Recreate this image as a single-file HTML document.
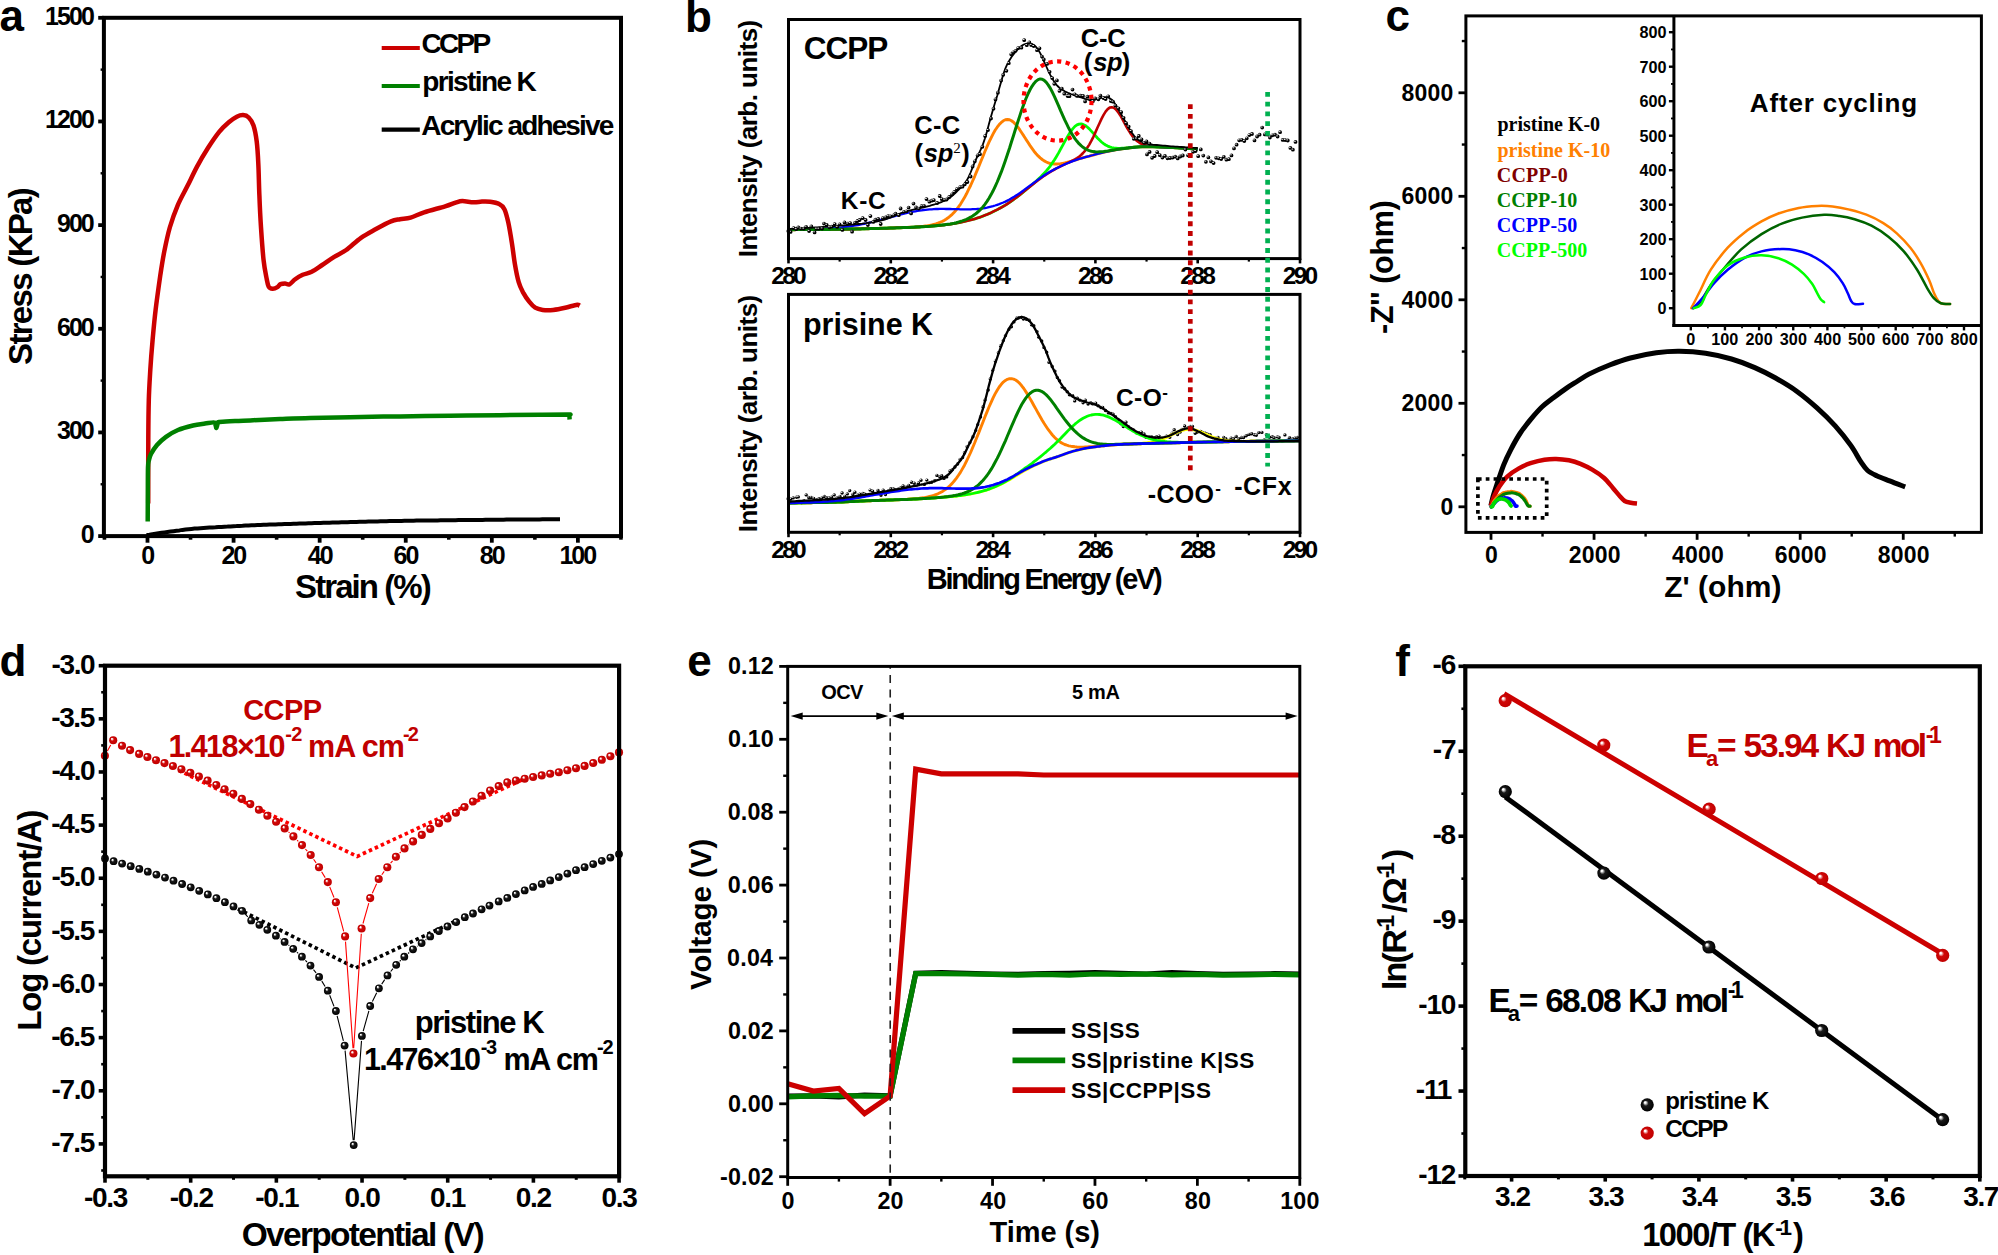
<!DOCTYPE html><html><head><meta charset="utf-8"><title>Figure</title><style>html,body{margin:0;padding:0;background:#fff}svg{display:block}text{white-space:pre}</style></head><body>
<svg width="1998" height="1255" viewBox="0 0 1998 1255">
<rect width="1998" height="1255" fill="#fff"/>
<defs>
<radialGradient id="gk" cx="0.5" cy="0.5" r="0.5" fx="0.32" fy="0.3"><stop offset="0" stop-color="#fff"/><stop offset="0.12" stop-color="#fff"/><stop offset="0.42" stop-color="#1a1a1a"/><stop offset="1" stop-color="#000"/></radialGradient>
<radialGradient id="gr" cx="0.5" cy="0.5" r="0.5" fx="0.32" fy="0.3"><stop offset="0" stop-color="#fff"/><stop offset="0.12" stop-color="#fff"/><stop offset="0.42" stop-color="#d00808"/><stop offset="1" stop-color="#c00000"/></radialGradient>
</defs>
<g id="panel-a">
<path d="M146.5,535.3L149.5,534.8L152.5,534.2L155.5,533.7L158.5,533.2L161.5,532.8L164.5,532.4L167.5,532.0L170.5,531.6L173.5,531.2L176.5,530.8L179.5,530.4L182.5,529.9L185.5,529.5L188.5,529.2L191.5,528.9L194.5,528.6L197.5,528.4L200.5,528.2L203.5,528.0L206.5,527.8L209.5,527.6L212.5,527.4L215.5,527.3L218.5,527.1L221.5,526.9L224.5,526.7L227.5,526.6L230.5,526.4L233.5,526.2L236.5,526.1L239.5,525.9L242.5,525.8L245.5,525.6L248.5,525.5L251.5,525.3L254.5,525.2L257.5,525.1L260.5,525.0L263.5,524.8L266.5,524.7L269.5,524.6L272.5,524.5L275.5,524.4L278.5,524.3L281.5,524.2L284.5,524.1L287.5,524.0L290.5,523.9L293.5,523.8L296.5,523.7L299.5,523.6L302.5,523.5L305.5,523.4L308.5,523.3L311.5,523.2L314.5,523.1L317.5,523.0L320.5,522.9L323.5,522.8L326.5,522.8L329.5,522.7L332.5,522.6L335.5,522.5L338.5,522.4L341.5,522.3L344.5,522.2L347.5,522.2L350.5,522.1L353.5,522.0L356.5,521.9L359.5,521.8L362.5,521.7L365.5,521.7L368.5,521.6L371.5,521.5L374.5,521.4L377.5,521.4L380.5,521.3L383.5,521.2L386.5,521.2L389.5,521.1L392.5,521.0L395.5,521.0L398.5,520.9L401.5,520.9L404.5,520.8L407.5,520.8L410.5,520.7L413.5,520.7L416.5,520.6L419.5,520.6L422.5,520.6L425.5,520.5L428.5,520.5L431.5,520.4L434.5,520.4L437.5,520.4L440.5,520.3L443.5,520.3L446.5,520.3L449.5,520.2L452.5,520.2L455.5,520.2L458.5,520.1L461.5,520.1L464.5,520.1L467.5,520.0L470.5,520.0L473.5,520.0L476.5,519.9L479.5,519.9L482.5,519.9L485.5,519.8L488.5,519.8L491.5,519.8L494.5,519.8L497.5,519.7L500.5,519.7L503.5,519.7L506.5,519.6L509.5,519.6L512.5,519.6L515.5,519.6L518.5,519.5L521.5,519.5L524.5,519.5L527.5,519.5L530.5,519.4L533.5,519.4L536.5,519.4L539.5,519.4L542.5,519.3L545.5,519.3L548.5,519.3L551.5,519.3L554.5,519.2L557.5,519.2L560.0,519.2" fill="none" stroke="#000" stroke-width="4" stroke-linejoin="round"/>
<path d="M148.2,503.6C148.2,492.6 148.2,455.0 148.3,437.7C148.4,420.4 148.5,411.3 148.8,400.0C149.1,388.7 149.7,380.0 150.3,370.0C150.9,360.0 151.7,350.0 152.6,340.0C153.5,330.0 154.3,320.8 155.6,310.0C156.9,299.2 158.9,285.1 160.3,275.3C161.8,265.5 162.7,259.4 164.3,251.4C165.9,243.4 167.6,235.2 169.8,227.5C172.1,219.8 174.9,212.1 177.8,205.2C180.7,198.3 184.2,192.5 187.4,186.1C190.6,179.7 193.5,173.3 196.9,166.9C200.3,160.5 204.4,153.6 208.1,147.8C211.8,142.0 215.8,136.2 219.2,131.9C222.6,127.7 225.9,124.8 228.8,122.3C231.7,119.8 234.4,117.9 236.8,116.7C239.2,115.5 241.1,115.0 243.1,115.1C245.1,115.2 247.0,115.8 248.7,117.5C250.4,119.2 252.2,121.5 253.5,125.5C254.8,129.5 255.9,135.0 256.7,141.4C257.5,147.8 257.9,154.7 258.3,163.7C258.8,172.7 258.9,185.0 259.4,195.6C259.8,206.2 260.3,216.9 261.0,227.5C261.7,238.1 262.6,251.2 263.5,259.4C264.4,267.6 265.4,272.4 266.3,276.9C267.2,281.4 267.6,284.5 268.6,286.5C269.7,288.5 271.1,288.7 272.6,288.8C274.1,288.9 276.1,288.0 277.4,287.2C278.7,286.4 279.3,284.7 280.6,284.1C281.9,283.5 283.5,283.4 285.0,283.4C286.5,283.4 287.7,285.0 289.4,284.3C291.1,283.6 293.0,280.9 295.2,279.3C297.4,277.7 299.9,276.1 302.7,274.8C305.4,273.6 308.4,273.4 311.7,271.8C314.9,270.2 318.4,267.5 322.2,265.0C325.9,262.5 330.2,259.3 334.2,256.8C338.2,254.3 341.7,253.2 346.2,250.0C350.7,246.8 356.0,241.3 361.0,237.8C366.0,234.3 371.0,231.8 376.0,229.0C381.0,226.2 387.0,222.9 391.0,221.3C395.0,219.7 396.7,219.8 400.0,219.2C403.3,218.6 406.6,218.8 410.6,217.6C414.6,216.4 418.4,214.2 424.1,212.3C429.9,210.4 439.9,207.9 445.1,206.3C450.4,204.7 452.7,203.5 455.6,202.6C458.5,201.7 459.4,201.1 462.4,201.1C465.4,201.1 470.3,202.2 473.6,202.3C476.9,202.4 479.2,201.7 482.0,201.6C484.8,201.5 487.3,201.4 490.2,201.8C493.1,202.2 496.8,202.8 499.2,204.1C501.6,205.3 502.9,206.3 504.4,209.3C505.9,212.3 506.9,216.5 508.2,222.1C509.4,227.7 510.8,236.1 511.9,243.1C513.0,250.1 513.8,257.6 514.9,264.1C516.0,270.6 517.3,277.4 518.7,282.1C520.1,286.9 521.5,289.3 523.2,292.6C525.0,295.9 527.2,299.2 529.2,301.7C531.2,304.2 533.0,306.3 535.2,307.7C537.5,309.1 539.7,309.5 542.7,309.9C545.7,310.3 549.5,310.3 553.2,309.9C557.0,309.5 561.2,308.6 565.2,307.7C569.2,306.8 574.8,305.0 577.2,304.7C579.6,304.4 579.1,305.7 579.5,305.9" fill="none" stroke="#CC0000" stroke-width="4.5" stroke-linejoin="round"/>
<path d="M147.7,521.6C147.7,518.0 147.8,509.0 147.8,500.0C147.9,491.0 147.8,474.3 148.0,467.6C148.2,460.9 148.5,462.3 149.0,460.0C149.5,457.7 149.7,456.5 151.0,454.0C152.3,451.5 154.5,447.9 157.0,445.0C159.5,442.1 162.5,439.3 166.0,436.8C169.5,434.3 173.5,431.9 178.0,430.0C182.5,428.1 188.5,426.6 193.0,425.5C197.5,424.4 201.5,424.1 205.0,423.6C208.5,423.1 212.3,422.2 214.0,422.4C215.7,422.5 215.0,423.6 215.4,424.5C215.8,425.4 216.1,428.1 216.4,428.0C216.8,427.9 217.1,425.2 217.5,424.2C217.9,423.2 216.1,422.5 219.0,422.0C221.9,421.5 229.8,421.3 235.0,421.0C240.2,420.7 242.7,420.7 250.2,420.4C257.7,420.1 270.0,419.4 280.0,419.0C290.0,418.6 298.5,418.2 310.2,417.9C321.9,417.6 335.0,417.4 350.0,417.2C365.0,416.9 383.3,416.6 400.0,416.4C416.7,416.2 433.3,416.0 450.0,415.8C466.7,415.6 485.0,415.4 500.0,415.2C515.0,415.0 528.7,414.9 540.0,414.8C551.3,414.7 563.1,414.6 568.0,414.6C572.9,414.6 569.0,414.0 569.3,414.8C569.6,415.6 569.5,418.7 569.6,419.5" fill="none" stroke="#008000" stroke-width="4.5" stroke-linejoin="round"/>
<rect x="103.90" y="17.80" width="517.10" height="518.30" fill="none" stroke="#000" stroke-width="4"/>
<line x1="147.50" y1="536.10" x2="147.50" y2="542.70" stroke="#000" stroke-width="3.8" />
<line x1="233.58" y1="536.10" x2="233.58" y2="542.70" stroke="#000" stroke-width="3.8" />
<line x1="319.66" y1="536.10" x2="319.66" y2="542.70" stroke="#000" stroke-width="3.8" />
<line x1="405.74" y1="536.10" x2="405.74" y2="542.70" stroke="#000" stroke-width="3.8" />
<line x1="491.82" y1="536.10" x2="491.82" y2="542.70" stroke="#000" stroke-width="3.8" />
<line x1="577.90" y1="536.10" x2="577.90" y2="542.70" stroke="#000" stroke-width="3.8" />
<line x1="104.46" y1="536.10" x2="104.46" y2="539.70" stroke="#000" stroke-width="3.6" />
<line x1="190.54" y1="536.10" x2="190.54" y2="539.70" stroke="#000" stroke-width="3.6" />
<line x1="276.62" y1="536.10" x2="276.62" y2="539.70" stroke="#000" stroke-width="3.6" />
<line x1="362.70" y1="536.10" x2="362.70" y2="539.70" stroke="#000" stroke-width="3.6" />
<line x1="448.78" y1="536.10" x2="448.78" y2="539.70" stroke="#000" stroke-width="3.6" />
<line x1="534.86" y1="536.10" x2="534.86" y2="539.70" stroke="#000" stroke-width="3.6" />
<line x1="620.94" y1="536.10" x2="620.94" y2="539.70" stroke="#000" stroke-width="3.6" />
<line x1="103.90" y1="536.10" x2="98.20" y2="536.10" stroke="#000" stroke-width="3.8" />
<line x1="103.90" y1="432.44" x2="98.20" y2="432.44" stroke="#000" stroke-width="3.8" />
<line x1="103.90" y1="328.78" x2="98.20" y2="328.78" stroke="#000" stroke-width="3.8" />
<line x1="103.90" y1="225.12" x2="98.20" y2="225.12" stroke="#000" stroke-width="3.8" />
<line x1="103.90" y1="121.46" x2="98.20" y2="121.46" stroke="#000" stroke-width="3.8" />
<line x1="103.90" y1="17.81" x2="98.20" y2="17.81" stroke="#000" stroke-width="3.8" />
<line x1="103.90" y1="484.27" x2="100.60" y2="484.27" stroke="#000" stroke-width="2.4" />
<line x1="103.90" y1="380.61" x2="100.60" y2="380.61" stroke="#000" stroke-width="2.4" />
<line x1="103.90" y1="276.95" x2="100.60" y2="276.95" stroke="#000" stroke-width="2.4" />
<line x1="103.90" y1="173.29" x2="100.60" y2="173.29" stroke="#000" stroke-width="2.4" />
<line x1="103.90" y1="69.63" x2="100.60" y2="69.63" stroke="#000" stroke-width="2.4" />
<text x="80.86" y="543.10" font-size="25" letter-spacing="-1.954" fill="#000" font-family='"Liberation Sans",Arial,sans-serif' font-weight="bold" font-style="normal">0</text>
<text x="56.96" y="439.44" font-size="25" letter-spacing="-1.954" fill="#000" font-family='"Liberation Sans",Arial,sans-serif' font-weight="bold" font-style="normal">300</text>
<text x="56.96" y="335.78" font-size="25" letter-spacing="-1.954" fill="#000" font-family='"Liberation Sans",Arial,sans-serif' font-weight="bold" font-style="normal">600</text>
<text x="56.96" y="232.12" font-size="25" letter-spacing="-1.954" fill="#000" font-family='"Liberation Sans",Arial,sans-serif' font-weight="bold" font-style="normal">900</text>
<text x="45.04" y="128.46" font-size="25" letter-spacing="-1.954" fill="#000" font-family='"Liberation Sans",Arial,sans-serif' font-weight="bold" font-style="normal">1200</text>
<text x="45.04" y="24.81" font-size="25" letter-spacing="-1.954" fill="#000" font-family='"Liberation Sans",Arial,sans-serif' font-weight="bold" font-style="normal">1500</text>
<text x="141.26" y="563.70" font-size="25" letter-spacing="-1.994" fill="#000" font-family='"Liberation Sans",Arial,sans-serif' font-weight="bold" font-style="normal">0</text>
<text x="221.46" y="563.70" font-size="25" letter-spacing="-1.994" fill="#000" font-family='"Liberation Sans",Arial,sans-serif' font-weight="bold" font-style="normal">20</text>
<text x="307.76" y="563.70" font-size="25" letter-spacing="-1.994" fill="#000" font-family='"Liberation Sans",Arial,sans-serif' font-weight="bold" font-style="normal">40</text>
<text x="393.59" y="563.70" font-size="25" letter-spacing="-1.994" fill="#000" font-family='"Liberation Sans",Arial,sans-serif' font-weight="bold" font-style="normal">60</text>
<text x="479.74" y="563.70" font-size="25" letter-spacing="-1.994" fill="#000" font-family='"Liberation Sans",Arial,sans-serif' font-weight="bold" font-style="normal">80</text>
<text x="559.44" y="563.70" font-size="25" letter-spacing="-1.994" fill="#000" font-family='"Liberation Sans",Arial,sans-serif' font-weight="bold" font-style="normal">100</text>
<text x="295.09" y="597.90" font-size="33" letter-spacing="-1.928" fill="#000" font-family='"Liberation Sans",Arial,sans-serif' font-weight="bold" font-style="normal" >Strain (%)</text>
<text transform="translate(31.90,364.00) rotate(-90)" x="-0.91" y="0" font-size="33" letter-spacing="-1.690" fill="#000" font-family='"Liberation Sans",Arial,sans-serif' font-weight="bold" font-style="normal">Stress (KPa)</text>
<text x="-0.41" y="31.30" font-size="44" letter-spacing="0.000" fill="#000" font-family='"Liberation Sans",Arial,sans-serif' font-weight="bold" font-style="normal" >a</text>
<line x1="381.70" y1="48.00" x2="419.80" y2="48.00" stroke="#CC0000" stroke-width="4.2" />
<line x1="381.70" y1="86.00" x2="419.80" y2="86.00" stroke="#008000" stroke-width="4.2" />
<line x1="381.70" y1="129.60" x2="419.80" y2="129.60" stroke="#000" stroke-width="4.2" />
<text x="421.58" y="53.20" font-size="28" letter-spacing="-2.703" fill="#000" font-family='"Liberation Sans",Arial,sans-serif' font-weight="bold" font-style="normal" >CCPP</text>
<text x="422.18" y="91.30" font-size="28" letter-spacing="-1.613" fill="#000" font-family='"Liberation Sans",Arial,sans-serif' font-weight="bold" font-style="normal" >pristine K</text>
<text x="421.30" y="135.20" font-size="28" letter-spacing="-1.872" fill="#000" font-family='"Liberation Sans",Arial,sans-serif' font-weight="bold" font-style="normal" >Acrylic adhesive</text>
</g>
<g id="panel-b">
<path d="M788.5,229.7L790.5,229.7L792.6,229.7L794.6,229.7L796.7,229.6L798.7,229.6L800.8,229.6L802.8,229.6L804.9,229.6L806.9,229.6L809.0,229.5L811.0,229.5L813.1,229.5L815.1,229.5L817.1,229.5L819.2,229.5L821.2,229.4L823.3,229.4L825.3,229.4L827.4,229.4L829.4,229.4L831.5,229.3L833.5,229.3L835.6,229.3L837.6,229.3L839.6,229.2L841.7,229.2L843.7,229.2L845.8,229.1L847.8,229.1L849.9,229.1L851.9,229.0L854.0,229.0L856.0,228.9L858.1,228.9L860.1,228.9L862.2,228.8L864.2,228.8L866.2,228.7L868.3,228.7L870.3,228.6L872.4,228.5L874.4,228.5L876.5,228.4L878.5,228.4L880.6,228.3L882.6,228.3L884.7,228.2L886.7,228.2L888.8,228.1L890.8,228.0L892.8,228.0L894.9,227.9L896.9,227.8L899.0,227.8L901.0,227.7L903.1,227.6L905.1,227.5L907.2,227.4L909.2,227.3L911.3,227.2L913.3,227.1L915.4,227.0L917.4,226.8L919.4,226.7L921.5,226.5L923.5,226.3L925.6,226.0L927.6,225.7L929.7,225.3L931.7,224.9L933.8,224.4L935.8,223.9L937.9,223.2L939.9,222.4L942.0,221.5L944.0,220.4L946.0,219.2L948.1,217.8L950.1,216.2L952.2,214.3L954.2,212.2L956.3,209.8L958.3,207.2L960.4,204.3L962.4,201.1L964.5,197.6L966.5,193.8L968.5,189.7L970.6,185.5L972.6,181.0L974.7,176.3L976.7,171.4L978.8,166.5L980.8,161.5L982.9,156.5L984.9,151.5L987.0,146.7L989.0,142.1L991.1,137.8L993.1,133.9L995.1,130.3L997.2,127.2L999.2,124.6L1001.3,122.4L1003.3,120.8L1005.4,119.8L1007.4,119.5L1009.5,119.8L1011.5,120.8L1013.6,122.3L1015.6,124.4L1017.7,126.9L1019.7,129.7L1021.7,132.7L1023.8,135.9L1025.8,139.1L1027.9,142.3L1029.9,145.4L1032.0,148.4L1034.0,151.2L1036.1,153.7L1038.1,155.9L1040.2,157.9L1042.2,159.5L1044.2,160.9L1046.3,162.0L1048.3,162.9L1050.4,163.5L1052.4,163.8L1054.5,164.0L1056.5,164.0L1058.6,163.9L1060.6,163.7L1062.7,163.3L1064.7,162.9L1066.8,162.4L1068.8,161.8L1070.8,161.3L1072.9,160.7L1074.9,160.1L1077.0,159.5L1079.0,158.9L1081.1,158.3L1083.1,157.7L1085.2,157.2L1087.2,156.6L1089.3,156.1L1091.3,155.5L1093.4,155.0L1095.4,154.4L1097.4,153.9L1099.5,153.4L1101.5,152.9L1103.6,152.4L1105.6,151.9L1107.7,151.4L1109.7,151.0L1111.8,150.6L1113.8,150.1L1115.9,149.8L1117.9,149.4L1120.0,149.1L1122.0,148.8L1124.0,148.5L1126.1,148.2L1128.1,148.0L1130.2,147.7L1132.2,147.5L1134.3,147.3L1136.3,147.1L1138.4,146.9L1140.4,146.8L1142.5,146.7L1144.5,146.7L1146.5,146.7L1148.6,146.7L1150.6,146.7L1152.7,146.7L1154.7,146.8L1156.8,146.9L1158.8,146.9L1160.9,147.0L1162.9,147.1L1165.0,147.2L1167.0,147.3L1169.1,147.4L1171.1,147.5L1173.1,147.6L1175.2,147.7L1177.2,147.8L1179.3,147.9L1181.3,148.0L1183.4,148.1L1185.4,148.3L1187.5,148.4L1189.5,148.5L1191.6,148.7L1193.6,148.8L1195.7,148.9L1197.7,149.0" fill="none" stroke="#FF8000" stroke-width="2.9" stroke-linejoin="round"/>
<path d="M788.5,229.7L790.5,229.7L792.6,229.7L794.6,229.7L796.7,229.6L798.7,229.6L800.8,229.6L802.8,229.6L804.9,229.6L806.9,229.6L809.0,229.5L811.0,229.5L813.1,229.5L815.1,229.5L817.1,229.5L819.2,229.5L821.2,229.4L823.3,229.4L825.3,229.4L827.4,229.4L829.4,229.4L831.5,229.3L833.5,229.3L835.6,229.3L837.6,229.3L839.6,229.2L841.7,229.2L843.7,229.2L845.8,229.1L847.8,229.1L849.9,229.1L851.9,229.0L854.0,229.0L856.0,228.9L858.1,228.9L860.1,228.9L862.2,228.8L864.2,228.8L866.2,228.7L868.3,228.7L870.3,228.6L872.4,228.5L874.4,228.5L876.5,228.4L878.5,228.4L880.6,228.3L882.6,228.3L884.7,228.2L886.7,228.2L888.8,228.1L890.8,228.0L892.8,228.0L894.9,227.9L896.9,227.8L899.0,227.8L901.0,227.7L903.1,227.6L905.1,227.6L907.2,227.5L909.2,227.4L911.3,227.3L913.3,227.2L915.4,227.1L917.4,227.0L919.4,226.9L921.5,226.8L923.5,226.7L925.6,226.6L927.6,226.4L929.7,226.3L931.7,226.1L933.8,225.9L935.8,225.8L937.9,225.6L939.9,225.4L942.0,225.2L944.0,224.9L946.0,224.7L948.1,224.4L950.1,224.2L952.2,223.9L954.2,223.5L956.3,223.2L958.3,222.8L960.4,222.4L962.4,222.0L964.5,221.5L966.5,221.0L968.5,220.5L970.6,220.0L972.6,219.4L974.7,218.9L976.7,218.2L978.8,217.6L980.8,216.9L982.9,216.1L984.9,215.3L987.0,214.5L989.0,213.6L991.1,212.7L993.1,211.7L995.1,210.7L997.2,209.7L999.2,208.6L1001.3,207.5L1003.3,206.3L1005.4,205.1L1007.4,203.8L1009.5,202.4L1011.5,201.0L1013.6,199.5L1015.6,198.0L1017.7,196.5L1019.7,194.9L1021.7,193.3L1023.8,191.6L1025.8,189.9L1027.9,188.2L1029.9,186.5L1032.0,184.7L1034.0,183.0L1036.1,181.2L1038.1,179.3L1040.2,177.4L1042.2,175.3L1044.2,173.2L1046.3,170.9L1048.3,168.5L1050.4,165.8L1052.4,162.9L1054.5,159.8L1056.5,156.5L1058.6,152.9L1060.6,149.2L1062.7,145.4L1064.7,141.6L1066.8,137.9L1068.8,134.4L1070.8,131.3L1072.9,128.6L1074.9,126.4L1077.0,124.9L1079.0,124.1L1081.1,123.9L1083.1,124.4L1085.2,125.4L1087.2,127.0L1089.3,128.9L1091.3,131.1L1093.4,133.4L1095.4,135.7L1097.4,138.0L1099.5,140.1L1101.5,142.0L1103.6,143.6L1105.6,145.0L1107.7,146.1L1109.7,146.9L1111.8,147.5L1113.8,147.9L1115.9,148.1L1117.9,148.3L1120.0,148.3L1122.0,148.2L1124.0,148.1L1126.1,148.0L1128.1,147.8L1130.2,147.6L1132.2,147.4L1134.3,147.2L1136.3,147.1L1138.4,146.9L1140.4,146.8L1142.5,146.7L1144.5,146.7L1146.5,146.6L1148.6,146.7L1150.6,146.7L1152.7,146.7L1154.7,146.8L1156.8,146.9L1158.8,146.9L1160.9,147.0L1162.9,147.1L1165.0,147.2L1167.0,147.3L1169.1,147.4L1171.1,147.5L1173.1,147.6L1175.2,147.7L1177.2,147.8L1179.3,147.9L1181.3,148.0L1183.4,148.1L1185.4,148.3L1187.5,148.4L1189.5,148.5L1191.6,148.7L1193.6,148.8L1195.7,148.9L1197.7,149.0" fill="none" stroke="#00FF00" stroke-width="2.8" stroke-linejoin="round"/>
<path d="M788.5,229.7L790.5,229.7L792.6,229.7L794.6,229.7L796.7,229.6L798.7,229.6L800.8,229.6L802.8,229.6L804.9,229.6L806.9,229.6L809.0,229.5L811.0,229.5L813.1,229.5L815.1,229.5L817.1,229.5L819.2,229.5L821.2,229.4L823.3,229.4L825.3,229.4L827.4,229.4L829.4,229.4L831.5,229.3L833.5,229.3L835.6,229.3L837.6,229.3L839.6,229.2L841.7,229.2L843.7,229.2L845.8,229.1L847.8,229.1L849.9,229.1L851.9,229.0L854.0,229.0L856.0,228.9L858.1,228.9L860.1,228.9L862.2,228.8L864.2,228.8L866.2,228.7L868.3,228.7L870.3,228.6L872.4,228.5L874.4,228.5L876.5,228.4L878.5,228.4L880.6,228.3L882.6,228.3L884.7,228.2L886.7,228.2L888.8,228.1L890.8,228.0L892.8,228.0L894.9,227.9L896.9,227.8L899.0,227.8L901.0,227.7L903.1,227.6L905.1,227.6L907.2,227.5L909.2,227.4L911.3,227.3L913.3,227.2L915.4,227.1L917.4,227.0L919.4,226.9L921.5,226.8L923.5,226.7L925.6,226.6L927.6,226.4L929.7,226.3L931.7,226.1L933.8,225.9L935.8,225.8L937.9,225.6L939.9,225.4L942.0,225.2L944.0,224.9L946.0,224.7L948.1,224.4L950.1,224.2L952.2,223.9L954.2,223.5L956.3,223.2L958.3,222.8L960.4,222.4L962.4,222.0L964.5,221.5L966.5,221.0L968.5,220.5L970.6,220.0L972.6,219.4L974.7,218.9L976.7,218.2L978.8,217.6L980.8,216.9L982.9,216.1L984.9,215.3L987.0,214.5L989.0,213.6L991.1,212.7L993.1,211.7L995.1,210.7L997.2,209.7L999.2,208.6L1001.3,207.5L1003.3,206.3L1005.4,205.1L1007.4,203.8L1009.5,202.4L1011.5,201.0L1013.6,199.5L1015.6,198.0L1017.7,196.5L1019.7,194.9L1021.7,193.3L1023.8,191.6L1025.8,190.0L1027.9,188.3L1029.9,186.7L1032.0,185.0L1034.0,183.4L1036.1,181.8L1038.1,180.2L1040.2,178.7L1042.2,177.2L1044.2,175.8L1046.3,174.4L1048.3,173.1L1050.4,171.9L1052.4,170.7L1054.5,169.5L1056.5,168.4L1058.6,167.4L1060.6,166.4L1062.7,165.4L1064.7,164.4L1066.8,163.4L1068.8,162.5L1070.8,161.5L1072.9,160.5L1074.9,159.4L1077.0,158.1L1079.0,156.7L1081.1,155.0L1083.1,153.0L1085.2,150.6L1087.2,147.8L1089.3,144.6L1091.3,140.9L1093.4,136.8L1095.4,132.4L1097.4,127.8L1099.5,123.3L1101.5,118.9L1103.6,114.9L1105.6,111.6L1107.7,109.1L1109.7,107.6L1111.8,107.2L1113.8,107.8L1115.9,109.4L1117.9,111.8L1120.0,114.9L1122.0,118.4L1124.0,122.2L1126.1,126.0L1128.1,129.6L1130.2,132.9L1132.2,135.8L1134.3,138.3L1136.3,140.4L1138.4,142.0L1140.4,143.3L1142.5,144.3L1144.5,145.0L1146.5,145.5L1148.6,145.9L1150.6,146.2L1152.7,146.4L1154.7,146.6L1156.8,146.8L1158.8,146.9L1160.9,147.0L1162.9,147.1L1165.0,147.2L1167.0,147.3L1169.1,147.4L1171.1,147.5L1173.1,147.6L1175.2,147.7L1177.2,147.8L1179.3,147.9L1181.3,148.0L1183.4,148.1L1185.4,148.3L1187.5,148.4L1189.5,148.5L1191.6,148.7L1193.6,148.8L1195.7,148.9L1197.7,149.0" fill="none" stroke="#C00000" stroke-width="2.6" stroke-linejoin="round"/>
<path d="M788.5,229.6L790.5,229.6L792.6,229.6L794.6,229.6L796.7,229.5L798.7,229.5L800.8,229.5L802.8,229.4L804.9,229.4L806.9,229.3L809.0,229.3L811.0,229.2L813.1,229.2L815.1,229.1L817.1,229.0L819.2,228.9L821.2,228.9L823.3,228.8L825.3,228.6L827.4,228.5L829.4,228.4L831.5,228.3L833.5,228.1L835.6,227.9L837.6,227.8L839.6,227.6L841.7,227.4L843.7,227.1L845.8,226.9L847.8,226.6L849.9,226.3L851.9,226.0L854.0,225.7L856.0,225.4L858.1,225.0L860.1,224.6L862.2,224.2L864.2,223.8L866.2,223.4L868.3,222.9L870.3,222.5L872.4,222.0L874.4,221.5L876.5,221.0L878.5,220.5L880.6,219.9L882.6,219.4L884.7,218.8L886.7,218.3L888.8,217.7L890.8,217.2L892.8,216.6L894.9,216.1L896.9,215.5L899.0,215.0L901.0,214.5L903.1,214.0L905.1,213.5L907.2,213.0L909.2,212.5L911.3,212.1L913.3,211.7L915.4,211.3L917.4,210.9L919.4,210.6L921.5,210.3L923.5,210.0L925.6,209.8L927.6,209.6L929.7,209.4L931.7,209.3L933.8,209.1L935.8,209.0L937.9,209.0L939.9,208.9L942.0,208.9L944.0,208.9L946.0,209.0L948.1,209.0L950.1,209.0L952.2,209.1L954.2,209.2L956.3,209.2L958.3,209.2L960.4,209.3L962.4,209.3L964.5,209.3L966.5,209.3L968.5,209.3L970.6,209.3L972.6,209.2L974.7,209.1L976.7,209.0L978.8,208.8L980.8,208.6L982.9,208.3L984.9,208.0L987.0,207.6L989.0,207.1L991.1,206.6L993.1,206.1L995.1,205.5L997.2,204.8L999.2,204.1L1001.3,203.3L1003.3,202.5L1005.4,201.6L1007.4,200.6L1009.5,199.5L1011.5,198.3L1013.6,197.1L1015.6,195.8L1017.7,194.5L1019.7,193.1L1021.7,191.7L1023.8,190.2L1025.8,188.7L1027.9,187.1L1029.9,185.6L1032.0,184.1L1034.0,182.6L1036.1,181.1L1038.1,179.6L1040.2,178.1L1042.2,176.7L1044.2,175.3L1046.3,174.0L1048.3,172.8L1050.4,171.6L1052.4,170.4L1054.5,169.3L1056.5,168.2L1058.6,167.2L1060.6,166.2L1062.7,165.3L1064.7,164.4L1066.8,163.5L1068.8,162.7L1070.8,161.9L1072.9,161.1L1074.9,160.4L1077.0,159.7L1079.0,159.0L1081.1,158.4L1083.1,157.8L1085.2,157.2L1087.2,156.6L1089.3,156.1L1091.3,155.5L1093.4,155.0L1095.4,154.4L1097.4,153.9L1099.5,153.4L1101.5,152.9L1103.6,152.4L1105.6,151.9L1107.7,151.4L1109.7,151.0L1111.8,150.6L1113.8,150.1L1115.9,149.8L1117.9,149.4L1120.0,149.1L1122.0,148.8L1124.0,148.5L1126.1,148.2L1128.1,148.0L1130.2,147.7L1132.2,147.5L1134.3,147.3L1136.3,147.1L1138.4,146.9L1140.4,146.8L1142.5,146.7L1144.5,146.7L1146.5,146.7L1148.6,146.7L1150.6,146.7L1152.7,146.7L1154.7,146.8L1156.8,146.9L1158.8,146.9L1160.9,147.0L1162.9,147.1L1165.0,147.2L1167.0,147.3L1169.1,147.4L1171.1,147.5L1173.1,147.6L1175.2,147.7L1177.2,147.8L1179.3,147.9L1181.3,148.0L1183.4,148.1L1185.4,148.3L1187.5,148.4L1189.5,148.5L1191.6,148.7L1193.6,148.8L1195.7,148.9L1197.7,149.0" fill="none" stroke="#0000FF" stroke-width="2.3" stroke-linejoin="round"/>
<path d="M788.5,229.7L790.5,229.7L792.6,229.7L794.6,229.7L796.7,229.6L798.7,229.6L800.8,229.6L802.8,229.6L804.9,229.6L806.9,229.6L809.0,229.5L811.0,229.5L813.1,229.5L815.1,229.5L817.1,229.5L819.2,229.5L821.2,229.4L823.3,229.4L825.3,229.4L827.4,229.4L829.4,229.4L831.5,229.3L833.5,229.3L835.6,229.3L837.6,229.3L839.6,229.2L841.7,229.2L843.7,229.2L845.8,229.1L847.8,229.1L849.9,229.1L851.9,229.0L854.0,229.0L856.0,228.9L858.1,228.9L860.1,228.9L862.2,228.8L864.2,228.8L866.2,228.7L868.3,228.7L870.3,228.6L872.4,228.5L874.4,228.5L876.5,228.4L878.5,228.4L880.6,228.3L882.6,228.3L884.7,228.2L886.7,228.2L888.8,228.1L890.8,228.0L892.8,228.0L894.9,227.9L896.9,227.8L899.0,227.8L901.0,227.7L903.1,227.6L905.1,227.6L907.2,227.5L909.2,227.4L911.3,227.3L913.3,227.2L915.4,227.1L917.4,227.0L919.4,226.9L921.5,226.8L923.5,226.7L925.6,226.6L927.6,226.4L929.7,226.3L931.7,226.1L933.8,225.9L935.8,225.7L937.9,225.5L939.9,225.3L942.0,225.1L944.0,224.9L946.0,224.6L948.1,224.3L950.1,224.0L952.2,223.6L954.2,223.2L956.3,222.7L958.3,222.1L960.4,221.5L962.4,220.9L964.5,220.1L966.5,219.3L968.5,218.3L970.6,217.2L972.6,216.0L974.7,214.6L976.7,213.0L978.8,211.2L980.8,209.2L982.9,206.9L984.9,204.3L987.0,201.4L989.0,198.2L991.1,194.6L993.1,190.8L995.1,186.6L997.2,182.0L999.2,177.1L1001.3,171.9L1003.3,166.4L1005.4,160.5L1007.4,154.5L1009.5,148.2L1011.5,141.7L1013.6,135.2L1015.6,128.7L1017.7,122.3L1019.7,116.1L1021.7,110.0L1023.8,104.3L1025.8,99.0L1027.9,94.2L1029.9,90.0L1032.0,86.3L1034.0,83.4L1036.1,81.1L1038.1,79.6L1040.2,78.9L1042.2,79.2L1044.2,80.4L1046.3,82.4L1048.3,85.1L1050.4,88.4L1052.4,92.3L1054.5,96.6L1056.5,101.1L1058.6,105.8L1060.6,110.6L1062.7,115.3L1064.7,119.9L1066.8,124.2L1068.8,128.3L1070.8,132.1L1072.9,135.5L1074.9,138.6L1077.0,141.3L1079.0,143.7L1081.1,145.7L1083.1,147.3L1085.2,148.7L1087.2,149.8L1089.3,150.6L1091.3,151.2L1093.4,151.6L1095.4,151.8L1097.4,151.9L1099.5,151.8L1101.5,151.7L1103.6,151.5L1105.6,151.2L1107.7,151.0L1109.7,150.6L1111.8,150.3L1113.8,150.0L1115.9,149.6L1117.9,149.3L1120.0,149.0L1122.0,148.7L1124.0,148.5L1126.1,148.2L1128.1,147.9L1130.2,147.7L1132.2,147.5L1134.3,147.3L1136.3,147.1L1138.4,146.9L1140.4,146.8L1142.5,146.7L1144.5,146.7L1146.5,146.7L1148.6,146.7L1150.6,146.7L1152.7,146.7L1154.7,146.8L1156.8,146.9L1158.8,146.9L1160.9,147.0L1162.9,147.1L1165.0,147.2L1167.0,147.3L1169.1,147.4L1171.1,147.5L1173.1,147.6L1175.2,147.7L1177.2,147.8L1179.3,147.9L1181.3,148.0L1183.4,148.1L1185.4,148.3L1187.5,148.4L1189.5,148.5L1191.6,148.7L1193.6,148.8L1195.7,148.9L1197.7,149.0" fill="none" stroke="#008000" stroke-width="3.0" stroke-linejoin="round"/>
<path d="M788.5,228.9L790.5,228.9L792.6,228.7L794.6,228.6L796.7,228.5L798.7,228.4L800.8,228.3L802.8,228.1L804.9,228.0L806.9,227.9L809.0,227.8L811.0,227.7L813.1,227.6L815.1,227.4L817.1,227.3L819.2,227.2L821.2,227.1L823.3,226.9L825.3,226.8L827.4,226.6L829.4,226.5L831.5,226.4L833.5,226.2L835.6,226.0L837.6,225.9L839.6,225.7L841.7,225.5L843.7,225.4L845.8,225.2L847.8,225.0L849.9,224.8L851.9,224.6L854.0,224.5L856.0,224.2L858.1,224.0L860.1,223.8L862.2,223.6L864.2,223.3L866.2,223.1L868.3,222.8L870.3,222.5L872.4,222.2L874.4,221.9L876.5,221.6L878.5,221.2L880.6,220.7L882.6,220.2L884.7,219.6L886.7,218.9L888.8,218.1L890.8,217.3L892.8,216.5L894.9,215.7L896.9,214.8L899.0,214.0L901.0,213.2L903.1,212.5L905.1,211.8L907.2,211.2L909.2,210.7L911.3,210.1L913.3,209.6L915.4,209.2L917.4,208.7L919.4,208.2L921.5,207.8L923.5,207.3L925.6,206.8L927.6,206.3L929.7,205.8L931.7,205.2L933.8,204.6L935.8,204.0L937.9,203.3L939.9,202.6L942.0,201.8L944.0,200.9L946.0,200.0L948.1,198.9L950.1,197.5L952.2,195.9L954.2,194.1L956.3,192.1L958.3,190.0L960.4,187.9L962.4,185.8L964.5,183.6L966.5,180.9L968.5,177.2L970.6,172.5L972.6,167.4L974.7,162.4L976.7,157.9L978.8,153.6L980.8,149.3L982.9,144.4L984.9,138.5L987.0,131.5L989.0,123.8L991.1,116.2L993.1,109.2L995.1,102.5L997.2,95.8L999.2,88.6L1001.3,81.2L1003.3,74.2L1005.4,68.4L1007.4,63.9L1009.5,60.2L1011.5,57.0L1013.6,54.2L1015.6,51.6L1017.7,49.4L1019.7,47.4L1021.7,45.8L1023.8,44.5L1025.8,43.8L1027.9,43.4L1029.9,43.5L1032.0,44.1L1034.0,45.3L1036.1,47.0L1038.1,49.5L1040.2,53.1L1042.2,57.3L1044.2,61.9L1046.3,66.5L1048.3,70.9L1050.4,75.1L1052.4,78.8L1054.5,82.2L1056.5,84.9L1058.6,87.0L1060.6,88.7L1062.7,90.0L1064.7,91.2L1066.8,92.2L1068.8,93.2L1070.8,94.0L1072.9,94.7L1074.9,95.4L1077.0,96.1L1079.0,96.8L1081.1,97.5L1083.1,98.2L1085.2,98.8L1087.2,99.3L1089.3,99.6L1091.3,99.8L1093.4,99.7L1095.4,99.4L1097.4,98.9L1099.5,98.4L1101.5,97.8L1103.6,97.3L1105.6,97.1L1107.7,97.3L1109.7,98.2L1111.8,99.7L1113.8,102.1L1115.9,105.3L1117.9,108.6L1120.0,112.1L1122.0,115.7L1124.0,119.3L1126.1,122.9L1128.1,126.6L1130.2,130.1L1132.2,133.3L1134.3,136.0L1136.3,138.3L1138.4,140.0L1140.4,141.3L1142.5,142.3L1144.5,143.1L1146.5,143.6L1148.6,144.0L1150.6,144.3L1152.7,144.6L1154.7,144.8L1156.8,145.0L1158.8,145.2L1160.9,145.4L1162.9,145.6L1165.0,145.7L1167.0,145.9L1169.1,146.1L1171.1,146.3L1173.1,146.4L1175.2,146.6L1177.2,146.7L1179.3,146.9L1181.3,147.0L1183.4,147.1L1185.4,147.3L1187.5,147.4L1189.5,147.5L1191.6,147.7L1193.6,147.8L1195.7,147.9L1197.7,148.0" fill="none" stroke="#000" stroke-width="1.8" stroke-linejoin="round"/>
<path d="M786.4,231.1a1.9,1.9 0 1,0 3.8,0a1.9,1.9 0 1,0 -3.8,0M788.7,231.9a1.9,1.9 0 1,0 3.8,0a1.9,1.9 0 1,0 -3.8,0M791.8,228.1a1.9,1.9 0 1,0 3.8,0a1.9,1.9 0 1,0 -3.8,0M794.3,229.2a1.9,1.9 0 1,0 3.8,0a1.9,1.9 0 1,0 -3.8,0M796.4,227.5a1.9,1.9 0 1,0 3.8,0a1.9,1.9 0 1,0 -3.8,0M799.0,228.6a1.9,1.9 0 1,0 3.8,0a1.9,1.9 0 1,0 -3.8,0M801.9,228.7a1.9,1.9 0 1,0 3.8,0a1.9,1.9 0 1,0 -3.8,0M804.2,226.8a1.9,1.9 0 1,0 3.8,0a1.9,1.9 0 1,0 -3.8,0M807.2,231.0a1.9,1.9 0 1,0 3.8,0a1.9,1.9 0 1,0 -3.8,0M809.5,226.5a1.9,1.9 0 1,0 3.8,0a1.9,1.9 0 1,0 -3.8,0M812.7,232.4a1.9,1.9 0 1,0 3.8,0a1.9,1.9 0 1,0 -3.8,0M814.5,228.8a1.9,1.9 0 1,0 3.8,0a1.9,1.9 0 1,0 -3.8,0M816.9,228.8a1.9,1.9 0 1,0 3.8,0a1.9,1.9 0 1,0 -3.8,0M820.2,228.5a1.9,1.9 0 1,0 3.8,0a1.9,1.9 0 1,0 -3.8,0M822.1,223.6a1.9,1.9 0 1,0 3.8,0a1.9,1.9 0 1,0 -3.8,0M824.8,224.9a1.9,1.9 0 1,0 3.8,0a1.9,1.9 0 1,0 -3.8,0M827.6,227.3a1.9,1.9 0 1,0 3.8,0a1.9,1.9 0 1,0 -3.8,0M829.8,226.7a1.9,1.9 0 1,0 3.8,0a1.9,1.9 0 1,0 -3.8,0M832.8,224.1a1.9,1.9 0 1,0 3.8,0a1.9,1.9 0 1,0 -3.8,0M835.3,226.9a1.9,1.9 0 1,0 3.8,0a1.9,1.9 0 1,0 -3.8,0M837.7,224.3a1.9,1.9 0 1,0 3.8,0a1.9,1.9 0 1,0 -3.8,0M840.5,229.9a1.9,1.9 0 1,0 3.8,0a1.9,1.9 0 1,0 -3.8,0M842.6,222.4a1.9,1.9 0 1,0 3.8,0a1.9,1.9 0 1,0 -3.8,0M845.8,223.6a1.9,1.9 0 1,0 3.8,0a1.9,1.9 0 1,0 -3.8,0M848.2,223.1a1.9,1.9 0 1,0 3.8,0a1.9,1.9 0 1,0 -3.8,0M850.2,231.7a1.9,1.9 0 1,0 3.8,0a1.9,1.9 0 1,0 -3.8,0M853.0,222.8a1.9,1.9 0 1,0 3.8,0a1.9,1.9 0 1,0 -3.8,0M855.6,221.0a1.9,1.9 0 1,0 3.8,0a1.9,1.9 0 1,0 -3.8,0M857.7,220.0a1.9,1.9 0 1,0 3.8,0a1.9,1.9 0 1,0 -3.8,0M860.8,218.1a1.9,1.9 0 1,0 3.8,0a1.9,1.9 0 1,0 -3.8,0M863.7,220.0a1.9,1.9 0 1,0 3.8,0a1.9,1.9 0 1,0 -3.8,0M866.0,225.0a1.9,1.9 0 1,0 3.8,0a1.9,1.9 0 1,0 -3.8,0M868.5,216.1a1.9,1.9 0 1,0 3.8,0a1.9,1.9 0 1,0 -3.8,0M871.4,221.9a1.9,1.9 0 1,0 3.8,0a1.9,1.9 0 1,0 -3.8,0M873.5,219.7a1.9,1.9 0 1,0 3.8,0a1.9,1.9 0 1,0 -3.8,0M876.3,218.9a1.9,1.9 0 1,0 3.8,0a1.9,1.9 0 1,0 -3.8,0M878.8,224.0a1.9,1.9 0 1,0 3.8,0a1.9,1.9 0 1,0 -3.8,0M881.0,218.2a1.9,1.9 0 1,0 3.8,0a1.9,1.9 0 1,0 -3.8,0M883.7,217.4a1.9,1.9 0 1,0 3.8,0a1.9,1.9 0 1,0 -3.8,0M886.3,216.2a1.9,1.9 0 1,0 3.8,0a1.9,1.9 0 1,0 -3.8,0M888.6,216.4a1.9,1.9 0 1,0 3.8,0a1.9,1.9 0 1,0 -3.8,0M891.7,215.3a1.9,1.9 0 1,0 3.8,0a1.9,1.9 0 1,0 -3.8,0M893.6,213.7a1.9,1.9 0 1,0 3.8,0a1.9,1.9 0 1,0 -3.8,0M896.9,215.2a1.9,1.9 0 1,0 3.8,0a1.9,1.9 0 1,0 -3.8,0M898.7,208.5a1.9,1.9 0 1,0 3.8,0a1.9,1.9 0 1,0 -3.8,0M902.1,211.8a1.9,1.9 0 1,0 3.8,0a1.9,1.9 0 1,0 -3.8,0M904.6,211.3a1.9,1.9 0 1,0 3.8,0a1.9,1.9 0 1,0 -3.8,0M906.7,207.6a1.9,1.9 0 1,0 3.8,0a1.9,1.9 0 1,0 -3.8,0M909.2,213.4a1.9,1.9 0 1,0 3.8,0a1.9,1.9 0 1,0 -3.8,0M911.6,203.6a1.9,1.9 0 1,0 3.8,0a1.9,1.9 0 1,0 -3.8,0M914.2,207.5a1.9,1.9 0 1,0 3.8,0a1.9,1.9 0 1,0 -3.8,0M917.0,208.6a1.9,1.9 0 1,0 3.8,0a1.9,1.9 0 1,0 -3.8,0M919.7,206.2a1.9,1.9 0 1,0 3.8,0a1.9,1.9 0 1,0 -3.8,0M922.1,205.8a1.9,1.9 0 1,0 3.8,0a1.9,1.9 0 1,0 -3.8,0M924.6,199.1a1.9,1.9 0 1,0 3.8,0a1.9,1.9 0 1,0 -3.8,0M927.5,201.7a1.9,1.9 0 1,0 3.8,0a1.9,1.9 0 1,0 -3.8,0M929.8,200.7a1.9,1.9 0 1,0 3.8,0a1.9,1.9 0 1,0 -3.8,0M931.9,200.2a1.9,1.9 0 1,0 3.8,0a1.9,1.9 0 1,0 -3.8,0M935.3,203.0a1.9,1.9 0 1,0 3.8,0a1.9,1.9 0 1,0 -3.8,0M937.8,196.0a1.9,1.9 0 1,0 3.8,0a1.9,1.9 0 1,0 -3.8,0M939.9,199.2a1.9,1.9 0 1,0 3.8,0a1.9,1.9 0 1,0 -3.8,0M942.7,199.8a1.9,1.9 0 1,0 3.8,0a1.9,1.9 0 1,0 -3.8,0M944.7,199.5a1.9,1.9 0 1,0 3.8,0a1.9,1.9 0 1,0 -3.8,0M947.4,197.0a1.9,1.9 0 1,0 3.8,0a1.9,1.9 0 1,0 -3.8,0M950.1,194.4a1.9,1.9 0 1,0 3.8,0a1.9,1.9 0 1,0 -3.8,0M952.5,192.0a1.9,1.9 0 1,0 3.8,0a1.9,1.9 0 1,0 -3.8,0M955.0,189.1a1.9,1.9 0 1,0 3.8,0a1.9,1.9 0 1,0 -3.8,0M958.3,187.2a1.9,1.9 0 1,0 3.8,0a1.9,1.9 0 1,0 -3.8,0M960.6,186.7a1.9,1.9 0 1,0 3.8,0a1.9,1.9 0 1,0 -3.8,0M962.9,184.3a1.9,1.9 0 1,0 3.8,0a1.9,1.9 0 1,0 -3.8,0M965.5,182.0a1.9,1.9 0 1,0 3.8,0a1.9,1.9 0 1,0 -3.8,0M968.7,176.5a1.9,1.9 0 1,0 3.8,0a1.9,1.9 0 1,0 -3.8,0M970.7,166.5a1.9,1.9 0 1,0 3.8,0a1.9,1.9 0 1,0 -3.8,0M972.9,161.3a1.9,1.9 0 1,0 3.8,0a1.9,1.9 0 1,0 -3.8,0M975.7,155.4a1.9,1.9 0 1,0 3.8,0a1.9,1.9 0 1,0 -3.8,0M978.1,154.2a1.9,1.9 0 1,0 3.8,0a1.9,1.9 0 1,0 -3.8,0M980.5,146.8a1.9,1.9 0 1,0 3.8,0a1.9,1.9 0 1,0 -3.8,0M983.2,136.1a1.9,1.9 0 1,0 3.8,0a1.9,1.9 0 1,0 -3.8,0M986.1,130.1a1.9,1.9 0 1,0 3.8,0a1.9,1.9 0 1,0 -3.8,0M989.1,118.5a1.9,1.9 0 1,0 3.8,0a1.9,1.9 0 1,0 -3.8,0M991.6,108.7a1.9,1.9 0 1,0 3.8,0a1.9,1.9 0 1,0 -3.8,0M993.6,99.4a1.9,1.9 0 1,0 3.8,0a1.9,1.9 0 1,0 -3.8,0M996.0,92.6a1.9,1.9 0 1,0 3.8,0a1.9,1.9 0 1,0 -3.8,0M999.2,80.6a1.9,1.9 0 1,0 3.8,0a1.9,1.9 0 1,0 -3.8,0M1001.3,74.8a1.9,1.9 0 1,0 3.8,0a1.9,1.9 0 1,0 -3.8,0M1004.5,70.8a1.9,1.9 0 1,0 3.8,0a1.9,1.9 0 1,0 -3.8,0M1006.9,63.2a1.9,1.9 0 1,0 3.8,0a1.9,1.9 0 1,0 -3.8,0M1009.3,54.3a1.9,1.9 0 1,0 3.8,0a1.9,1.9 0 1,0 -3.8,0M1011.4,52.3a1.9,1.9 0 1,0 3.8,0a1.9,1.9 0 1,0 -3.8,0M1013.7,50.8a1.9,1.9 0 1,0 3.8,0a1.9,1.9 0 1,0 -3.8,0M1016.3,48.1a1.9,1.9 0 1,0 3.8,0a1.9,1.9 0 1,0 -3.8,0M1019.5,47.7a1.9,1.9 0 1,0 3.8,0a1.9,1.9 0 1,0 -3.8,0M1022.3,40.1a1.9,1.9 0 1,0 3.8,0a1.9,1.9 0 1,0 -3.8,0M1024.9,45.2a1.9,1.9 0 1,0 3.8,0a1.9,1.9 0 1,0 -3.8,0M1027.5,42.4a1.9,1.9 0 1,0 3.8,0a1.9,1.9 0 1,0 -3.8,0M1029.3,45.0a1.9,1.9 0 1,0 3.8,0a1.9,1.9 0 1,0 -3.8,0M1031.8,46.1a1.9,1.9 0 1,0 3.8,0a1.9,1.9 0 1,0 -3.8,0M1035.1,50.2a1.9,1.9 0 1,0 3.8,0a1.9,1.9 0 1,0 -3.8,0M1037.6,48.3a1.9,1.9 0 1,0 3.8,0a1.9,1.9 0 1,0 -3.8,0M1040.1,56.6a1.9,1.9 0 1,0 3.8,0a1.9,1.9 0 1,0 -3.8,0M1041.9,59.5a1.9,1.9 0 1,0 3.8,0a1.9,1.9 0 1,0 -3.8,0M1045.2,63.9a1.9,1.9 0 1,0 3.8,0a1.9,1.9 0 1,0 -3.8,0M1047.7,71.8a1.9,1.9 0 1,0 3.8,0a1.9,1.9 0 1,0 -3.8,0M1050.3,78.1a1.9,1.9 0 1,0 3.8,0a1.9,1.9 0 1,0 -3.8,0M1052.4,83.8a1.9,1.9 0 1,0 3.8,0a1.9,1.9 0 1,0 -3.8,0M1055.0,80.4a1.9,1.9 0 1,0 3.8,0a1.9,1.9 0 1,0 -3.8,0M1057.6,90.9a1.9,1.9 0 1,0 3.8,0a1.9,1.9 0 1,0 -3.8,0M1059.9,88.6a1.9,1.9 0 1,0 3.8,0a1.9,1.9 0 1,0 -3.8,0M1062.4,93.7a1.9,1.9 0 1,0 3.8,0a1.9,1.9 0 1,0 -3.8,0M1065.7,96.0a1.9,1.9 0 1,0 3.8,0a1.9,1.9 0 1,0 -3.8,0M1067.6,96.2a1.9,1.9 0 1,0 3.8,0a1.9,1.9 0 1,0 -3.8,0M1070.6,89.6a1.9,1.9 0 1,0 3.8,0a1.9,1.9 0 1,0 -3.8,0M1072.9,94.4a1.9,1.9 0 1,0 3.8,0a1.9,1.9 0 1,0 -3.8,0M1075.1,95.9a1.9,1.9 0 1,0 3.8,0a1.9,1.9 0 1,0 -3.8,0M1078.6,95.7a1.9,1.9 0 1,0 3.8,0a1.9,1.9 0 1,0 -3.8,0M1081.1,96.0a1.9,1.9 0 1,0 3.8,0a1.9,1.9 0 1,0 -3.8,0M1083.2,101.4a1.9,1.9 0 1,0 3.8,0a1.9,1.9 0 1,0 -3.8,0M1085.5,96.7a1.9,1.9 0 1,0 3.8,0a1.9,1.9 0 1,0 -3.8,0M1088.1,99.3a1.9,1.9 0 1,0 3.8,0a1.9,1.9 0 1,0 -3.8,0M1091.0,101.2a1.9,1.9 0 1,0 3.8,0a1.9,1.9 0 1,0 -3.8,0M1093.3,98.5a1.9,1.9 0 1,0 3.8,0a1.9,1.9 0 1,0 -3.8,0M1096.5,99.3a1.9,1.9 0 1,0 3.8,0a1.9,1.9 0 1,0 -3.8,0M1098.5,95.6a1.9,1.9 0 1,0 3.8,0a1.9,1.9 0 1,0 -3.8,0M1101.6,98.1a1.9,1.9 0 1,0 3.8,0a1.9,1.9 0 1,0 -3.8,0M1103.7,99.1a1.9,1.9 0 1,0 3.8,0a1.9,1.9 0 1,0 -3.8,0M1106.3,96.3a1.9,1.9 0 1,0 3.8,0a1.9,1.9 0 1,0 -3.8,0M1108.9,101.0a1.9,1.9 0 1,0 3.8,0a1.9,1.9 0 1,0 -3.8,0M1111.1,101.7a1.9,1.9 0 1,0 3.8,0a1.9,1.9 0 1,0 -3.8,0M1113.5,105.6a1.9,1.9 0 1,0 3.8,0a1.9,1.9 0 1,0 -3.8,0M1116.5,108.3a1.9,1.9 0 1,0 3.8,0a1.9,1.9 0 1,0 -3.8,0M1119.3,112.2a1.9,1.9 0 1,0 3.8,0a1.9,1.9 0 1,0 -3.8,0M1121.7,117.8a1.9,1.9 0 1,0 3.8,0a1.9,1.9 0 1,0 -3.8,0M1124.2,123.2a1.9,1.9 0 1,0 3.8,0a1.9,1.9 0 1,0 -3.8,0M1126.8,126.6a1.9,1.9 0 1,0 3.8,0a1.9,1.9 0 1,0 -3.8,0M1129.1,131.1a1.9,1.9 0 1,0 3.8,0a1.9,1.9 0 1,0 -3.8,0M1131.9,138.8a1.9,1.9 0 1,0 3.8,0a1.9,1.9 0 1,0 -3.8,0M1134.5,138.6a1.9,1.9 0 1,0 3.8,0a1.9,1.9 0 1,0 -3.8,0M1136.9,136.0a1.9,1.9 0 1,0 3.8,0a1.9,1.9 0 1,0 -3.8,0M1139.6,139.4a1.9,1.9 0 1,0 3.8,0a1.9,1.9 0 1,0 -3.8,0M1142.3,142.8a1.9,1.9 0 1,0 3.8,0a1.9,1.9 0 1,0 -3.8,0M1144.6,141.4a1.9,1.9 0 1,0 3.8,0a1.9,1.9 0 1,0 -3.8,0M1147.6,143.6a1.9,1.9 0 1,0 3.8,0a1.9,1.9 0 1,0 -3.8,0M1145.1,154.4a1.9,1.9 0 1,0 3.8,0a1.9,1.9 0 1,0 -3.8,0M1147.7,151.9a1.9,1.9 0 1,0 3.8,0a1.9,1.9 0 1,0 -3.8,0M1150.2,157.8a1.9,1.9 0 1,0 3.8,0a1.9,1.9 0 1,0 -3.8,0M1152.8,156.0a1.9,1.9 0 1,0 3.8,0a1.9,1.9 0 1,0 -3.8,0M1155.3,152.2a1.9,1.9 0 1,0 3.8,0a1.9,1.9 0 1,0 -3.8,0M1157.9,155.2a1.9,1.9 0 1,0 3.8,0a1.9,1.9 0 1,0 -3.8,0M1160.5,157.6a1.9,1.9 0 1,0 3.8,0a1.9,1.9 0 1,0 -3.8,0M1163.0,155.9a1.9,1.9 0 1,0 3.8,0a1.9,1.9 0 1,0 -3.8,0M1165.6,158.3a1.9,1.9 0 1,0 3.8,0a1.9,1.9 0 1,0 -3.8,0M1168.1,158.0a1.9,1.9 0 1,0 3.8,0a1.9,1.9 0 1,0 -3.8,0M1170.7,157.6a1.9,1.9 0 1,0 3.8,0a1.9,1.9 0 1,0 -3.8,0M1173.3,156.7a1.9,1.9 0 1,0 3.8,0a1.9,1.9 0 1,0 -3.8,0M1175.8,158.4a1.9,1.9 0 1,0 3.8,0a1.9,1.9 0 1,0 -3.8,0M1178.4,156.5a1.9,1.9 0 1,0 3.8,0a1.9,1.9 0 1,0 -3.8,0M1180.9,155.5a1.9,1.9 0 1,0 3.8,0a1.9,1.9 0 1,0 -3.8,0M1183.5,149.6a1.9,1.9 0 1,0 3.8,0a1.9,1.9 0 1,0 -3.8,0M1186.1,155.3a1.9,1.9 0 1,0 3.8,0a1.9,1.9 0 1,0 -3.8,0M1188.6,155.7a1.9,1.9 0 1,0 3.8,0a1.9,1.9 0 1,0 -3.8,0M1191.2,151.8a1.9,1.9 0 1,0 3.8,0a1.9,1.9 0 1,0 -3.8,0M1193.7,151.1a1.9,1.9 0 1,0 3.8,0a1.9,1.9 0 1,0 -3.8,0M1196.3,156.2a1.9,1.9 0 1,0 3.8,0a1.9,1.9 0 1,0 -3.8,0M1198.9,149.4a1.9,1.9 0 1,0 3.8,0a1.9,1.9 0 1,0 -3.8,0M1201.4,155.6a1.9,1.9 0 1,0 3.8,0a1.9,1.9 0 1,0 -3.8,0M1204.0,161.8a1.9,1.9 0 1,0 3.8,0a1.9,1.9 0 1,0 -3.8,0M1206.5,157.4a1.9,1.9 0 1,0 3.8,0a1.9,1.9 0 1,0 -3.8,0M1209.1,161.4a1.9,1.9 0 1,0 3.8,0a1.9,1.9 0 1,0 -3.8,0M1211.7,163.1a1.9,1.9 0 1,0 3.8,0a1.9,1.9 0 1,0 -3.8,0M1214.2,157.8a1.9,1.9 0 1,0 3.8,0a1.9,1.9 0 1,0 -3.8,0M1216.8,158.3a1.9,1.9 0 1,0 3.8,0a1.9,1.9 0 1,0 -3.8,0M1219.3,159.1a1.9,1.9 0 1,0 3.8,0a1.9,1.9 0 1,0 -3.8,0M1221.9,156.8a1.9,1.9 0 1,0 3.8,0a1.9,1.9 0 1,0 -3.8,0M1224.5,159.7a1.9,1.9 0 1,0 3.8,0a1.9,1.9 0 1,0 -3.8,0M1227.0,159.2a1.9,1.9 0 1,0 3.8,0a1.9,1.9 0 1,0 -3.8,0M1229.6,155.4a1.9,1.9 0 1,0 3.8,0a1.9,1.9 0 1,0 -3.8,0M1232.1,148.4a1.9,1.9 0 1,0 3.8,0a1.9,1.9 0 1,0 -3.8,0M1234.7,144.7a1.9,1.9 0 1,0 3.8,0a1.9,1.9 0 1,0 -3.8,0M1237.3,140.3a1.9,1.9 0 1,0 3.8,0a1.9,1.9 0 1,0 -3.8,0M1239.8,139.8a1.9,1.9 0 1,0 3.8,0a1.9,1.9 0 1,0 -3.8,0M1242.4,141.1a1.9,1.9 0 1,0 3.8,0a1.9,1.9 0 1,0 -3.8,0M1244.9,138.3a1.9,1.9 0 1,0 3.8,0a1.9,1.9 0 1,0 -3.8,0M1247.5,135.1a1.9,1.9 0 1,0 3.8,0a1.9,1.9 0 1,0 -3.8,0M1250.1,134.0a1.9,1.9 0 1,0 3.8,0a1.9,1.9 0 1,0 -3.8,0M1252.6,140.4a1.9,1.9 0 1,0 3.8,0a1.9,1.9 0 1,0 -3.8,0M1255.2,136.5a1.9,1.9 0 1,0 3.8,0a1.9,1.9 0 1,0 -3.8,0M1257.7,134.7a1.9,1.9 0 1,0 3.8,0a1.9,1.9 0 1,0 -3.8,0M1260.3,127.6a1.9,1.9 0 1,0 3.8,0a1.9,1.9 0 1,0 -3.8,0M1262.9,134.4a1.9,1.9 0 1,0 3.8,0a1.9,1.9 0 1,0 -3.8,0M1265.4,134.5a1.9,1.9 0 1,0 3.8,0a1.9,1.9 0 1,0 -3.8,0M1268.0,137.5a1.9,1.9 0 1,0 3.8,0a1.9,1.9 0 1,0 -3.8,0M1270.5,135.3a1.9,1.9 0 1,0 3.8,0a1.9,1.9 0 1,0 -3.8,0M1273.1,134.7a1.9,1.9 0 1,0 3.8,0a1.9,1.9 0 1,0 -3.8,0M1275.7,136.5a1.9,1.9 0 1,0 3.8,0a1.9,1.9 0 1,0 -3.8,0M1278.2,132.2a1.9,1.9 0 1,0 3.8,0a1.9,1.9 0 1,0 -3.8,0M1280.8,139.9a1.9,1.9 0 1,0 3.8,0a1.9,1.9 0 1,0 -3.8,0M1283.3,140.1a1.9,1.9 0 1,0 3.8,0a1.9,1.9 0 1,0 -3.8,0M1285.9,140.5a1.9,1.9 0 1,0 3.8,0a1.9,1.9 0 1,0 -3.8,0M1288.5,147.9a1.9,1.9 0 1,0 3.8,0a1.9,1.9 0 1,0 -3.8,0M1291.0,149.7a1.9,1.9 0 1,0 3.8,0a1.9,1.9 0 1,0 -3.8,0M1293.6,141.9a1.9,1.9 0 1,0 3.8,0a1.9,1.9 0 1,0 -3.8,0" fill="#000"/>
<path d="M787.3,230.5h0.9M789.6,231.3h0.9M792.7,227.5h0.9M795.2,228.6h0.9M797.3,226.9h0.9M799.9,228.0h0.9M802.8,228.1h0.9M805.1,226.2h0.9M808.1,230.4h0.9M810.4,225.9h0.9M813.6,231.8h0.9M815.4,228.2h0.9M817.8,228.2h0.9M821.1,227.9h0.9M823.0,223.0h0.9M825.7,224.3h0.9M828.5,226.7h0.9M830.7,226.1h0.9M833.7,223.5h0.9M836.2,226.3h0.9M838.6,223.7h0.9M841.4,229.3h0.9M843.5,221.8h0.9M846.7,223.0h0.9M849.1,222.5h0.9M851.1,231.1h0.9M853.9,222.2h0.9M856.5,220.4h0.9M858.6,219.4h0.9M861.7,217.5h0.9M864.6,219.4h0.9M866.9,224.4h0.9M869.4,215.5h0.9M872.3,221.3h0.9M874.4,219.1h0.9M877.2,218.3h0.9M879.7,223.4h0.9M881.9,217.6h0.9M884.6,216.8h0.9M887.2,215.6h0.9M889.5,215.8h0.9M892.6,214.7h0.9M894.5,213.1h0.9M897.8,214.6h0.9M899.6,207.9h0.9M903.0,211.2h0.9M905.5,210.7h0.9M907.6,207.0h0.9M910.1,212.8h0.9M912.5,203.0h0.9M915.1,206.9h0.9M917.9,208.0h0.9M920.6,205.6h0.9M923.0,205.2h0.9M925.5,198.5h0.9M928.4,201.1h0.9M930.7,200.1h0.9M932.8,199.6h0.9M936.2,202.4h0.9M938.7,195.4h0.9M940.8,198.6h0.9M943.6,199.2h0.9M945.6,198.9h0.9M948.3,196.4h0.9M951.0,193.8h0.9M953.4,191.4h0.9M955.9,188.5h0.9M959.2,186.6h0.9M961.5,186.1h0.9M963.8,183.7h0.9M966.4,181.4h0.9M969.6,175.9h0.9M971.6,165.9h0.9M973.8,160.7h0.9M976.6,154.8h0.9M979.0,153.6h0.9M981.4,146.2h0.9M984.1,135.5h0.9M987.0,129.5h0.9M990.0,117.9h0.9M992.5,108.1h0.9M994.5,98.8h0.9M996.9,92.0h0.9M1000.1,80.0h0.9M1002.2,74.2h0.9M1005.4,70.2h0.9M1007.8,62.6h0.9M1010.2,53.7h0.9M1012.3,51.7h0.9M1014.6,50.2h0.9M1017.2,47.5h0.9M1020.4,47.1h0.9M1023.2,39.5h0.9M1025.8,44.6h0.9M1028.4,41.8h0.9M1030.2,44.4h0.9M1032.7,45.5h0.9M1036.0,49.6h0.9M1038.5,47.7h0.9M1041.0,56.0h0.9M1042.8,58.9h0.9M1046.1,63.3h0.9M1048.6,71.2h0.9M1051.2,77.5h0.9M1053.3,83.2h0.9M1055.9,79.8h0.9M1058.5,90.3h0.9M1060.8,88.0h0.9M1063.3,93.1h0.9M1066.6,95.4h0.9M1068.5,95.6h0.9M1071.5,89.0h0.9M1073.8,93.8h0.9M1076.0,95.3h0.9M1079.5,95.1h0.9M1082.0,95.4h0.9M1084.1,100.8h0.9M1086.4,96.1h0.9M1089.0,98.7h0.9M1091.9,100.6h0.9M1094.2,97.9h0.9M1097.4,98.7h0.9M1099.4,95.0h0.9M1102.5,97.5h0.9M1104.6,98.5h0.9M1107.2,95.7h0.9M1109.8,100.4h0.9M1112.0,101.1h0.9M1114.4,105.0h0.9M1117.4,107.7h0.9M1120.2,111.6h0.9M1122.6,117.2h0.9M1125.1,122.6h0.9M1127.7,126.0h0.9M1130.0,130.5h0.9M1132.8,138.2h0.9M1135.4,138.0h0.9M1137.8,135.4h0.9M1140.5,138.8h0.9M1143.2,142.2h0.9M1145.5,140.8h0.9M1148.5,143.0h0.9M1146.0,153.8h0.9M1148.6,151.3h0.9M1151.1,157.2h0.9M1153.7,155.4h0.9M1156.2,151.6h0.9M1158.8,154.6h0.9M1161.4,157.0h0.9M1163.9,155.3h0.9M1166.5,157.7h0.9M1169.0,157.4h0.9M1171.6,157.0h0.9M1174.2,156.1h0.9M1176.7,157.8h0.9M1179.3,155.9h0.9M1181.8,154.9h0.9M1184.4,149.0h0.9M1187.0,154.7h0.9M1189.5,155.1h0.9M1192.1,151.2h0.9M1194.6,150.5h0.9M1197.2,155.6h0.9M1199.8,148.8h0.9M1202.3,155.0h0.9M1204.9,161.2h0.9M1207.4,156.8h0.9M1210.0,160.8h0.9M1212.6,162.5h0.9M1215.1,157.2h0.9M1217.7,157.7h0.9M1220.2,158.5h0.9M1222.8,156.2h0.9M1225.4,159.1h0.9M1227.9,158.6h0.9M1230.5,154.8h0.9M1233.0,147.8h0.9M1235.6,144.1h0.9M1238.2,139.7h0.9M1240.7,139.2h0.9M1243.3,140.5h0.9M1245.8,137.7h0.9M1248.4,134.5h0.9M1251.0,133.4h0.9M1253.5,139.8h0.9M1256.1,135.9h0.9M1258.6,134.1h0.9M1261.2,127.0h0.9M1263.8,133.8h0.9M1266.3,133.9h0.9M1268.9,136.9h0.9M1271.4,134.7h0.9M1274.0,134.1h0.9M1276.6,135.9h0.9M1279.1,131.6h0.9M1281.7,139.3h0.9M1284.2,139.5h0.9M1286.8,139.9h0.9M1289.4,147.3h0.9M1291.9,149.1h0.9M1294.5,141.3h0.9" stroke="#fff" stroke-width="0.9" stroke-linecap="round" fill="none"/>
<path d="M786.4,498.7a1.7,1.7 0 1,0 3.4,0a1.7,1.7 0 1,0 -3.4,0M788.9,499.1a1.7,1.7 0 1,0 3.4,0a1.7,1.7 0 1,0 -3.4,0M791.5,497.9a1.7,1.7 0 1,0 3.4,0a1.7,1.7 0 1,0 -3.4,0M794.9,497.3a1.7,1.7 0 1,0 3.4,0a1.7,1.7 0 1,0 -3.4,0M796.6,496.9a1.7,1.7 0 1,0 3.4,0a1.7,1.7 0 1,0 -3.4,0M799.9,502.8a1.7,1.7 0 1,0 3.4,0a1.7,1.7 0 1,0 -3.4,0M802.1,500.7a1.7,1.7 0 1,0 3.4,0a1.7,1.7 0 1,0 -3.4,0M804.5,494.9a1.7,1.7 0 1,0 3.4,0a1.7,1.7 0 1,0 -3.4,0M807.0,497.5a1.7,1.7 0 1,0 3.4,0a1.7,1.7 0 1,0 -3.4,0M809.4,497.4a1.7,1.7 0 1,0 3.4,0a1.7,1.7 0 1,0 -3.4,0M812.0,498.4a1.7,1.7 0 1,0 3.4,0a1.7,1.7 0 1,0 -3.4,0M814.6,499.7a1.7,1.7 0 1,0 3.4,0a1.7,1.7 0 1,0 -3.4,0M817.3,498.8a1.7,1.7 0 1,0 3.4,0a1.7,1.7 0 1,0 -3.4,0M819.9,498.3a1.7,1.7 0 1,0 3.4,0a1.7,1.7 0 1,0 -3.4,0M822.6,496.5a1.7,1.7 0 1,0 3.4,0a1.7,1.7 0 1,0 -3.4,0M824.8,497.7a1.7,1.7 0 1,0 3.4,0a1.7,1.7 0 1,0 -3.4,0M827.5,498.0a1.7,1.7 0 1,0 3.4,0a1.7,1.7 0 1,0 -3.4,0M829.8,497.3a1.7,1.7 0 1,0 3.4,0a1.7,1.7 0 1,0 -3.4,0M832.5,494.9a1.7,1.7 0 1,0 3.4,0a1.7,1.7 0 1,0 -3.4,0M835.4,497.9a1.7,1.7 0 1,0 3.4,0a1.7,1.7 0 1,0 -3.4,0M838.3,496.5a1.7,1.7 0 1,0 3.4,0a1.7,1.7 0 1,0 -3.4,0M840.4,493.0a1.7,1.7 0 1,0 3.4,0a1.7,1.7 0 1,0 -3.4,0M843.0,496.4a1.7,1.7 0 1,0 3.4,0a1.7,1.7 0 1,0 -3.4,0M845.6,493.9a1.7,1.7 0 1,0 3.4,0a1.7,1.7 0 1,0 -3.4,0M848.0,490.6a1.7,1.7 0 1,0 3.4,0a1.7,1.7 0 1,0 -3.4,0M851.1,494.5a1.7,1.7 0 1,0 3.4,0a1.7,1.7 0 1,0 -3.4,0M853.2,492.2a1.7,1.7 0 1,0 3.4,0a1.7,1.7 0 1,0 -3.4,0M855.7,495.3a1.7,1.7 0 1,0 3.4,0a1.7,1.7 0 1,0 -3.4,0M858.0,494.3a1.7,1.7 0 1,0 3.4,0a1.7,1.7 0 1,0 -3.4,0M861.2,493.5a1.7,1.7 0 1,0 3.4,0a1.7,1.7 0 1,0 -3.4,0M863.1,494.2a1.7,1.7 0 1,0 3.4,0a1.7,1.7 0 1,0 -3.4,0M866.4,494.6a1.7,1.7 0 1,0 3.4,0a1.7,1.7 0 1,0 -3.4,0M868.4,490.1a1.7,1.7 0 1,0 3.4,0a1.7,1.7 0 1,0 -3.4,0M870.9,491.2a1.7,1.7 0 1,0 3.4,0a1.7,1.7 0 1,0 -3.4,0M873.4,493.4a1.7,1.7 0 1,0 3.4,0a1.7,1.7 0 1,0 -3.4,0M876.3,490.5a1.7,1.7 0 1,0 3.4,0a1.7,1.7 0 1,0 -3.4,0M879.3,495.3a1.7,1.7 0 1,0 3.4,0a1.7,1.7 0 1,0 -3.4,0M881.5,490.3a1.7,1.7 0 1,0 3.4,0a1.7,1.7 0 1,0 -3.4,0M883.8,494.6a1.7,1.7 0 1,0 3.4,0a1.7,1.7 0 1,0 -3.4,0M886.4,491.1a1.7,1.7 0 1,0 3.4,0a1.7,1.7 0 1,0 -3.4,0M889.1,488.8a1.7,1.7 0 1,0 3.4,0a1.7,1.7 0 1,0 -3.4,0M891.7,489.0a1.7,1.7 0 1,0 3.4,0a1.7,1.7 0 1,0 -3.4,0M893.7,490.0a1.7,1.7 0 1,0 3.4,0a1.7,1.7 0 1,0 -3.4,0M896.5,489.1a1.7,1.7 0 1,0 3.4,0a1.7,1.7 0 1,0 -3.4,0M898.9,488.0a1.7,1.7 0 1,0 3.4,0a1.7,1.7 0 1,0 -3.4,0M901.4,486.0a1.7,1.7 0 1,0 3.4,0a1.7,1.7 0 1,0 -3.4,0M904.5,487.3a1.7,1.7 0 1,0 3.4,0a1.7,1.7 0 1,0 -3.4,0M907.0,485.5a1.7,1.7 0 1,0 3.4,0a1.7,1.7 0 1,0 -3.4,0M909.8,482.2a1.7,1.7 0 1,0 3.4,0a1.7,1.7 0 1,0 -3.4,0M912.5,483.2a1.7,1.7 0 1,0 3.4,0a1.7,1.7 0 1,0 -3.4,0M915.2,485.1a1.7,1.7 0 1,0 3.4,0a1.7,1.7 0 1,0 -3.4,0M916.9,483.0a1.7,1.7 0 1,0 3.4,0a1.7,1.7 0 1,0 -3.4,0M919.3,480.2a1.7,1.7 0 1,0 3.4,0a1.7,1.7 0 1,0 -3.4,0M922.7,484.4a1.7,1.7 0 1,0 3.4,0a1.7,1.7 0 1,0 -3.4,0M925.1,480.1a1.7,1.7 0 1,0 3.4,0a1.7,1.7 0 1,0 -3.4,0M927.8,482.6a1.7,1.7 0 1,0 3.4,0a1.7,1.7 0 1,0 -3.4,0M930.0,482.2a1.7,1.7 0 1,0 3.4,0a1.7,1.7 0 1,0 -3.4,0M932.9,480.8a1.7,1.7 0 1,0 3.4,0a1.7,1.7 0 1,0 -3.4,0M935.2,475.4a1.7,1.7 0 1,0 3.4,0a1.7,1.7 0 1,0 -3.4,0M938.1,476.7a1.7,1.7 0 1,0 3.4,0a1.7,1.7 0 1,0 -3.4,0M940.0,475.7a1.7,1.7 0 1,0 3.4,0a1.7,1.7 0 1,0 -3.4,0M942.3,478.4a1.7,1.7 0 1,0 3.4,0a1.7,1.7 0 1,0 -3.4,0M945.0,476.9a1.7,1.7 0 1,0 3.4,0a1.7,1.7 0 1,0 -3.4,0M948.3,470.9a1.7,1.7 0 1,0 3.4,0a1.7,1.7 0 1,0 -3.4,0M950.6,469.7a1.7,1.7 0 1,0 3.4,0a1.7,1.7 0 1,0 -3.4,0M953.2,467.0a1.7,1.7 0 1,0 3.4,0a1.7,1.7 0 1,0 -3.4,0M955.9,464.0a1.7,1.7 0 1,0 3.4,0a1.7,1.7 0 1,0 -3.4,0M958.4,459.5a1.7,1.7 0 1,0 3.4,0a1.7,1.7 0 1,0 -3.4,0M960.9,457.6a1.7,1.7 0 1,0 3.4,0a1.7,1.7 0 1,0 -3.4,0M962.8,452.8a1.7,1.7 0 1,0 3.4,0a1.7,1.7 0 1,0 -3.4,0M965.4,446.6a1.7,1.7 0 1,0 3.4,0a1.7,1.7 0 1,0 -3.4,0M968.1,442.5a1.7,1.7 0 1,0 3.4,0a1.7,1.7 0 1,0 -3.4,0M971.2,436.7a1.7,1.7 0 1,0 3.4,0a1.7,1.7 0 1,0 -3.4,0M974.0,430.2a1.7,1.7 0 1,0 3.4,0a1.7,1.7 0 1,0 -3.4,0M976.0,424.4a1.7,1.7 0 1,0 3.4,0a1.7,1.7 0 1,0 -3.4,0M978.8,417.0a1.7,1.7 0 1,0 3.4,0a1.7,1.7 0 1,0 -3.4,0M981.3,407.0a1.7,1.7 0 1,0 3.4,0a1.7,1.7 0 1,0 -3.4,0M983.3,400.1a1.7,1.7 0 1,0 3.4,0a1.7,1.7 0 1,0 -3.4,0M986.5,390.0a1.7,1.7 0 1,0 3.4,0a1.7,1.7 0 1,0 -3.4,0M988.6,379.0a1.7,1.7 0 1,0 3.4,0a1.7,1.7 0 1,0 -3.4,0M991.0,370.2a1.7,1.7 0 1,0 3.4,0a1.7,1.7 0 1,0 -3.4,0M993.7,361.2a1.7,1.7 0 1,0 3.4,0a1.7,1.7 0 1,0 -3.4,0M996.7,352.8a1.7,1.7 0 1,0 3.4,0a1.7,1.7 0 1,0 -3.4,0M998.9,346.0a1.7,1.7 0 1,0 3.4,0a1.7,1.7 0 1,0 -3.4,0M1001.6,340.6a1.7,1.7 0 1,0 3.4,0a1.7,1.7 0 1,0 -3.4,0M1003.8,335.5a1.7,1.7 0 1,0 3.4,0a1.7,1.7 0 1,0 -3.4,0M1007.2,329.2a1.7,1.7 0 1,0 3.4,0a1.7,1.7 0 1,0 -3.4,0M1009.7,326.8a1.7,1.7 0 1,0 3.4,0a1.7,1.7 0 1,0 -3.4,0M1012.2,321.9a1.7,1.7 0 1,0 3.4,0a1.7,1.7 0 1,0 -3.4,0M1014.9,318.3a1.7,1.7 0 1,0 3.4,0a1.7,1.7 0 1,0 -3.4,0M1016.7,318.0a1.7,1.7 0 1,0 3.4,0a1.7,1.7 0 1,0 -3.4,0M1020.0,317.4a1.7,1.7 0 1,0 3.4,0a1.7,1.7 0 1,0 -3.4,0M1021.7,319.0a1.7,1.7 0 1,0 3.4,0a1.7,1.7 0 1,0 -3.4,0M1024.7,319.2a1.7,1.7 0 1,0 3.4,0a1.7,1.7 0 1,0 -3.4,0M1027.5,320.3a1.7,1.7 0 1,0 3.4,0a1.7,1.7 0 1,0 -3.4,0M1029.8,324.8a1.7,1.7 0 1,0 3.4,0a1.7,1.7 0 1,0 -3.4,0M1032.1,325.8a1.7,1.7 0 1,0 3.4,0a1.7,1.7 0 1,0 -3.4,0M1035.3,331.6a1.7,1.7 0 1,0 3.4,0a1.7,1.7 0 1,0 -3.4,0M1036.9,337.0a1.7,1.7 0 1,0 3.4,0a1.7,1.7 0 1,0 -3.4,0M1040.0,340.9a1.7,1.7 0 1,0 3.4,0a1.7,1.7 0 1,0 -3.4,0M1042.2,347.4a1.7,1.7 0 1,0 3.4,0a1.7,1.7 0 1,0 -3.4,0M1045.0,352.2a1.7,1.7 0 1,0 3.4,0a1.7,1.7 0 1,0 -3.4,0M1047.2,362.3a1.7,1.7 0 1,0 3.4,0a1.7,1.7 0 1,0 -3.4,0M1050.5,366.5a1.7,1.7 0 1,0 3.4,0a1.7,1.7 0 1,0 -3.4,0M1053.2,371.1a1.7,1.7 0 1,0 3.4,0a1.7,1.7 0 1,0 -3.4,0M1055.6,377.6a1.7,1.7 0 1,0 3.4,0a1.7,1.7 0 1,0 -3.4,0M1057.8,380.8a1.7,1.7 0 1,0 3.4,0a1.7,1.7 0 1,0 -3.4,0M1060.3,387.1a1.7,1.7 0 1,0 3.4,0a1.7,1.7 0 1,0 -3.4,0M1062.9,388.7a1.7,1.7 0 1,0 3.4,0a1.7,1.7 0 1,0 -3.4,0M1065.5,391.7a1.7,1.7 0 1,0 3.4,0a1.7,1.7 0 1,0 -3.4,0M1067.7,394.7a1.7,1.7 0 1,0 3.4,0a1.7,1.7 0 1,0 -3.4,0M1071.0,395.7a1.7,1.7 0 1,0 3.4,0a1.7,1.7 0 1,0 -3.4,0M1073.0,400.9a1.7,1.7 0 1,0 3.4,0a1.7,1.7 0 1,0 -3.4,0M1075.6,398.3a1.7,1.7 0 1,0 3.4,0a1.7,1.7 0 1,0 -3.4,0M1078.2,400.1a1.7,1.7 0 1,0 3.4,0a1.7,1.7 0 1,0 -3.4,0M1081.4,402.8a1.7,1.7 0 1,0 3.4,0a1.7,1.7 0 1,0 -3.4,0M1083.6,400.3a1.7,1.7 0 1,0 3.4,0a1.7,1.7 0 1,0 -3.4,0M1086.4,404.1a1.7,1.7 0 1,0 3.4,0a1.7,1.7 0 1,0 -3.4,0M1088.8,402.6a1.7,1.7 0 1,0 3.4,0a1.7,1.7 0 1,0 -3.4,0M1090.7,403.8a1.7,1.7 0 1,0 3.4,0a1.7,1.7 0 1,0 -3.4,0M1094.0,403.3a1.7,1.7 0 1,0 3.4,0a1.7,1.7 0 1,0 -3.4,0M1096.4,405.7a1.7,1.7 0 1,0 3.4,0a1.7,1.7 0 1,0 -3.4,0M1099.2,407.5a1.7,1.7 0 1,0 3.4,0a1.7,1.7 0 1,0 -3.4,0M1101.0,407.4a1.7,1.7 0 1,0 3.4,0a1.7,1.7 0 1,0 -3.4,0M1103.7,410.5a1.7,1.7 0 1,0 3.4,0a1.7,1.7 0 1,0 -3.4,0M1106.7,412.9a1.7,1.7 0 1,0 3.4,0a1.7,1.7 0 1,0 -3.4,0M1109.2,413.5a1.7,1.7 0 1,0 3.4,0a1.7,1.7 0 1,0 -3.4,0M1111.4,414.2a1.7,1.7 0 1,0 3.4,0a1.7,1.7 0 1,0 -3.4,0M1113.8,416.8a1.7,1.7 0 1,0 3.4,0a1.7,1.7 0 1,0 -3.4,0M1116.4,419.9a1.7,1.7 0 1,0 3.4,0a1.7,1.7 0 1,0 -3.4,0M1119.3,423.7a1.7,1.7 0 1,0 3.4,0a1.7,1.7 0 1,0 -3.4,0M1121.6,426.5a1.7,1.7 0 1,0 3.4,0a1.7,1.7 0 1,0 -3.4,0M1124.3,422.3a1.7,1.7 0 1,0 3.4,0a1.7,1.7 0 1,0 -3.4,0M1126.6,426.8a1.7,1.7 0 1,0 3.4,0a1.7,1.7 0 1,0 -3.4,0M1129.3,428.9a1.7,1.7 0 1,0 3.4,0a1.7,1.7 0 1,0 -3.4,0M1131.7,430.0a1.7,1.7 0 1,0 3.4,0a1.7,1.7 0 1,0 -3.4,0M1134.7,432.8a1.7,1.7 0 1,0 3.4,0a1.7,1.7 0 1,0 -3.4,0M1137.6,432.7a1.7,1.7 0 1,0 3.4,0a1.7,1.7 0 1,0 -3.4,0M1139.6,432.1a1.7,1.7 0 1,0 3.4,0a1.7,1.7 0 1,0 -3.4,0M1142.3,433.9a1.7,1.7 0 1,0 3.4,0a1.7,1.7 0 1,0 -3.4,0M1144.4,437.2a1.7,1.7 0 1,0 3.4,0a1.7,1.7 0 1,0 -3.4,0M1147.2,437.6a1.7,1.7 0 1,0 3.4,0a1.7,1.7 0 1,0 -3.4,0M1150.0,436.9a1.7,1.7 0 1,0 3.4,0a1.7,1.7 0 1,0 -3.4,0M1152.7,438.3a1.7,1.7 0 1,0 3.4,0a1.7,1.7 0 1,0 -3.4,0M1154.9,436.7a1.7,1.7 0 1,0 3.4,0a1.7,1.7 0 1,0 -3.4,0M1157.4,436.1a1.7,1.7 0 1,0 3.4,0a1.7,1.7 0 1,0 -3.4,0M1160.6,438.8a1.7,1.7 0 1,0 3.4,0a1.7,1.7 0 1,0 -3.4,0M1163.1,437.4a1.7,1.7 0 1,0 3.4,0a1.7,1.7 0 1,0 -3.4,0M1164.8,436.2a1.7,1.7 0 1,0 3.4,0a1.7,1.7 0 1,0 -3.4,0M1168.1,437.3a1.7,1.7 0 1,0 3.4,0a1.7,1.7 0 1,0 -3.4,0M1170.5,433.2a1.7,1.7 0 1,0 3.4,0a1.7,1.7 0 1,0 -3.4,0M1172.5,429.8a1.7,1.7 0 1,0 3.4,0a1.7,1.7 0 1,0 -3.4,0M1175.9,434.6a1.7,1.7 0 1,0 3.4,0a1.7,1.7 0 1,0 -3.4,0M1178.5,432.1a1.7,1.7 0 1,0 3.4,0a1.7,1.7 0 1,0 -3.4,0M1180.3,429.4a1.7,1.7 0 1,0 3.4,0a1.7,1.7 0 1,0 -3.4,0M1182.9,426.0a1.7,1.7 0 1,0 3.4,0a1.7,1.7 0 1,0 -3.4,0M1186.2,428.0a1.7,1.7 0 1,0 3.4,0a1.7,1.7 0 1,0 -3.4,0M1188.5,426.4a1.7,1.7 0 1,0 3.4,0a1.7,1.7 0 1,0 -3.4,0M1190.8,426.4a1.7,1.7 0 1,0 3.4,0a1.7,1.7 0 1,0 -3.4,0M1193.5,433.2a1.7,1.7 0 1,0 3.4,0a1.7,1.7 0 1,0 -3.4,0M1195.7,432.0a1.7,1.7 0 1,0 3.4,0a1.7,1.7 0 1,0 -3.4,0M1199.0,431.4a1.7,1.7 0 1,0 3.4,0a1.7,1.7 0 1,0 -3.4,0M1200.7,432.4a1.7,1.7 0 1,0 3.4,0a1.7,1.7 0 1,0 -3.4,0M1203.4,433.2a1.7,1.7 0 1,0 3.4,0a1.7,1.7 0 1,0 -3.4,0M1205.8,434.1a1.7,1.7 0 1,0 3.4,0a1.7,1.7 0 1,0 -3.4,0M1208.4,434.8a1.7,1.7 0 1,0 3.4,0a1.7,1.7 0 1,0 -3.4,0M1211.2,437.6a1.7,1.7 0 1,0 3.4,0a1.7,1.7 0 1,0 -3.4,0M1213.6,438.5a1.7,1.7 0 1,0 3.4,0a1.7,1.7 0 1,0 -3.4,0M1216.3,437.4a1.7,1.7 0 1,0 3.4,0a1.7,1.7 0 1,0 -3.4,0M1219.0,441.4a1.7,1.7 0 1,0 3.4,0a1.7,1.7 0 1,0 -3.4,0M1222.0,437.5a1.7,1.7 0 1,0 3.4,0a1.7,1.7 0 1,0 -3.4,0M1224.1,438.7a1.7,1.7 0 1,0 3.4,0a1.7,1.7 0 1,0 -3.4,0M1227.2,440.4a1.7,1.7 0 1,0 3.4,0a1.7,1.7 0 1,0 -3.4,0M1229.5,438.3a1.7,1.7 0 1,0 3.4,0a1.7,1.7 0 1,0 -3.4,0M1231.8,438.8a1.7,1.7 0 1,0 3.4,0a1.7,1.7 0 1,0 -3.4,0M1234.5,436.5a1.7,1.7 0 1,0 3.4,0a1.7,1.7 0 1,0 -3.4,0M1237.1,438.7a1.7,1.7 0 1,0 3.4,0a1.7,1.7 0 1,0 -3.4,0M1239.9,437.5a1.7,1.7 0 1,0 3.4,0a1.7,1.7 0 1,0 -3.4,0M1241.9,437.5a1.7,1.7 0 1,0 3.4,0a1.7,1.7 0 1,0 -3.4,0M1244.5,435.7a1.7,1.7 0 1,0 3.4,0a1.7,1.7 0 1,0 -3.4,0M1247.4,434.4a1.7,1.7 0 1,0 3.4,0a1.7,1.7 0 1,0 -3.4,0M1249.9,433.7a1.7,1.7 0 1,0 3.4,0a1.7,1.7 0 1,0 -3.4,0M1252.7,434.8a1.7,1.7 0 1,0 3.4,0a1.7,1.7 0 1,0 -3.4,0M1254.6,435.2a1.7,1.7 0 1,0 3.4,0a1.7,1.7 0 1,0 -3.4,0M1257.1,432.6a1.7,1.7 0 1,0 3.4,0a1.7,1.7 0 1,0 -3.4,0M1260.2,432.4a1.7,1.7 0 1,0 3.4,0a1.7,1.7 0 1,0 -3.4,0M1262.5,439.9a1.7,1.7 0 1,0 3.4,0a1.7,1.7 0 1,0 -3.4,0M1264.7,434.8a1.7,1.7 0 1,0 3.4,0a1.7,1.7 0 1,0 -3.4,0M1267.8,437.3a1.7,1.7 0 1,0 3.4,0a1.7,1.7 0 1,0 -3.4,0M1270.6,436.7a1.7,1.7 0 1,0 3.4,0a1.7,1.7 0 1,0 -3.4,0M1272.4,437.7a1.7,1.7 0 1,0 3.4,0a1.7,1.7 0 1,0 -3.4,0M1275.8,436.9a1.7,1.7 0 1,0 3.4,0a1.7,1.7 0 1,0 -3.4,0M1277.4,437.5a1.7,1.7 0 1,0 3.4,0a1.7,1.7 0 1,0 -3.4,0M1280.3,441.4a1.7,1.7 0 1,0 3.4,0a1.7,1.7 0 1,0 -3.4,0M1283.2,434.9a1.7,1.7 0 1,0 3.4,0a1.7,1.7 0 1,0 -3.4,0M1286.0,440.2a1.7,1.7 0 1,0 3.4,0a1.7,1.7 0 1,0 -3.4,0M1287.8,437.6a1.7,1.7 0 1,0 3.4,0a1.7,1.7 0 1,0 -3.4,0M1291.1,438.7a1.7,1.7 0 1,0 3.4,0a1.7,1.7 0 1,0 -3.4,0M1293.3,438.3a1.7,1.7 0 1,0 3.4,0a1.7,1.7 0 1,0 -3.4,0M1295.6,437.5a1.7,1.7 0 1,0 3.4,0a1.7,1.7 0 1,0 -3.4,0" fill="#000"/>
<path d="M787.1,498.1h0.9M789.6,498.5h0.9M792.2,497.3h0.9M795.6,496.7h0.9M797.3,496.3h0.9M800.6,502.2h0.9M802.8,500.1h0.9M805.2,494.3h0.9M807.7,496.9h0.9M810.1,496.8h0.9M812.7,497.8h0.9M815.3,499.1h0.9M818.0,498.2h0.9M820.6,497.7h0.9M823.3,495.9h0.9M825.5,497.1h0.9M828.2,497.4h0.9M830.5,496.7h0.9M833.2,494.3h0.9M836.1,497.3h0.9M839.0,495.9h0.9M841.1,492.4h0.9M843.7,495.8h0.9M846.3,493.3h0.9M848.7,490.0h0.9M851.8,493.9h0.9M853.9,491.6h0.9M856.4,494.7h0.9M858.7,493.7h0.9M861.9,492.9h0.9M863.8,493.6h0.9M867.1,494.0h0.9M869.1,489.5h0.9M871.6,490.6h0.9M874.1,492.8h0.9M877.0,489.9h0.9M880.0,494.7h0.9M882.2,489.7h0.9M884.5,494.0h0.9M887.1,490.5h0.9M889.8,488.2h0.9M892.4,488.4h0.9M894.4,489.4h0.9M897.2,488.5h0.9M899.6,487.4h0.9M902.1,485.4h0.9M905.2,486.7h0.9M907.7,484.9h0.9M910.5,481.6h0.9M913.2,482.6h0.9M915.9,484.5h0.9M917.6,482.4h0.9M920.0,479.6h0.9M923.4,483.8h0.9M925.8,479.5h0.9M928.5,482.0h0.9M930.7,481.6h0.9M933.6,480.2h0.9M935.9,474.8h0.9M938.8,476.1h0.9M940.7,475.1h0.9M943.0,477.8h0.9M945.7,476.3h0.9M949.0,470.3h0.9M951.3,469.1h0.9M953.9,466.4h0.9M956.6,463.4h0.9M959.1,458.9h0.9M961.6,457.0h0.9M963.5,452.2h0.9M966.1,446.0h0.9M968.8,441.9h0.9M971.9,436.1h0.9M974.7,429.6h0.9M976.7,423.8h0.9M979.5,416.4h0.9M982.0,406.4h0.9M984.0,399.5h0.9M987.2,389.4h0.9M989.3,378.4h0.9M991.7,369.6h0.9M994.4,360.6h0.9M997.4,352.2h0.9M999.6,345.4h0.9M1002.3,340.0h0.9M1004.5,334.9h0.9M1007.9,328.6h0.9M1010.4,326.2h0.9M1012.9,321.3h0.9M1015.6,317.7h0.9M1017.4,317.4h0.9M1020.7,316.8h0.9M1022.4,318.4h0.9M1025.4,318.6h0.9M1028.2,319.7h0.9M1030.5,324.2h0.9M1032.8,325.2h0.9M1036.0,331.0h0.9M1037.6,336.4h0.9M1040.7,340.3h0.9M1042.9,346.8h0.9M1045.7,351.6h0.9M1047.9,361.7h0.9M1051.2,365.9h0.9M1053.9,370.5h0.9M1056.3,377.0h0.9M1058.5,380.2h0.9M1061.0,386.5h0.9M1063.6,388.1h0.9M1066.2,391.1h0.9M1068.4,394.1h0.9M1071.7,395.1h0.9M1073.7,400.3h0.9M1076.3,397.7h0.9M1078.9,399.5h0.9M1082.1,402.2h0.9M1084.3,399.7h0.9M1087.1,403.5h0.9M1089.5,402.0h0.9M1091.4,403.2h0.9M1094.7,402.7h0.9M1097.1,405.1h0.9M1099.9,406.9h0.9M1101.7,406.8h0.9M1104.4,409.9h0.9M1107.4,412.3h0.9M1109.9,412.9h0.9M1112.1,413.6h0.9M1114.5,416.2h0.9M1117.1,419.3h0.9M1120.0,423.1h0.9M1122.3,425.9h0.9M1125.0,421.7h0.9M1127.3,426.2h0.9M1130.0,428.3h0.9M1132.4,429.4h0.9M1135.4,432.2h0.9M1138.3,432.1h0.9M1140.3,431.5h0.9M1143.0,433.3h0.9M1145.1,436.6h0.9M1147.9,437.0h0.9M1150.7,436.3h0.9M1153.4,437.7h0.9M1155.6,436.1h0.9M1158.1,435.5h0.9M1161.3,438.2h0.9M1163.8,436.8h0.9M1165.5,435.6h0.9M1168.8,436.7h0.9M1171.2,432.6h0.9M1173.2,429.2h0.9M1176.6,434.0h0.9M1179.2,431.5h0.9M1181.0,428.8h0.9M1183.6,425.4h0.9M1186.9,427.4h0.9M1189.2,425.8h0.9M1191.5,425.8h0.9M1194.2,432.6h0.9M1196.4,431.4h0.9M1199.7,430.8h0.9M1201.4,431.8h0.9M1204.1,432.6h0.9M1206.5,433.5h0.9M1209.1,434.2h0.9M1211.9,437.0h0.9M1214.3,437.9h0.9M1217.0,436.8h0.9M1219.7,440.8h0.9M1222.7,436.9h0.9M1224.8,438.1h0.9M1227.9,439.8h0.9M1230.2,437.7h0.9M1232.5,438.2h0.9M1235.2,435.9h0.9M1237.8,438.1h0.9M1240.6,436.9h0.9M1242.6,436.9h0.9M1245.2,435.1h0.9M1248.1,433.8h0.9M1250.6,433.1h0.9M1253.4,434.2h0.9M1255.3,434.6h0.9M1257.8,432.0h0.9M1260.9,431.8h0.9M1263.2,439.3h0.9M1265.4,434.2h0.9M1268.5,436.7h0.9M1271.3,436.1h0.9M1273.1,437.1h0.9M1276.5,436.3h0.9M1278.1,436.9h0.9M1281.0,440.8h0.9M1283.9,434.3h0.9M1286.7,439.6h0.9M1288.5,437.0h0.9M1291.8,438.1h0.9M1294.0,437.7h0.9M1296.3,436.9h0.9" stroke="#fff" stroke-width="0.9" stroke-linecap="round" fill="none"/>
<path d="M788.5,503.0L790.5,503.0L792.6,502.9L794.6,502.9L796.7,502.9L798.7,502.8L800.8,502.8L802.8,502.8L804.9,502.8L806.9,502.7L809.0,502.7L811.0,502.7L813.1,502.6L815.1,502.6L817.1,502.6L819.2,502.5L821.2,502.5L823.3,502.5L825.3,502.4L827.4,502.4L829.4,502.3L831.5,502.3L833.5,502.2L835.6,502.2L837.6,502.1L839.6,502.1L841.7,502.0L843.7,501.9L845.8,501.8L847.8,501.7L849.9,501.6L851.9,501.5L854.0,501.4L856.0,501.3L858.1,501.2L860.1,501.1L862.2,501.0L864.2,500.9L866.2,500.8L868.3,500.7L870.3,500.7L872.4,500.6L874.4,500.5L876.5,500.4L878.5,500.4L880.6,500.3L882.6,500.2L884.7,500.2L886.7,500.1L888.8,500.0L890.8,500.0L892.8,499.9L894.9,499.8L896.9,499.7L899.0,499.7L901.0,499.6L903.1,499.5L905.1,499.4L907.2,499.4L909.2,499.3L911.3,499.2L913.3,499.1L915.4,499.0L917.4,498.9L919.4,498.8L921.5,498.7L923.5,498.6L925.6,498.5L927.6,498.3L929.7,498.2L931.7,498.1L933.8,497.9L935.8,497.8L937.9,497.6L939.9,497.5L942.0,497.3L944.0,497.1L946.0,497.0L948.1,496.8L950.1,496.6L952.2,496.4L954.2,496.2L956.3,496.0L958.3,495.7L960.4,495.5L962.4,495.2L964.5,494.9L966.5,494.6L968.5,494.2L970.6,493.9L972.6,493.5L974.7,493.1L976.7,492.6L978.8,492.1L980.8,491.6L982.9,491.1L984.9,490.5L987.0,489.8L989.0,489.1L991.1,488.4L993.1,487.6L995.1,486.7L997.2,485.9L999.2,484.9L1001.3,484.0L1003.3,483.0L1005.4,481.9L1007.4,480.8L1009.5,479.6L1011.5,478.4L1013.6,477.2L1015.6,475.9L1017.7,474.7L1019.7,473.4L1021.7,472.2L1023.8,471.0L1025.8,469.9L1027.9,468.8L1029.9,467.7L1032.0,466.7L1034.0,465.7L1036.1,464.7L1038.1,463.8L1040.2,462.9L1042.2,462.0L1044.2,461.2L1046.3,460.5L1048.3,459.7L1050.4,459.0L1052.4,458.4L1054.5,457.7L1056.5,457.0L1058.6,456.3L1060.6,455.6L1062.7,454.9L1064.7,454.1L1066.8,453.3L1068.8,452.6L1070.8,451.9L1072.9,451.3L1074.9,450.7L1077.0,450.2L1079.0,449.7L1081.1,449.2L1083.1,448.8L1085.2,448.4L1087.2,448.0L1089.3,447.7L1091.3,447.4L1093.4,447.1L1095.4,446.8L1097.4,446.5L1099.5,446.3L1101.5,446.0L1103.6,445.8L1105.6,445.6L1107.7,445.4L1109.7,445.2L1111.8,445.0L1113.8,444.8L1115.9,444.7L1117.9,444.6L1120.0,444.4L1122.0,444.3L1124.0,444.2L1126.1,444.1L1128.1,444.0L1130.2,444.0L1132.2,443.9L1134.3,443.8L1136.3,443.7L1138.4,443.6L1140.4,443.4L1142.5,443.3L1144.5,443.1L1146.5,442.9L1148.6,442.6L1150.6,442.3L1152.7,442.0L1154.7,441.5L1156.8,441.0L1158.8,440.4L1160.9,439.7L1162.9,438.9L1165.0,438.0L1167.0,437.1L1169.1,436.1L1171.1,435.1L1173.1,434.1L1175.2,433.1L1177.2,432.1L1179.3,431.3L1181.3,430.5L1183.4,430.0L1185.4,429.5L1187.5,429.3L1189.5,429.2L1191.6,429.4L1193.6,429.7L1195.7,430.2L1197.7,430.9L1199.7,431.6L1201.8,432.5L1203.8,433.4L1205.9,434.3L1207.9,435.2L1210.0,436.1L1212.0,437.0L1214.1,437.7L1216.1,438.4L1218.2,439.0L1220.2,439.5L1222.3,440.0L1224.3,440.3L1226.3,440.6L1228.4,440.9L1230.4,441.0L1232.5,441.2L1234.5,441.2L1236.6,441.3L1238.6,441.3L1240.7,441.4L1242.7,441.4L1244.8,441.4L1246.8,441.3L1248.8,441.3L1250.9,441.3L1252.9,441.3L1255.0,441.3L1257.0,441.2L1259.1,441.2L1261.1,441.2L1263.2,441.2L1265.2,441.1L1267.3,441.1L1269.3,441.1L1271.4,441.1L1273.4,441.1L1275.4,441.0L1277.5,441.0L1279.5,441.0L1281.6,441.0L1283.6,441.0L1285.7,440.9L1287.7,440.9L1289.8,440.9L1291.8,440.9L1293.9,440.9L1295.9,440.8L1298.0,440.8L1300.0,440.8" fill="none" stroke="#FFFF00" stroke-width="3.0" stroke-linejoin="round"/>
<path d="M788.5,503.0L790.5,503.0L792.6,502.9L794.6,502.9L796.7,502.9L798.7,502.8L800.8,502.8L802.8,502.8L804.9,502.8L806.9,502.7L809.0,502.7L811.0,502.7L813.1,502.6L815.1,502.6L817.1,502.6L819.2,502.5L821.2,502.5L823.3,502.5L825.3,502.4L827.4,502.4L829.4,502.3L831.5,502.3L833.5,502.2L835.6,502.2L837.6,502.1L839.6,502.1L841.7,502.0L843.7,501.9L845.8,501.8L847.8,501.7L849.9,501.6L851.9,501.5L854.0,501.4L856.0,501.3L858.1,501.2L860.1,501.1L862.2,501.0L864.2,500.9L866.2,500.8L868.3,500.7L870.3,500.7L872.4,500.6L874.4,500.5L876.5,500.4L878.5,500.4L880.6,500.3L882.6,500.2L884.7,500.2L886.7,500.1L888.8,500.0L890.8,499.9L892.8,499.9L894.9,499.8L896.9,499.7L899.0,499.6L901.0,499.6L903.1,499.5L905.1,499.4L907.2,499.3L909.2,499.1L911.3,499.0L913.3,498.9L915.4,498.7L917.4,498.5L919.4,498.3L921.5,498.0L923.5,497.8L925.6,497.4L927.6,497.0L929.7,496.5L931.7,496.0L933.8,495.4L935.8,494.6L937.9,493.8L939.9,492.8L942.0,491.7L944.0,490.4L946.0,489.0L948.1,487.3L950.1,485.5L952.2,483.4L954.2,481.0L956.3,478.4L958.3,475.5L960.4,472.4L962.4,468.9L964.5,465.2L966.5,461.2L968.5,457.0L970.6,452.5L972.6,447.7L974.7,442.8L976.7,437.8L978.8,432.6L980.8,427.4L982.9,422.2L984.9,417.0L987.0,411.9L989.0,407.0L991.1,402.3L993.1,397.9L995.1,393.9L997.2,390.2L999.2,387.0L1001.3,384.3L1003.3,382.1L1005.4,380.4L1007.4,379.3L1009.5,378.7L1011.5,378.6L1013.6,379.1L1015.6,380.0L1017.7,381.5L1019.7,383.4L1021.7,385.8L1023.8,388.5L1025.8,391.6L1027.9,394.9L1029.9,398.4L1032.0,402.0L1034.0,405.7L1036.1,409.4L1038.1,413.1L1040.2,416.7L1042.2,420.2L1044.2,423.5L1046.3,426.7L1048.3,429.7L1050.4,432.4L1052.4,435.0L1054.5,437.2L1056.5,439.2L1058.6,440.9L1060.6,442.4L1062.7,443.5L1064.7,444.5L1066.8,445.2L1068.8,445.8L1070.8,446.2L1072.9,446.5L1074.9,446.8L1077.0,447.0L1079.0,447.1L1081.1,447.1L1083.1,447.1L1085.2,447.0L1087.2,447.0L1089.3,446.8L1091.3,446.7L1093.4,446.6L1095.4,446.4L1097.4,446.2L1099.5,446.0L1101.5,445.8L1103.6,445.7L1105.6,445.5L1107.7,445.3L1109.7,445.1L1111.8,445.0L1113.8,444.8L1115.9,444.7L1117.9,444.6L1120.0,444.4L1122.0,444.3L1124.0,444.2L1126.1,444.1L1128.1,444.1L1130.2,444.0L1132.2,443.9L1134.3,443.8L1136.3,443.8L1138.4,443.7L1140.4,443.7L1142.5,443.6L1144.5,443.6L1146.5,443.5L1148.6,443.4L1150.6,443.4L1152.7,443.3L1154.7,443.3L1156.8,443.2L1158.8,443.2L1160.9,443.1L1162.9,443.1L1165.0,443.0L1167.0,443.0L1169.1,442.9L1171.1,442.9L1173.1,442.8L1175.2,442.8L1177.2,442.7L1179.3,442.7L1181.3,442.6L1183.4,442.6L1185.4,442.5L1187.5,442.5L1189.5,442.4L1191.6,442.4L1193.6,442.3L1195.7,442.3L1197.7,442.2L1199.7,442.2L1201.8,442.2L1203.8,442.1L1205.9,442.1L1207.9,442.0L1210.0,442.0L1212.0,442.0L1214.1,441.9L1216.1,441.9L1218.2,441.8L1220.2,441.8L1222.3,441.8L1224.3,441.7L1226.3,441.7L1228.4,441.7L1230.4,441.6L1232.5,441.6L1234.5,441.6L1236.6,441.5L1238.6,441.5L1240.7,441.5L1242.7,441.4L1244.8,441.4L1246.8,441.4L1248.8,441.4L1250.9,441.3L1252.9,441.3L1255.0,441.3L1257.0,441.2L1259.1,441.2L1261.1,441.2L1263.2,441.2L1265.2,441.1L1267.3,441.1L1269.3,441.1L1271.4,441.1L1273.4,441.1L1275.4,441.0L1277.5,441.0L1279.5,441.0L1281.6,441.0L1283.6,441.0L1285.7,440.9L1287.7,440.9L1289.8,440.9L1291.8,440.9L1293.9,440.9L1295.9,440.8L1298.0,440.8L1300.0,440.8" fill="none" stroke="#FF8000" stroke-width="2.9" stroke-linejoin="round"/>
<path d="M788.5,503.0L790.5,503.0L792.6,502.9L794.6,502.9L796.7,502.9L798.7,502.8L800.8,502.8L802.8,502.8L804.9,502.8L806.9,502.7L809.0,502.7L811.0,502.7L813.1,502.6L815.1,502.6L817.1,502.6L819.2,502.5L821.2,502.5L823.3,502.5L825.3,502.4L827.4,502.4L829.4,502.3L831.5,502.3L833.5,502.2L835.6,502.2L837.6,502.1L839.6,502.1L841.7,502.0L843.7,501.9L845.8,501.8L847.8,501.7L849.9,501.6L851.9,501.5L854.0,501.4L856.0,501.3L858.1,501.2L860.1,501.1L862.2,501.0L864.2,500.9L866.2,500.8L868.3,500.7L870.3,500.7L872.4,500.6L874.4,500.5L876.5,500.4L878.5,500.4L880.6,500.3L882.6,500.2L884.7,500.2L886.7,500.1L888.8,500.0L890.8,500.0L892.8,499.9L894.9,499.8L896.9,499.7L899.0,499.7L901.0,499.6L903.1,499.5L905.1,499.4L907.2,499.4L909.2,499.3L911.3,499.2L913.3,499.1L915.4,499.0L917.4,498.9L919.4,498.8L921.5,498.7L923.5,498.6L925.6,498.5L927.6,498.3L929.7,498.2L931.7,498.1L933.8,497.9L935.8,497.8L937.9,497.6L939.9,497.5L942.0,497.3L944.0,497.1L946.0,497.0L948.1,496.8L950.1,496.6L952.2,496.4L954.2,496.2L956.3,496.0L958.3,495.7L960.4,495.5L962.4,495.2L964.5,494.9L966.5,494.6L968.5,494.2L970.6,493.9L972.6,493.5L974.7,493.0L976.7,492.6L978.8,492.1L980.8,491.6L982.9,491.0L984.9,490.4L987.0,489.8L989.0,489.1L991.1,488.3L993.1,487.5L995.1,486.6L997.2,485.7L999.2,484.8L1001.3,483.8L1003.3,482.7L1005.4,481.6L1007.4,480.4L1009.5,479.2L1011.5,477.8L1013.6,476.5L1015.6,475.0L1017.7,473.6L1019.7,472.1L1021.7,470.7L1023.8,469.2L1025.8,467.7L1027.9,466.3L1029.9,464.8L1032.0,463.3L1034.0,461.7L1036.1,460.1L1038.1,458.5L1040.2,456.9L1042.2,455.2L1044.2,453.5L1046.3,451.8L1048.3,450.0L1050.4,448.2L1052.4,446.4L1054.5,444.5L1056.5,442.5L1058.6,440.5L1060.6,438.5L1062.7,436.3L1064.7,434.2L1066.8,432.0L1068.8,429.9L1070.8,427.9L1072.9,426.0L1074.9,424.2L1077.0,422.5L1079.0,420.9L1081.1,419.5L1083.1,418.3L1085.2,417.2L1087.2,416.3L1089.3,415.5L1091.3,415.0L1093.4,414.6L1095.4,414.4L1097.4,414.4L1099.5,414.5L1101.5,414.8L1103.6,415.2L1105.6,415.9L1107.7,416.6L1109.7,417.4L1111.8,418.4L1113.8,419.5L1115.9,420.6L1117.9,421.8L1120.0,423.1L1122.0,424.4L1124.0,425.6L1126.1,426.9L1128.1,428.2L1130.2,429.4L1132.2,430.7L1134.3,431.8L1136.3,432.9L1138.4,434.0L1140.4,434.9L1142.5,435.8L1144.5,436.7L1146.5,437.4L1148.6,438.1L1150.6,438.8L1152.7,439.3L1154.7,439.8L1156.8,440.3L1158.8,440.6L1160.9,441.0L1162.9,441.2L1165.0,441.5L1167.0,441.7L1169.1,441.8L1171.1,442.0L1173.1,442.1L1175.2,442.2L1177.2,442.2L1179.3,442.3L1181.3,442.3L1183.4,442.3L1185.4,442.3L1187.5,442.3L1189.5,442.3L1191.6,442.3L1193.6,442.2L1195.7,442.2L1197.7,442.2L1199.7,442.2L1201.8,442.1L1203.8,442.1L1205.9,442.1L1207.9,442.0L1210.0,442.0L1212.0,441.9L1214.1,441.9L1216.1,441.9L1218.2,441.8L1220.2,441.8L1222.3,441.8L1224.3,441.7L1226.3,441.7L1228.4,441.7L1230.4,441.6L1232.5,441.6L1234.5,441.6L1236.6,441.5L1238.6,441.5L1240.7,441.5L1242.7,441.4L1244.8,441.4L1246.8,441.4L1248.8,441.4L1250.9,441.3L1252.9,441.3L1255.0,441.3L1257.0,441.2L1259.1,441.2L1261.1,441.2L1263.2,441.2L1265.2,441.1L1267.3,441.1L1269.3,441.1L1271.4,441.1L1273.4,441.1L1275.4,441.0L1277.5,441.0L1279.5,441.0L1281.6,441.0L1283.6,441.0L1285.7,440.9L1287.7,440.9L1289.8,440.9L1291.8,440.9L1293.9,440.9L1295.9,440.8L1298.0,440.8L1300.0,440.8" fill="none" stroke="#00FF00" stroke-width="2.8" stroke-linejoin="round"/>
<path d="M788.5,503.0L790.5,503.0L792.6,502.9L794.6,502.9L796.7,502.9L798.7,502.8L800.8,502.8L802.8,502.8L804.9,502.8L806.9,502.7L809.0,502.7L811.0,502.7L813.1,502.6L815.1,502.6L817.1,502.6L819.2,502.5L821.2,502.5L823.3,502.5L825.3,502.4L827.4,502.4L829.4,502.3L831.5,502.3L833.5,502.2L835.6,502.2L837.6,502.1L839.6,502.1L841.7,502.0L843.7,501.9L845.8,501.8L847.8,501.7L849.9,501.6L851.9,501.5L854.0,501.4L856.0,501.3L858.1,501.2L860.1,501.1L862.2,501.0L864.2,500.9L866.2,500.8L868.3,500.7L870.3,500.7L872.4,500.6L874.4,500.5L876.5,500.4L878.5,500.4L880.6,500.3L882.6,500.2L884.7,500.2L886.7,500.1L888.8,500.0L890.8,500.0L892.8,499.9L894.9,499.8L896.9,499.7L899.0,499.7L901.0,499.6L903.1,499.5L905.1,499.4L907.2,499.4L909.2,499.3L911.3,499.2L913.3,499.1L915.4,499.0L917.4,498.9L919.4,498.8L921.5,498.7L923.5,498.6L925.6,498.5L927.6,498.3L929.7,498.2L931.7,498.0L933.8,497.9L935.8,497.7L937.9,497.6L939.9,497.4L942.0,497.2L944.0,497.0L946.0,496.7L948.1,496.5L950.1,496.2L952.2,495.9L954.2,495.6L956.3,495.2L958.3,494.8L960.4,494.2L962.4,493.7L964.5,493.0L966.5,492.2L968.5,491.3L970.6,490.3L972.6,489.1L974.7,487.8L976.7,486.3L978.8,484.6L980.8,482.6L982.9,480.5L984.9,478.1L987.0,475.5L989.0,472.6L991.1,469.4L993.1,466.0L995.1,462.3L997.2,458.4L999.2,454.3L1001.3,449.9L1003.3,445.4L1005.4,440.8L1007.4,436.0L1009.5,431.2L1011.5,426.4L1013.6,421.6L1015.6,417.0L1017.7,412.5L1019.7,408.4L1021.7,404.5L1023.8,401.1L1025.8,398.1L1027.9,395.5L1029.9,393.5L1032.0,391.9L1034.0,390.8L1036.1,390.3L1038.1,390.3L1040.2,390.8L1042.2,391.7L1044.2,393.1L1046.3,394.9L1048.3,397.0L1050.4,399.4L1052.4,402.1L1054.5,404.9L1056.5,407.9L1058.6,410.8L1060.6,413.7L1062.7,416.6L1064.7,419.3L1066.8,422.0L1068.8,424.5L1070.8,426.9L1072.9,429.1L1074.9,431.2L1077.0,433.2L1079.0,434.9L1081.1,436.5L1083.1,437.9L1085.2,439.1L1087.2,440.2L1089.3,441.1L1091.3,441.9L1093.4,442.5L1095.4,443.0L1097.4,443.5L1099.5,443.8L1101.5,444.0L1103.6,444.2L1105.6,444.3L1107.7,444.4L1109.7,444.4L1111.8,444.4L1113.8,444.4L1115.9,444.3L1117.9,444.3L1120.0,444.2L1122.0,444.2L1124.0,444.1L1126.1,444.1L1128.1,444.0L1130.2,443.9L1132.2,443.9L1134.3,443.8L1136.3,443.8L1138.4,443.7L1140.4,443.7L1142.5,443.6L1144.5,443.5L1146.5,443.5L1148.6,443.4L1150.6,443.4L1152.7,443.3L1154.7,443.3L1156.8,443.2L1158.8,443.2L1160.9,443.1L1162.9,443.1L1165.0,443.0L1167.0,443.0L1169.1,442.9L1171.1,442.9L1173.1,442.8L1175.2,442.8L1177.2,442.7L1179.3,442.7L1181.3,442.6L1183.4,442.6L1185.4,442.5L1187.5,442.5L1189.5,442.4L1191.6,442.4L1193.6,442.3L1195.7,442.3L1197.7,442.2L1199.7,442.2L1201.8,442.2L1203.8,442.1L1205.9,442.1L1207.9,442.0L1210.0,442.0L1212.0,442.0L1214.1,441.9L1216.1,441.9L1218.2,441.8L1220.2,441.8L1222.3,441.8L1224.3,441.7L1226.3,441.7L1228.4,441.7L1230.4,441.6L1232.5,441.6L1234.5,441.6L1236.6,441.5L1238.6,441.5L1240.7,441.5L1242.7,441.4L1244.8,441.4L1246.8,441.4L1248.8,441.4L1250.9,441.3L1252.9,441.3L1255.0,441.3L1257.0,441.2L1259.1,441.2L1261.1,441.2L1263.2,441.2L1265.2,441.1L1267.3,441.1L1269.3,441.1L1271.4,441.1L1273.4,441.1L1275.4,441.0L1277.5,441.0L1279.5,441.0L1281.6,441.0L1283.6,441.0L1285.7,440.9L1287.7,440.9L1289.8,440.9L1291.8,440.9L1293.9,440.9L1295.9,440.8L1298.0,440.8L1300.0,440.8" fill="none" stroke="#008000" stroke-width="3.0" stroke-linejoin="round"/>
<path d="M788.5,502.9L790.5,502.9L792.6,502.8L794.6,502.8L796.7,502.7L798.7,502.6L800.8,502.6L802.8,502.5L804.9,502.5L806.9,502.4L809.0,502.3L811.0,502.3L813.1,502.2L815.1,502.1L817.1,502.0L819.2,501.9L821.2,501.8L823.3,501.7L825.3,501.5L827.4,501.4L829.4,501.2L831.5,501.1L833.5,500.9L835.6,500.7L837.6,500.5L839.6,500.3L841.7,500.1L843.7,499.8L845.8,499.5L847.8,499.2L849.9,498.9L851.9,498.6L854.0,498.3L856.0,498.0L858.1,497.6L860.1,497.3L862.2,496.9L864.2,496.6L866.2,496.2L868.3,495.9L870.3,495.5L872.4,495.2L874.4,494.8L876.5,494.4L878.5,494.1L880.6,493.7L882.6,493.4L884.7,493.0L886.7,492.7L888.8,492.3L890.8,492.0L892.8,491.7L894.9,491.4L896.9,491.1L899.0,490.8L901.0,490.5L903.1,490.2L905.1,490.0L907.2,489.7L909.2,489.5L911.3,489.3L913.3,489.1L915.4,489.0L917.4,488.8L919.4,488.7L921.5,488.5L923.5,488.4L925.6,488.4L927.6,488.3L929.7,488.2L931.7,488.2L933.8,488.2L935.8,488.2L937.9,488.2L939.9,488.2L942.0,488.2L944.0,488.3L946.0,488.3L948.1,488.4L950.1,488.4L952.2,488.5L954.2,488.5L956.3,488.6L958.3,488.6L960.4,488.7L962.4,488.7L964.5,488.7L966.5,488.6L968.5,488.6L970.6,488.5L972.6,488.4L974.7,488.3L976.7,488.1L978.8,487.9L980.8,487.6L982.9,487.3L984.9,487.0L987.0,486.5L989.0,486.1L991.1,485.5L993.1,485.0L995.1,484.3L997.2,483.6L999.2,482.9L1001.3,482.1L1003.3,481.2L1005.4,480.3L1007.4,479.4L1009.5,478.3L1011.5,477.2L1013.6,476.1L1015.6,474.9L1017.7,473.8L1019.7,472.6L1021.7,471.5L1023.8,470.4L1025.8,469.3L1027.9,468.3L1029.9,467.3L1032.0,466.3L1034.0,465.3L1036.1,464.4L1038.1,463.5L1040.2,462.7L1042.2,461.8L1044.2,461.0L1046.3,460.3L1048.3,459.6L1050.4,458.9L1052.4,458.3L1054.5,457.6L1056.5,456.9L1058.6,456.3L1060.6,455.5L1062.7,454.8L1064.7,454.0L1066.8,453.3L1068.8,452.6L1070.8,451.9L1072.9,451.2L1074.9,450.7L1077.0,450.1L1079.0,449.7L1081.1,449.2L1083.1,448.8L1085.2,448.4L1087.2,448.0L1089.3,447.7L1091.3,447.4L1093.4,447.1L1095.4,446.8L1097.4,446.5L1099.5,446.3L1101.5,446.0L1103.6,445.8L1105.6,445.6L1107.7,445.4L1109.7,445.2L1111.8,445.0L1113.8,444.8L1115.9,444.7L1117.9,444.6L1120.0,444.4L1122.0,444.3L1124.0,444.2L1126.1,444.2L1128.1,444.1L1130.2,444.0L1132.2,443.9L1134.3,443.9L1136.3,443.8L1138.4,443.7L1140.4,443.7L1142.5,443.6L1144.5,443.6L1146.5,443.5L1148.6,443.4L1150.6,443.4L1152.7,443.3L1154.7,443.3L1156.8,443.2L1158.8,443.2L1160.9,443.1L1162.9,443.1L1165.0,443.0L1167.0,443.0L1169.1,442.9L1171.1,442.9L1173.1,442.8L1175.2,442.8L1177.2,442.7L1179.3,442.7L1181.3,442.6L1183.4,442.6L1185.4,442.5L1187.5,442.5L1189.5,442.4L1191.6,442.4L1193.6,442.3L1195.7,442.3L1197.7,442.2L1199.7,442.2L1201.8,442.2L1203.8,442.1L1205.9,442.1L1207.9,442.0L1210.0,442.0L1212.0,442.0L1214.1,441.9L1216.1,441.9L1218.2,441.8L1220.2,441.8L1222.3,441.8L1224.3,441.7L1226.3,441.7L1228.4,441.7L1230.4,441.6L1232.5,441.6L1234.5,441.6L1236.6,441.5L1238.6,441.5L1240.7,441.5L1242.7,441.4L1244.8,441.4L1246.8,441.4L1248.8,441.4L1250.9,441.3L1252.9,441.3L1255.0,441.3L1257.0,441.2L1259.1,441.2L1261.1,441.2L1263.2,441.2L1265.2,441.1L1267.3,441.1L1269.3,441.1L1271.4,441.1L1273.4,441.1L1275.4,441.0L1277.5,441.0L1279.5,441.0L1281.6,441.0L1283.6,441.0L1285.7,440.9L1287.7,440.9L1289.8,440.9L1291.8,440.9L1293.9,440.9L1295.9,440.8L1298.0,440.8L1300.0,440.8" fill="none" stroke="#0000FF" stroke-width="2.7" stroke-linejoin="round"/>
<path d="M788.5,501.5L790.5,501.5L792.6,501.4L794.6,501.3L796.7,501.1L798.7,501.0L800.8,500.9L802.8,500.8L804.9,500.7L806.9,500.6L809.0,500.5L811.0,500.4L813.1,500.3L815.1,500.2L817.1,500.1L819.2,500.0L821.2,499.9L823.3,499.7L825.3,499.6L827.4,499.5L829.4,499.3L831.5,499.2L833.5,499.0L835.6,498.8L837.6,498.6L839.6,498.4L841.7,498.2L843.7,498.0L845.8,497.7L847.8,497.4L849.9,497.2L851.9,496.9L854.0,496.5L856.0,496.2L858.1,495.9L860.1,495.5L862.2,495.2L864.2,494.9L866.2,494.5L868.3,494.2L870.3,493.8L872.4,493.5L874.4,493.1L876.5,492.8L878.5,492.4L880.6,492.1L882.6,491.8L884.7,491.4L886.7,491.1L888.8,490.7L890.8,490.4L892.8,490.0L894.9,489.7L896.9,489.3L899.0,488.9L901.0,488.6L903.1,488.2L905.1,487.8L907.2,487.4L909.2,487.0L911.3,486.6L913.3,486.2L915.4,485.8L917.4,485.4L919.4,485.0L921.5,484.5L923.5,484.1L925.6,483.6L927.6,483.1L929.7,482.6L931.7,482.0L933.8,481.4L935.8,480.7L937.9,480.0L939.9,479.3L942.0,478.4L944.0,477.4L946.0,476.3L948.1,474.8L950.1,472.9L952.2,470.4L954.2,467.7L956.3,465.2L958.3,462.9L960.4,460.5L962.4,457.6L964.5,453.9L966.5,449.7L968.5,445.5L970.6,441.6L972.6,437.6L974.7,432.8L976.7,427.3L978.8,421.4L980.8,415.3L982.9,408.8L984.9,401.5L987.0,393.3L989.0,385.1L991.1,377.4L993.1,370.3L995.1,363.7L997.2,357.6L999.2,351.7L1001.3,346.1L1003.3,340.8L1005.4,336.0L1007.4,331.7L1009.5,327.9L1011.5,324.5L1013.6,321.8L1015.6,319.7L1017.7,318.2L1019.7,317.3L1021.7,317.0L1023.8,317.3L1025.8,318.3L1027.9,319.6L1029.9,321.5L1032.0,323.9L1034.0,327.1L1036.1,330.9L1038.1,334.9L1040.2,339.0L1042.2,343.0L1044.2,347.1L1046.3,351.9L1048.3,357.4L1050.4,362.6L1052.4,367.3L1054.5,371.6L1056.5,375.7L1058.6,379.6L1060.6,383.1L1062.7,386.1L1064.7,388.7L1066.8,391.2L1068.8,393.3L1070.8,395.2L1072.9,396.7L1074.9,397.9L1077.0,398.9L1079.0,399.8L1081.1,400.5L1083.1,401.2L1085.2,401.9L1087.2,402.5L1089.3,403.0L1091.3,403.5L1093.4,404.1L1095.4,404.7L1097.4,405.5L1099.5,406.5L1101.5,407.7L1103.6,408.9L1105.6,410.2L1107.7,411.6L1109.7,412.9L1111.8,414.4L1113.8,415.8L1115.9,417.3L1117.9,418.8L1120.0,420.2L1122.0,421.7L1124.0,423.2L1126.1,424.7L1128.1,426.2L1130.2,427.7L1132.2,429.0L1134.3,430.2L1136.3,431.4L1138.4,432.5L1140.4,433.5L1142.5,434.5L1144.5,435.3L1146.5,436.0L1148.6,436.5L1150.6,436.9L1152.7,437.3L1154.7,437.5L1156.8,437.7L1158.8,437.8L1160.9,437.7L1162.9,437.5L1165.0,437.0L1167.0,436.5L1169.1,435.8L1171.1,435.0L1173.1,434.0L1175.2,432.9L1177.2,431.8L1179.3,430.9L1181.3,430.1L1183.4,429.3L1185.4,428.7L1187.5,428.4L1189.5,428.3L1191.6,428.7L1193.6,429.4L1195.7,430.2L1197.7,431.2L1199.7,432.1L1201.8,433.2L1203.8,434.3L1205.9,435.4L1207.9,436.4L1210.0,437.2L1212.0,437.8L1214.1,438.4L1216.1,438.9L1218.2,439.4L1220.2,439.9L1222.3,440.2L1224.3,440.5L1226.3,440.6L1228.4,440.8L1230.4,440.8L1232.5,440.9L1234.5,441.0L1236.6,441.0L1238.6,441.1L1240.7,441.2L1242.7,441.2L1244.8,441.2L1246.8,441.3L1248.8,441.3L1250.9,441.3L1252.9,441.4L1255.0,441.4L1257.0,441.4L1259.1,441.4L1261.1,441.4L1263.2,441.4L1265.2,441.4L1267.3,441.4L1269.3,441.4L1271.4,441.3L1273.4,441.3L1275.4,441.3L1277.5,441.3L1279.5,441.2L1281.6,441.2L1283.6,441.2L1285.7,441.2L1287.7,441.1L1289.8,441.1L1291.8,441.1L1293.9,441.1L1295.9,441.0L1298.0,441.0L1300.0,441.0" fill="none" stroke="#000" stroke-width="2.3" stroke-linejoin="round"/>
<ellipse cx="1057.5" cy="101" rx="34" ry="39.6" fill="none" stroke="#FF0000" stroke-width="4.2" stroke-dasharray="4.2 4.45"/>
<rect x="788.50" y="19.50" width="511.50" height="239.10" fill="none" stroke="#000" stroke-width="3"/>
<rect x="788.50" y="294.40" width="511.50" height="237.90" fill="none" stroke="#000" stroke-width="3"/>
<line x1="788.50" y1="258.60" x2="788.50" y2="263.40" stroke="#000" stroke-width="2.6" />
<line x1="890.80" y1="258.60" x2="890.80" y2="263.40" stroke="#000" stroke-width="2.6" />
<line x1="993.10" y1="258.60" x2="993.10" y2="263.40" stroke="#000" stroke-width="2.6" />
<line x1="1095.40" y1="258.60" x2="1095.40" y2="263.40" stroke="#000" stroke-width="2.6" />
<line x1="1197.70" y1="258.60" x2="1197.70" y2="263.40" stroke="#000" stroke-width="2.6" />
<line x1="1300.00" y1="258.60" x2="1300.00" y2="263.40" stroke="#000" stroke-width="2.6" />
<line x1="839.65" y1="258.60" x2="839.65" y2="261.60" stroke="#000" stroke-width="2.2" />
<line x1="941.95" y1="258.60" x2="941.95" y2="261.60" stroke="#000" stroke-width="2.2" />
<line x1="1044.25" y1="258.60" x2="1044.25" y2="261.60" stroke="#000" stroke-width="2.2" />
<line x1="1146.55" y1="258.60" x2="1146.55" y2="261.60" stroke="#000" stroke-width="2.2" />
<line x1="1248.85" y1="258.60" x2="1248.85" y2="261.60" stroke="#000" stroke-width="2.2" />
<line x1="788.50" y1="532.30" x2="788.50" y2="537.20" stroke="#000" stroke-width="2.6" />
<line x1="890.80" y1="532.30" x2="890.80" y2="537.20" stroke="#000" stroke-width="2.6" />
<line x1="993.10" y1="532.30" x2="993.10" y2="537.20" stroke="#000" stroke-width="2.6" />
<line x1="1095.40" y1="532.30" x2="1095.40" y2="537.20" stroke="#000" stroke-width="2.6" />
<line x1="1197.70" y1="532.30" x2="1197.70" y2="537.20" stroke="#000" stroke-width="2.6" />
<line x1="1300.00" y1="532.30" x2="1300.00" y2="537.20" stroke="#000" stroke-width="2.6" />
<line x1="839.65" y1="532.30" x2="839.65" y2="535.30" stroke="#000" stroke-width="2.2" />
<line x1="941.95" y1="532.30" x2="941.95" y2="535.30" stroke="#000" stroke-width="2.2" />
<line x1="1044.25" y1="532.30" x2="1044.25" y2="535.30" stroke="#000" stroke-width="2.2" />
<line x1="1146.55" y1="532.30" x2="1146.55" y2="535.30" stroke="#000" stroke-width="2.2" />
<line x1="1248.85" y1="532.30" x2="1248.85" y2="535.30" stroke="#000" stroke-width="2.2" />
<text x="771.20" y="284.30" font-size="24.5" letter-spacing="-2.669" fill="#000" font-family='"Liberation Sans",Arial,sans-serif' font-weight="bold" font-style="normal">280</text>
<text x="771.20" y="557.70" font-size="24.5" letter-spacing="-2.669" fill="#000" font-family='"Liberation Sans",Arial,sans-serif' font-weight="bold" font-style="normal">280</text>
<text x="873.50" y="284.30" font-size="24.5" letter-spacing="-2.669" fill="#000" font-family='"Liberation Sans",Arial,sans-serif' font-weight="bold" font-style="normal">282</text>
<text x="873.50" y="557.70" font-size="24.5" letter-spacing="-2.669" fill="#000" font-family='"Liberation Sans",Arial,sans-serif' font-weight="bold" font-style="normal">282</text>
<text x="975.38" y="284.30" font-size="24.5" letter-spacing="-2.669" fill="#000" font-family='"Liberation Sans",Arial,sans-serif' font-weight="bold" font-style="normal">284</text>
<text x="975.38" y="557.70" font-size="24.5" letter-spacing="-2.669" fill="#000" font-family='"Liberation Sans",Arial,sans-serif' font-weight="bold" font-style="normal">284</text>
<text x="1078.04" y="284.30" font-size="24.5" letter-spacing="-2.669" fill="#000" font-family='"Liberation Sans",Arial,sans-serif' font-weight="bold" font-style="normal">286</text>
<text x="1078.04" y="557.70" font-size="24.5" letter-spacing="-2.669" fill="#000" font-family='"Liberation Sans",Arial,sans-serif' font-weight="bold" font-style="normal">286</text>
<text x="1180.28" y="284.30" font-size="24.5" letter-spacing="-2.669" fill="#000" font-family='"Liberation Sans",Arial,sans-serif' font-weight="bold" font-style="normal">288</text>
<text x="1180.28" y="557.70" font-size="24.5" letter-spacing="-2.669" fill="#000" font-family='"Liberation Sans",Arial,sans-serif' font-weight="bold" font-style="normal">288</text>
<text x="1282.70" y="284.30" font-size="24.5" letter-spacing="-2.669" fill="#000" font-family='"Liberation Sans",Arial,sans-serif' font-weight="bold" font-style="normal">290</text>
<text x="1282.70" y="557.70" font-size="24.5" letter-spacing="-2.669" fill="#000" font-family='"Liberation Sans",Arial,sans-serif' font-weight="bold" font-style="normal">290</text>
<line x1="1190.30" y1="104.20" x2="1190.30" y2="470.30" stroke="#C00000" stroke-width="4.7" stroke-dasharray="4.9 4.86"/>
<line x1="1267.60" y1="91.90" x2="1267.60" y2="466.50" stroke="#00B050" stroke-width="4.7" stroke-dasharray="4.9 4.86"/>
<text x="803.74" y="58.70" font-size="31.5" letter-spacing="-0.995" fill="#000" font-family='"Liberation Sans",Arial,sans-serif' font-weight="bold" font-style="normal" >CCPP</text>
<text x="803.02" y="334.70" font-size="30.5" letter-spacing="-0.066" fill="#000" font-family='"Liberation Sans",Arial,sans-serif' font-weight="bold" font-style="normal" >prisine K</text>
<text x="840.81" y="209.40" font-size="24.5" letter-spacing="0.709" fill="#000" font-family='"Liberation Sans",Arial,sans-serif' font-weight="bold" font-style="normal" >K-C</text>
<text x="914.28" y="134.30" font-size="25.5" letter-spacing="0.298" fill="#000" font-family='"Liberation Sans",Arial,sans-serif' font-weight="bold" font-style="normal" >C-C</text>
<text x="1080.68" y="47.30" font-size="25.5" letter-spacing="-0.103" fill="#000" font-family='"Liberation Sans",Arial,sans-serif' font-weight="bold" font-style="normal" >C-C</text>
<text font-family='"Liberation Sans",Arial,sans-serif' font-weight="bold" font-size="25.5" fill="#000"><tspan x="914.6" y="162.3">(</tspan><tspan x="923.8" y="162.3" font-style="italic" letter-spacing="-0.3">sp</tspan><tspan x="953.2" y="152.5" font-family='"Liberation Serif","Times New Roman",serif' font-weight="normal" font-size="15">2</tspan><tspan x="961.3" y="162.3">)</tspan></text>
<text font-family='"Liberation Sans",Arial,sans-serif' font-weight="bold" font-size="25.5" fill="#000"><tspan x="1083.8" y="71.2">(</tspan><tspan x="1093.2" y="71.2" font-style="italic" letter-spacing="-0.3">sp</tspan><tspan x="1121.8" y="71.2">)</tspan></text>
<text font-family='"Liberation Sans",Arial,sans-serif' font-weight="bold" font-size="24.5" fill="#000"><tspan x="1116" y="406.4" letter-spacing="0.4">C-O</tspan><tspan x="1162.2" y="397.6" font-size="17">-</tspan></text>
<text font-family='"Liberation Sans",Arial,sans-serif' font-weight="bold" font-size="25" fill="#000"><tspan x="1147.8" y="502.9" letter-spacing="0.3">-COO</tspan><tspan x="1215.2" y="493.6" font-size="17">-</tspan></text>
<text x="1234.16" y="495.10" font-size="25" letter-spacing="0.621" fill="#000" font-family='"Liberation Sans",Arial,sans-serif' font-weight="bold" font-style="normal" >-CFx</text>
<text x="926.82" y="589.00" font-size="29" letter-spacing="-2.291" fill="#000" font-family='"Liberation Sans",Arial,sans-serif' font-weight="bold" font-style="normal" >Binding Energy (eV)</text>
<text transform="translate(756.80,255.60) rotate(-90)" x="-1.69" y="0" font-size="26" letter-spacing="-0.519" fill="#000" font-family='"Liberation Sans",Arial,sans-serif' font-weight="bold" font-style="normal">Intensity (arb. units)</text>
<text transform="translate(756.80,530.50) rotate(-90)" x="-1.69" y="0" font-size="26" letter-spacing="-0.524" fill="#000" font-family='"Liberation Sans",Arial,sans-serif' font-weight="bold" font-style="normal">Intensity (arb. units)</text>
<text x="685.04" y="31.60" font-size="44" letter-spacing="0.000" fill="#000" font-family='"Liberation Sans",Arial,sans-serif' font-weight="bold" font-style="normal" >b</text>
</g>
<g id="panel-c">
<path d="M1490.9,505.7C1491.3,503.9 1492.5,498.5 1493.5,495.0C1494.5,491.5 1495.1,489.7 1496.8,484.7C1498.5,479.7 1501.4,470.7 1503.7,464.9C1506.0,459.1 1508.0,455.0 1510.7,449.8C1513.4,444.6 1516.7,438.5 1520.0,433.5C1523.3,428.5 1526.8,424.1 1530.5,419.6C1534.2,415.2 1538.2,410.5 1542.1,406.8C1546.0,403.1 1549.7,400.6 1553.8,397.5C1557.9,394.4 1562.7,390.8 1566.6,388.1C1570.5,385.4 1573.3,383.8 1577.0,381.5C1580.7,379.2 1583.5,376.9 1588.9,374.1C1594.3,371.4 1602.7,367.7 1609.6,365.0C1616.5,362.3 1622.6,360.0 1630.4,358.0C1638.2,356.0 1648.1,353.9 1656.3,352.8C1664.5,351.7 1671.4,351.2 1679.6,351.3C1687.8,351.4 1696.9,352.0 1705.6,353.3C1714.2,354.6 1723.3,356.6 1731.5,359.0C1739.7,361.4 1747.5,364.4 1754.8,367.6C1762.1,370.8 1768.7,374.1 1775.6,378.0C1782.5,381.9 1789.4,385.9 1796.3,390.9C1803.2,395.9 1810.5,402.0 1817.0,407.8C1823.5,413.6 1829.6,419.6 1835.2,425.9C1840.8,432.2 1846.5,439.3 1850.8,445.4C1855.1,451.4 1858.3,458.0 1861.1,462.2C1863.9,466.4 1865.0,468.2 1867.6,470.5C1870.2,472.8 1873.0,474.0 1876.7,475.7C1880.4,477.4 1884.8,479.0 1889.6,480.9C1894.3,482.8 1902.6,485.9 1905.2,486.9" fill="none" stroke="#000" stroke-width="5" stroke-linejoin="round"/>
<path d="M1490.9,505.7C1491.5,504.0 1493.1,498.6 1494.5,495.5C1495.9,492.4 1497.0,490.1 1499.1,487.0C1501.2,483.9 1503.9,479.7 1507.2,476.6C1510.5,473.5 1515.0,470.6 1518.9,468.4C1522.8,466.2 1526.2,464.6 1530.5,463.2C1534.8,461.8 1540.2,460.4 1544.5,459.7C1548.8,459.0 1552.0,458.8 1556.1,458.9C1560.2,459.0 1564.8,459.5 1568.9,460.3C1573.0,461.1 1576.6,462.2 1580.5,463.8C1584.4,465.4 1588.3,467.3 1592.2,469.6C1596.1,471.9 1600.3,474.6 1603.8,477.7C1607.3,480.8 1610.4,485.1 1613.1,488.2C1615.8,491.3 1618.2,494.3 1620.1,496.4C1622.0,498.5 1623.0,499.9 1624.7,501.0C1626.5,502.1 1628.5,502.3 1630.6,502.7C1632.6,503.1 1635.9,503.5 1637.0,503.6" fill="none" stroke="#CC0000" stroke-width="4.5" stroke-linejoin="round"/>
<path d="M1491.1,506.8C1491.3,506.4 1491.7,505.5 1492.2,504.6C1492.7,503.6 1493.3,502.2 1494.0,501.0C1494.7,499.9 1495.7,498.7 1496.6,497.7C1497.4,496.8 1498.3,496.1 1499.1,495.4C1500.0,494.8 1500.8,494.3 1501.7,493.8C1502.5,493.3 1503.3,492.9 1504.2,492.6C1505.2,492.3 1506.3,491.9 1507.3,491.8C1508.3,491.6 1509.2,491.5 1510.1,491.5C1510.9,491.4 1511.6,491.4 1512.4,491.5C1513.2,491.6 1514.1,491.8 1514.9,492.0C1515.8,492.2 1516.6,492.4 1517.5,492.8C1518.3,493.1 1519.3,493.6 1520.0,494.0C1520.8,494.5 1521.4,494.9 1522.1,495.6C1522.8,496.2 1523.5,497.0 1524.1,497.7C1524.7,498.5 1525.2,499.2 1525.7,500.0C1526.1,500.8 1526.6,501.8 1526.9,502.5C1527.3,503.3 1527.5,504.0 1527.7,504.6C1527.9,505.1 1528.1,505.5 1528.3,505.7C1528.6,506.0 1528.7,506.1 1529.0,506.1C1529.3,506.2 1529.9,506.2 1530.1,506.2" fill="none" stroke="#FF8000" stroke-width="3.2" stroke-linejoin="round" stroke-linecap="round"/>
<path d="M1491.3,506.8C1491.5,506.6 1492.0,506.4 1492.5,505.8C1492.9,505.3 1493.4,504.1 1494.0,503.3C1494.6,502.5 1495.3,501.7 1496.1,500.8C1496.8,499.9 1497.7,498.8 1498.6,498.0C1499.5,497.1 1500.6,496.3 1501.7,495.7C1502.7,495.0 1503.7,494.5 1504.7,494.1C1505.8,493.7 1506.7,493.4 1507.8,493.2C1508.9,493.0 1510.2,492.8 1511.1,492.8C1512.0,492.7 1512.6,492.8 1513.4,493.0C1514.2,493.1 1514.9,493.2 1515.7,493.4C1516.5,493.7 1517.4,494.0 1518.3,494.4C1519.1,494.9 1520.0,495.4 1520.8,496.1C1521.6,496.7 1522.4,497.4 1523.1,498.2C1523.8,499.1 1524.6,500.1 1525.1,501.0C1525.7,502.0 1526.3,503.1 1526.7,503.8C1527.1,504.5 1527.4,505.0 1527.7,505.3C1528.1,505.7 1528.3,505.9 1528.7,506.1C1529.1,506.2 1529.9,506.2 1530.1,506.2" fill="none" stroke="#008000" stroke-width="3.2" stroke-linejoin="round" stroke-linecap="round"/>
<path d="M1491.3,506.8C1491.6,506.6 1492.2,506.0 1492.7,505.3C1493.3,504.7 1493.9,503.8 1494.5,503.1C1495.2,502.3 1495.8,501.7 1496.6,501.0C1497.3,500.4 1498.3,499.7 1499.1,499.2C1500.0,498.8 1500.7,498.5 1501.7,498.3C1502.6,498.1 1503.9,498.0 1504.7,497.9C1505.6,497.9 1506.1,498.0 1506.8,498.1C1507.4,498.2 1508.1,498.4 1508.8,498.7C1509.5,499.0 1510.2,499.4 1510.9,499.9C1511.5,500.3 1512.1,500.9 1512.7,501.4C1513.2,501.9 1513.6,502.5 1513.9,503.1C1514.3,503.6 1514.5,504.1 1514.7,504.6C1514.9,505.0 1515.0,505.5 1515.2,505.7C1515.4,506.0 1515.4,506.1 1515.7,506.2C1516.0,506.2 1516.8,506.1 1517.0,506.1" fill="none" stroke="#0000FF" stroke-width="3.6" stroke-linejoin="round" stroke-linecap="round"/>
<path d="M1491.5,506.8C1491.6,506.7 1492.2,506.7 1492.5,506.4C1492.8,506.0 1492.9,505.5 1493.2,504.8C1493.6,504.2 1494.0,503.3 1494.5,502.5C1495.1,501.8 1495.8,500.9 1496.6,500.4C1497.3,499.8 1498.3,499.4 1499.1,499.2C1500.0,498.9 1500.8,498.8 1501.7,498.9C1502.5,498.9 1503.5,499.1 1504.2,499.3C1505.0,499.5 1505.6,499.9 1506.3,500.3C1506.9,500.7 1507.5,501.2 1508.1,501.7C1508.6,502.1 1509.0,502.7 1509.3,503.2C1509.7,503.7 1509.9,504.2 1510.1,504.6C1510.3,504.9 1510.4,505.2 1510.6,505.5C1510.8,505.7 1511.0,505.8 1511.1,505.9" fill="none" stroke="#00DD00" stroke-width="3.8" stroke-linejoin="round" stroke-linecap="round"/>
<rect x="1477.9" y="479" width="68.8" height="38.8" fill="none" stroke="#000" stroke-width="3.7" stroke-dasharray="3.7 4.15"/>
<path d="M1691.3,308.2C1692.6,305.7 1695.7,299.7 1698.9,293.3C1702.2,286.9 1706.0,277.3 1710.8,269.7C1715.6,262.1 1722.1,253.9 1727.7,247.7C1733.3,241.5 1739.0,236.8 1744.6,232.4C1750.2,228.0 1755.9,224.6 1761.5,221.4C1767.1,218.2 1772.2,215.8 1778.4,213.5C1784.6,211.2 1792.2,209.2 1798.7,207.9C1805.2,206.6 1811.7,206.2 1817.3,205.9C1822.9,205.7 1827.2,205.8 1832.6,206.4C1838.0,207.0 1843.9,208.2 1849.5,209.6C1855.1,211.0 1860.8,212.4 1866.4,214.7C1872.0,216.9 1878.2,220.0 1883.3,223.1C1888.4,226.2 1892.3,229.2 1896.8,233.3C1901.3,237.4 1906.5,242.8 1910.4,247.7C1914.4,252.6 1917.4,257.5 1920.5,262.9C1923.6,268.2 1926.7,274.7 1929.0,279.8C1931.3,284.9 1932.5,289.8 1934.1,293.3C1935.6,296.8 1936.9,299.2 1938.3,301.0C1939.7,302.8 1940.5,303.3 1942.5,303.8C1944.5,304.3 1948.8,304.0 1950.1,304.0" fill="none" stroke="#FF8000" stroke-width="2.5" stroke-linejoin="round" stroke-linecap="round"/>
<path d="M1693.0,308.2C1694.3,307.1 1697.6,305.7 1700.6,301.8C1703.6,297.9 1706.8,290.5 1710.8,284.9C1714.8,279.3 1719.2,273.9 1724.3,268.0C1729.4,262.1 1735.0,255.1 1741.2,249.4C1747.4,243.8 1754.7,238.4 1761.5,234.1C1768.3,229.8 1775.0,226.3 1781.8,223.6C1788.6,220.8 1795.0,219.1 1802.1,217.6C1809.1,216.1 1817.9,215.1 1824.1,214.8C1830.3,214.5 1834.2,215.2 1839.3,215.9C1844.4,216.6 1849.2,217.6 1854.6,219.2C1860.0,220.8 1865.9,222.8 1871.5,225.7C1877.1,228.6 1883.1,232.5 1888.4,236.7C1893.8,240.9 1898.8,245.6 1903.6,251.1C1908.4,256.6 1913.1,263.5 1917.1,269.7C1921.0,275.9 1924.5,283.5 1927.3,288.3C1930.1,293.1 1931.8,295.9 1934.1,298.4C1936.3,300.9 1938.1,302.3 1940.8,303.2C1943.5,304.1 1948.5,303.9 1950.1,304.0" fill="none" stroke="#006400" stroke-width="2.5" stroke-linejoin="round" stroke-linecap="round"/>
<path d="M1693.0,308.2C1694.5,306.6 1698.8,302.6 1702.3,298.4C1705.8,294.2 1709.9,288.0 1714.1,283.2C1718.3,278.4 1722.6,273.9 1727.7,269.7C1732.8,265.5 1739.0,260.9 1744.6,257.8C1750.2,254.8 1755.3,252.9 1761.5,251.4C1767.7,249.9 1776.2,249.2 1781.8,249.0C1787.4,248.8 1790.8,249.3 1795.3,250.2C1799.8,251.1 1804.4,252.4 1808.9,254.4C1813.4,256.4 1818.2,259.1 1822.4,262.1C1826.6,265.1 1830.9,268.7 1834.3,272.2C1837.7,275.7 1840.5,279.7 1842.7,283.2C1845.0,286.7 1846.4,290.3 1847.8,293.3C1849.2,296.3 1850.1,299.2 1851.2,301.0C1852.3,302.8 1852.6,303.5 1854.6,304.0C1856.6,304.5 1861.6,303.8 1863.0,303.8" fill="none" stroke="#0000FF" stroke-width="2.5" stroke-linejoin="round" stroke-linecap="round"/>
<path d="M1693.8,308.2C1694.9,307.7 1698.6,307.4 1700.6,305.2C1702.6,303.0 1703.5,299.2 1705.7,295.0C1708.0,290.8 1710.4,284.7 1714.1,279.8C1717.8,274.9 1722.6,269.1 1727.7,265.4C1732.8,261.7 1739.0,259.2 1744.6,257.5C1750.2,255.8 1755.9,255.2 1761.5,255.3C1767.1,255.4 1773.3,256.6 1778.4,258.2C1783.5,259.8 1787.8,262.0 1792.0,264.6C1796.2,267.2 1800.4,270.7 1803.8,273.9C1807.2,277.1 1810.0,280.8 1812.3,284.0C1814.5,287.2 1815.9,290.8 1817.3,293.3C1818.7,295.9 1819.6,297.8 1820.7,299.3C1821.8,300.8 1823.5,301.6 1824.1,302.1" fill="none" stroke="#00FF00" stroke-width="2.5" stroke-linejoin="round" stroke-linecap="round"/>
<rect x="1465.90" y="15.90" width="515.50" height="516.50" fill="none" stroke="#000" stroke-width="3"/>
<line x1="1491.00" y1="532.40" x2="1491.00" y2="539.80" stroke="#000" stroke-width="2.8" />
<line x1="1594.06" y1="532.40" x2="1594.06" y2="539.80" stroke="#000" stroke-width="2.8" />
<line x1="1697.12" y1="532.40" x2="1697.12" y2="539.80" stroke="#000" stroke-width="2.8" />
<line x1="1800.18" y1="532.40" x2="1800.18" y2="539.80" stroke="#000" stroke-width="2.8" />
<line x1="1903.24" y1="532.40" x2="1903.24" y2="539.80" stroke="#000" stroke-width="2.8" />
<line x1="1542.53" y1="532.40" x2="1542.53" y2="536.60" stroke="#000" stroke-width="2.4" />
<line x1="1645.59" y1="532.40" x2="1645.59" y2="536.60" stroke="#000" stroke-width="2.4" />
<line x1="1748.65" y1="532.40" x2="1748.65" y2="536.60" stroke="#000" stroke-width="2.4" />
<line x1="1851.71" y1="532.40" x2="1851.71" y2="536.60" stroke="#000" stroke-width="2.4" />
<line x1="1954.77" y1="532.40" x2="1954.77" y2="536.60" stroke="#000" stroke-width="2.4" />
<line x1="1465.90" y1="506.80" x2="1458.50" y2="506.80" stroke="#000" stroke-width="2.8" />
<line x1="1465.90" y1="403.30" x2="1458.50" y2="403.30" stroke="#000" stroke-width="2.8" />
<line x1="1465.90" y1="299.80" x2="1458.50" y2="299.80" stroke="#000" stroke-width="2.8" />
<line x1="1465.90" y1="196.30" x2="1458.50" y2="196.30" stroke="#000" stroke-width="2.8" />
<line x1="1465.90" y1="92.80" x2="1458.50" y2="92.80" stroke="#000" stroke-width="2.8" />
<line x1="1465.90" y1="455.05" x2="1461.80" y2="455.05" stroke="#000" stroke-width="2.4" />
<line x1="1465.90" y1="351.55" x2="1461.80" y2="351.55" stroke="#000" stroke-width="2.4" />
<line x1="1465.90" y1="248.05" x2="1461.80" y2="248.05" stroke="#000" stroke-width="2.4" />
<line x1="1465.90" y1="144.55" x2="1461.80" y2="144.55" stroke="#000" stroke-width="2.4" />
<line x1="1465.90" y1="41.05" x2="1461.80" y2="41.05" stroke="#000" stroke-width="2.4" />
<line x1="1673.90" y1="15.90" x2="1673.90" y2="327.10" stroke="#000" stroke-width="3" />
<line x1="1672.40" y1="325.60" x2="1981.40" y2="325.60" stroke="#000" stroke-width="3" />
<line x1="1673.90" y1="308.20" x2="1668.90" y2="308.20" stroke="#000" stroke-width="2.4" />
<line x1="1690.80" y1="325.60" x2="1690.80" y2="330.40" stroke="#000" stroke-width="2.4" />
<line x1="1673.90" y1="273.70" x2="1668.90" y2="273.70" stroke="#000" stroke-width="2.4" />
<line x1="1724.95" y1="325.60" x2="1724.95" y2="330.40" stroke="#000" stroke-width="2.4" />
<line x1="1673.90" y1="239.20" x2="1668.90" y2="239.20" stroke="#000" stroke-width="2.4" />
<line x1="1759.10" y1="325.60" x2="1759.10" y2="330.40" stroke="#000" stroke-width="2.4" />
<line x1="1673.90" y1="204.70" x2="1668.90" y2="204.70" stroke="#000" stroke-width="2.4" />
<line x1="1793.25" y1="325.60" x2="1793.25" y2="330.40" stroke="#000" stroke-width="2.4" />
<line x1="1673.90" y1="170.20" x2="1668.90" y2="170.20" stroke="#000" stroke-width="2.4" />
<line x1="1827.40" y1="325.60" x2="1827.40" y2="330.40" stroke="#000" stroke-width="2.4" />
<line x1="1673.90" y1="135.70" x2="1668.90" y2="135.70" stroke="#000" stroke-width="2.4" />
<line x1="1861.55" y1="325.60" x2="1861.55" y2="330.40" stroke="#000" stroke-width="2.4" />
<line x1="1673.90" y1="101.20" x2="1668.90" y2="101.20" stroke="#000" stroke-width="2.4" />
<line x1="1895.70" y1="325.60" x2="1895.70" y2="330.40" stroke="#000" stroke-width="2.4" />
<line x1="1673.90" y1="66.70" x2="1668.90" y2="66.70" stroke="#000" stroke-width="2.4" />
<line x1="1929.85" y1="325.60" x2="1929.85" y2="330.40" stroke="#000" stroke-width="2.4" />
<line x1="1673.90" y1="32.20" x2="1668.90" y2="32.20" stroke="#000" stroke-width="2.4" />
<line x1="1964.00" y1="325.60" x2="1964.00" y2="330.40" stroke="#000" stroke-width="2.4" />
<line x1="1673.90" y1="290.95" x2="1671.00" y2="290.95" stroke="#000" stroke-width="1.8" />
<line x1="1707.88" y1="325.60" x2="1707.88" y2="328.30" stroke="#000" stroke-width="1.8" />
<line x1="1673.90" y1="256.45" x2="1671.00" y2="256.45" stroke="#000" stroke-width="1.8" />
<line x1="1742.02" y1="325.60" x2="1742.02" y2="328.30" stroke="#000" stroke-width="1.8" />
<line x1="1673.90" y1="221.95" x2="1671.00" y2="221.95" stroke="#000" stroke-width="1.8" />
<line x1="1776.17" y1="325.60" x2="1776.17" y2="328.30" stroke="#000" stroke-width="1.8" />
<line x1="1673.90" y1="187.45" x2="1671.00" y2="187.45" stroke="#000" stroke-width="1.8" />
<line x1="1810.33" y1="325.60" x2="1810.33" y2="328.30" stroke="#000" stroke-width="1.8" />
<line x1="1673.90" y1="152.95" x2="1671.00" y2="152.95" stroke="#000" stroke-width="1.8" />
<line x1="1844.47" y1="325.60" x2="1844.47" y2="328.30" stroke="#000" stroke-width="1.8" />
<line x1="1673.90" y1="118.45" x2="1671.00" y2="118.45" stroke="#000" stroke-width="1.8" />
<line x1="1878.62" y1="325.60" x2="1878.62" y2="328.30" stroke="#000" stroke-width="1.8" />
<line x1="1673.90" y1="83.95" x2="1671.00" y2="83.95" stroke="#000" stroke-width="1.8" />
<line x1="1912.78" y1="325.60" x2="1912.78" y2="328.30" stroke="#000" stroke-width="1.8" />
<line x1="1673.90" y1="49.45" x2="1671.00" y2="49.45" stroke="#000" stroke-width="1.8" />
<line x1="1946.92" y1="325.60" x2="1946.92" y2="328.30" stroke="#000" stroke-width="1.8" />
<text x="1657.62" y="314.00" font-size="16.2" letter-spacing="0.090" fill="#000" font-family='"Liberation Sans",Arial,sans-serif' font-weight="bold" font-style="normal">0</text>
<text x="1686.30" y="345.00" font-size="16.2" letter-spacing="0.090" fill="#000" font-family='"Liberation Sans",Arial,sans-serif' font-weight="bold" font-style="normal">0</text>
<text x="1639.41" y="279.50" font-size="16.2" letter-spacing="0.090" fill="#000" font-family='"Liberation Sans",Arial,sans-serif' font-weight="bold" font-style="normal">100</text>
<text x="1711.15" y="345.00" font-size="16.2" letter-spacing="0.090" fill="#000" font-family='"Liberation Sans",Arial,sans-serif' font-weight="bold" font-style="normal">100</text>
<text x="1639.41" y="245.00" font-size="16.2" letter-spacing="0.090" fill="#000" font-family='"Liberation Sans",Arial,sans-serif' font-weight="bold" font-style="normal">200</text>
<text x="1745.54" y="345.00" font-size="16.2" letter-spacing="0.090" fill="#000" font-family='"Liberation Sans",Arial,sans-serif' font-weight="bold" font-style="normal">200</text>
<text x="1639.41" y="210.50" font-size="16.2" letter-spacing="0.090" fill="#000" font-family='"Liberation Sans",Arial,sans-serif' font-weight="bold" font-style="normal">300</text>
<text x="1779.77" y="345.00" font-size="16.2" letter-spacing="0.090" fill="#000" font-family='"Liberation Sans",Arial,sans-serif' font-weight="bold" font-style="normal">300</text>
<text x="1639.41" y="176.00" font-size="16.2" letter-spacing="0.090" fill="#000" font-family='"Liberation Sans",Arial,sans-serif' font-weight="bold" font-style="normal">400</text>
<text x="1813.99" y="345.00" font-size="16.2" letter-spacing="0.090" fill="#000" font-family='"Liberation Sans",Arial,sans-serif' font-weight="bold" font-style="normal">400</text>
<text x="1639.41" y="141.50" font-size="16.2" letter-spacing="0.090" fill="#000" font-family='"Liberation Sans",Arial,sans-serif' font-weight="bold" font-style="normal">500</text>
<text x="1848.01" y="345.00" font-size="16.2" letter-spacing="0.090" fill="#000" font-family='"Liberation Sans",Arial,sans-serif' font-weight="bold" font-style="normal">500</text>
<text x="1639.41" y="107.00" font-size="16.2" letter-spacing="0.090" fill="#000" font-family='"Liberation Sans",Arial,sans-serif' font-weight="bold" font-style="normal">600</text>
<text x="1882.12" y="345.00" font-size="16.2" letter-spacing="0.090" fill="#000" font-family='"Liberation Sans",Arial,sans-serif' font-weight="bold" font-style="normal">600</text>
<text x="1639.41" y="72.50" font-size="16.2" letter-spacing="0.090" fill="#000" font-family='"Liberation Sans",Arial,sans-serif' font-weight="bold" font-style="normal">700</text>
<text x="1916.21" y="345.00" font-size="16.2" letter-spacing="0.090" fill="#000" font-family='"Liberation Sans",Arial,sans-serif' font-weight="bold" font-style="normal">700</text>
<text x="1639.41" y="38.00" font-size="16.2" letter-spacing="0.090" fill="#000" font-family='"Liberation Sans",Arial,sans-serif' font-weight="bold" font-style="normal">800</text>
<text x="1950.46" y="345.00" font-size="16.2" letter-spacing="0.090" fill="#000" font-family='"Liberation Sans",Arial,sans-serif' font-weight="bold" font-style="normal">800</text>
<text x="1749.85" y="111.70" font-size="26" letter-spacing="0.820" fill="#000" font-family='"Liberation Sans",Arial,sans-serif' font-weight="bold" font-style="normal" >After cycling</text>
<text x="1440.40" y="514.80" font-size="23" letter-spacing="0.212" fill="#000" font-family='"Liberation Sans",Arial,sans-serif' font-weight="bold" font-style="normal">0</text>
<text x="1485.02" y="562.80" font-size="23" letter-spacing="0.212" fill="#000" font-family='"Liberation Sans",Arial,sans-serif' font-weight="bold" font-style="normal">0</text>
<text x="1401.41" y="411.30" font-size="23" letter-spacing="0.212" fill="#000" font-family='"Liberation Sans",Arial,sans-serif' font-weight="bold" font-style="normal">2000</text>
<text x="1568.64" y="562.80" font-size="23" letter-spacing="0.212" fill="#000" font-family='"Liberation Sans",Arial,sans-serif' font-weight="bold" font-style="normal">2000</text>
<text x="1401.41" y="307.80" font-size="23" letter-spacing="0.212" fill="#000" font-family='"Liberation Sans",Arial,sans-serif' font-weight="bold" font-style="normal">4000</text>
<text x="1671.90" y="562.80" font-size="23" letter-spacing="0.212" fill="#000" font-family='"Liberation Sans",Arial,sans-serif' font-weight="bold" font-style="normal">4000</text>
<text x="1401.41" y="204.30" font-size="23" letter-spacing="0.212" fill="#000" font-family='"Liberation Sans",Arial,sans-serif' font-weight="bold" font-style="normal">6000</text>
<text x="1774.73" y="562.80" font-size="23" letter-spacing="0.212" fill="#000" font-family='"Liberation Sans",Arial,sans-serif' font-weight="bold" font-style="normal">6000</text>
<text x="1401.41" y="100.80" font-size="23" letter-spacing="0.212" fill="#000" font-family='"Liberation Sans",Arial,sans-serif' font-weight="bold" font-style="normal">8000</text>
<text x="1877.85" y="562.80" font-size="23" letter-spacing="0.212" fill="#000" font-family='"Liberation Sans",Arial,sans-serif' font-weight="bold" font-style="normal">8000</text>
<text transform="translate(1392.80,332.80) rotate(-90)" x="-1.14" y="0" font-size="30.5" letter-spacing="-0.322" fill="#000" font-family='"Liberation Sans",Arial,sans-serif' font-weight="bold" font-style="normal">-Z'' (ohm)</text>
<text x="1664.27" y="597.00" font-size="30" letter-spacing="0.011" fill="#000" font-family='"Liberation Sans",Arial,sans-serif' font-weight="bold" font-style="normal" >Z' (ohm)</text>
<text x="1385.55" y="31.00" font-size="44" letter-spacing="0.000" fill="#000" font-family='"Liberation Sans",Arial,sans-serif' font-weight="bold" font-style="normal" >c</text>
<text x="1497.45" y="131.40" font-size="20" letter-spacing="-0.009" fill="#000" font-family='"Liberation Serif","Times New Roman",serif' font-weight="bold" font-style="normal" >pristine K-0</text>
<text x="1497.45" y="156.60" font-size="20" letter-spacing="-0.000" fill="#FF8000" font-family='"Liberation Serif","Times New Roman",serif' font-weight="bold" font-style="normal" >pristine K-10</text>
<text x="1496.75" y="181.80" font-size="20" letter-spacing="0.200" fill="#800000" font-family='"Liberation Serif","Times New Roman",serif' font-weight="bold" font-style="normal" >CCPP-0</text>
<text x="1496.75" y="207.00" font-size="20" letter-spacing="0.083" fill="#008000" font-family='"Liberation Serif","Times New Roman",serif' font-weight="bold" font-style="normal" >CCPP-10</text>
<text x="1496.75" y="232.20" font-size="20" letter-spacing="0.083" fill="#0000FF" font-family='"Liberation Serif","Times New Roman",serif' font-weight="bold" font-style="normal" >CCPP-50</text>
<text x="1496.75" y="257.40" font-size="20" letter-spacing="0.086" fill="#00FF00" font-family='"Liberation Serif","Times New Roman",serif' font-weight="bold" font-style="normal" >CCPP-500</text>
</g>
<g id="panel-d">
<path d="M178.5,770.3L357.2,856.4L525,778.5" fill="none" stroke="#FF0000" stroke-width="3.7" stroke-dasharray="3.5 3.1" stroke-linejoin="miter"/>
<path d="M232,906L355.7,968L458,920" fill="none" stroke="#000" stroke-width="3.7" stroke-dasharray="3.5 3.1"/>
<path d="M245.5,914.4L247.8,916.8M280.0,938.6L280.5,939.0M288.5,945.0L289.3,945.7M296.9,952.2L298.2,953.3M305.4,960.3L307.0,962.0M313.5,969.6L316.1,972.9M321.8,981.1L325.1,986.5M329.7,995.3L334.0,1006.4M337.1,1015.8L343.4,1040.8M345.1,1050.6L353.2,1140.1M354.1,1140.1L361.5,1040.9M363.2,1031.1L368.9,1010.8M372.4,1001.5L376.7,992.8M381.7,984.1L384.7,979.6M390.7,971.5L393.0,968.7M399.7,961.3L400.8,960.2M408.1,953.5L409.2,952.5M417.1,946.4L417.5,946.0M425.5,940.0L426.3,939.5" fill="none" stroke="#000" stroke-width="1.1" />
<path d="M107.4,751.1L110.7,744.9M288.5,831.9L289.6,832.9M297.1,840.1L298.3,841.4M305.4,849.0L307.3,851.1M313.6,859.3L316.1,862.9M321.6,871.7L325.2,877.6M329.7,886.9L334.0,897.5M337.3,907.3L343.7,931.4M345.5,941.6L353.0,1048.3M353.7,1048.3L361.3,933.7M363.0,923.5L368.8,903.1M372.3,893.3L376.6,883.8M381.8,874.8L384.2,871.4M390.6,863.2L392.6,860.8M399.6,853.2L400.8,852.0M408.5,845.1L409.1,844.7" fill="none" stroke="#FF0000" stroke-width="1.1" />
<circle cx="105.0" cy="858.4" r="3.9" fill="url(#gk)"/>
<circle cx="113.6" cy="861.2" r="3.9" fill="url(#gk)"/>
<circle cx="122.1" cy="863.6" r="3.9" fill="url(#gk)"/>
<circle cx="130.7" cy="866.2" r="3.9" fill="url(#gk)"/>
<circle cx="139.3" cy="868.9" r="3.9" fill="url(#gk)"/>
<circle cx="147.8" cy="871.7" r="3.9" fill="url(#gk)"/>
<circle cx="156.4" cy="874.6" r="3.9" fill="url(#gk)"/>
<circle cx="165.0" cy="877.6" r="3.9" fill="url(#gk)"/>
<circle cx="173.5" cy="880.7" r="3.9" fill="url(#gk)"/>
<circle cx="182.1" cy="884.0" r="3.9" fill="url(#gk)"/>
<circle cx="190.7" cy="887.3" r="3.9" fill="url(#gk)"/>
<circle cx="199.2" cy="890.8" r="3.9" fill="url(#gk)"/>
<circle cx="207.8" cy="894.4" r="3.9" fill="url(#gk)"/>
<circle cx="216.4" cy="898.2" r="3.9" fill="url(#gk)"/>
<circle cx="224.9" cy="902.2" r="3.9" fill="url(#gk)"/>
<circle cx="233.5" cy="906.4" r="3.9" fill="url(#gk)"/>
<circle cx="242.1" cy="910.8" r="3.9" fill="url(#gk)"/>
<circle cx="251.2" cy="920.4" r="3.9" fill="url(#gk)"/>
<circle cx="259.4" cy="924.8" r="3.9" fill="url(#gk)"/>
<circle cx="267.3" cy="929.8" r="3.9" fill="url(#gk)"/>
<circle cx="275.9" cy="935.7" r="3.9" fill="url(#gk)"/>
<circle cx="284.6" cy="941.9" r="3.9" fill="url(#gk)"/>
<circle cx="293.2" cy="948.8" r="3.9" fill="url(#gk)"/>
<circle cx="301.9" cy="956.7" r="3.9" fill="url(#gk)"/>
<circle cx="310.5" cy="965.6" r="3.9" fill="url(#gk)"/>
<circle cx="319.1" cy="976.9" r="3.9" fill="url(#gk)"/>
<circle cx="327.8" cy="990.7" r="3.9" fill="url(#gk)"/>
<circle cx="335.9" cy="1011.0" r="3.9" fill="url(#gk)"/>
<circle cx="344.6" cy="1045.6" r="3.9" fill="url(#gk)"/>
<circle cx="353.7" cy="1145.1" r="3.9" fill="url(#gk)"/>
<circle cx="361.9" cy="1035.9" r="3.9" fill="url(#gk)"/>
<circle cx="370.2" cy="1006.0" r="3.9" fill="url(#gk)"/>
<circle cx="378.9" cy="988.3" r="3.9" fill="url(#gk)"/>
<circle cx="387.5" cy="975.4" r="3.9" fill="url(#gk)"/>
<circle cx="396.2" cy="964.8" r="3.9" fill="url(#gk)"/>
<circle cx="404.3" cy="956.7" r="3.9" fill="url(#gk)"/>
<circle cx="413.0" cy="949.3" r="3.9" fill="url(#gk)"/>
<circle cx="421.6" cy="943.1" r="3.9" fill="url(#gk)"/>
<circle cx="430.2" cy="936.4" r="3.9" fill="url(#gk)"/>
<circle cx="438.9" cy="931.0" r="3.9" fill="url(#gk)"/>
<circle cx="447.5" cy="926.5" r="3.9" fill="url(#gk)"/>
<circle cx="456.2" cy="922.1" r="3.9" fill="url(#gk)"/>
<circle cx="464.8" cy="917.2" r="3.9" fill="url(#gk)"/>
<circle cx="473.0" cy="913.5" r="3.9" fill="url(#gk)"/>
<circle cx="481.6" cy="909.3" r="3.9" fill="url(#gk)"/>
<circle cx="489.5" cy="905.6" r="3.9" fill="url(#gk)"/>
<circle cx="498.7" cy="901.4" r="3.9" fill="url(#gk)"/>
<circle cx="507.3" cy="897.9" r="3.9" fill="url(#gk)"/>
<circle cx="515.9" cy="894.1" r="3.9" fill="url(#gk)"/>
<circle cx="524.7" cy="890.4" r="3.9" fill="url(#gk)"/>
<circle cx="533.1" cy="886.9" r="3.9" fill="url(#gk)"/>
<circle cx="541.7" cy="883.9" r="3.9" fill="url(#gk)"/>
<circle cx="550.2" cy="880.4" r="3.9" fill="url(#gk)"/>
<circle cx="558.8" cy="877.1" r="3.9" fill="url(#gk)"/>
<circle cx="567.4" cy="873.6" r="3.9" fill="url(#gk)"/>
<circle cx="576.0" cy="870.2" r="3.9" fill="url(#gk)"/>
<circle cx="584.6" cy="867.2" r="3.9" fill="url(#gk)"/>
<circle cx="593.2" cy="864.1" r="3.9" fill="url(#gk)"/>
<circle cx="601.8" cy="860.8" r="3.9" fill="url(#gk)"/>
<circle cx="610.4" cy="857.6" r="3.9" fill="url(#gk)"/>
<circle cx="619.0" cy="854.1" r="3.9" fill="url(#gk)"/>
<circle cx="104.9" cy="755.7" r="4.05" fill="url(#gr)"/>
<circle cx="113.2" cy="740.3" r="4.05" fill="url(#gr)"/>
<circle cx="122.0" cy="745.7" r="4.05" fill="url(#gr)"/>
<circle cx="130.1" cy="750.1" r="4.05" fill="url(#gr)"/>
<circle cx="139.1" cy="753.9" r="4.05" fill="url(#gr)"/>
<circle cx="147.4" cy="757.0" r="4.05" fill="url(#gr)"/>
<circle cx="156.0" cy="760.2" r="4.05" fill="url(#gr)"/>
<circle cx="164.5" cy="763.1" r="4.05" fill="url(#gr)"/>
<circle cx="172.9" cy="766.0" r="4.05" fill="url(#gr)"/>
<circle cx="181.4" cy="769.2" r="4.05" fill="url(#gr)"/>
<circle cx="190.3" cy="772.8" r="4.05" fill="url(#gr)"/>
<circle cx="198.9" cy="776.5" r="4.05" fill="url(#gr)"/>
<circle cx="207.6" cy="780.6" r="4.05" fill="url(#gr)"/>
<circle cx="216.3" cy="785.0" r="4.05" fill="url(#gr)"/>
<circle cx="224.6" cy="789.3" r="4.05" fill="url(#gr)"/>
<circle cx="233.3" cy="793.7" r="4.05" fill="url(#gr)"/>
<circle cx="241.9" cy="798.9" r="4.05" fill="url(#gr)"/>
<circle cx="250.3" cy="804.1" r="4.05" fill="url(#gr)"/>
<circle cx="258.9" cy="809.7" r="4.05" fill="url(#gr)"/>
<circle cx="267.4" cy="815.8" r="4.05" fill="url(#gr)"/>
<circle cx="276.1" cy="821.8" r="4.05" fill="url(#gr)"/>
<circle cx="284.7" cy="828.4" r="4.05" fill="url(#gr)"/>
<circle cx="293.4" cy="836.4" r="4.05" fill="url(#gr)"/>
<circle cx="302.0" cy="845.1" r="4.05" fill="url(#gr)"/>
<circle cx="310.7" cy="855.0" r="4.05" fill="url(#gr)"/>
<circle cx="319.0" cy="867.2" r="4.05" fill="url(#gr)"/>
<circle cx="327.8" cy="882.1" r="4.05" fill="url(#gr)"/>
<circle cx="335.9" cy="902.3" r="4.05" fill="url(#gr)"/>
<circle cx="345.1" cy="936.4" r="4.05" fill="url(#gr)"/>
<circle cx="353.4" cy="1053.5" r="4.05" fill="url(#gr)"/>
<circle cx="361.6" cy="928.5" r="4.05" fill="url(#gr)"/>
<circle cx="370.2" cy="898.1" r="4.05" fill="url(#gr)"/>
<circle cx="378.7" cy="879.0" r="4.05" fill="url(#gr)"/>
<circle cx="387.3" cy="867.2" r="4.05" fill="url(#gr)"/>
<circle cx="395.9" cy="856.8" r="4.05" fill="url(#gr)"/>
<circle cx="404.5" cy="848.4" r="4.05" fill="url(#gr)"/>
<circle cx="413.1" cy="841.4" r="4.05" fill="url(#gr)"/>
<circle cx="421.8" cy="834.9" r="4.05" fill="url(#gr)"/>
<circle cx="430.3" cy="828.9" r="4.05" fill="url(#gr)"/>
<circle cx="439.0" cy="823.3" r="4.05" fill="url(#gr)"/>
<circle cx="447.6" cy="818.4" r="4.05" fill="url(#gr)"/>
<circle cx="455.9" cy="812.7" r="4.05" fill="url(#gr)"/>
<circle cx="464.5" cy="807.1" r="4.05" fill="url(#gr)"/>
<circle cx="472.9" cy="801.5" r="4.05" fill="url(#gr)"/>
<circle cx="481.5" cy="795.7" r="4.05" fill="url(#gr)"/>
<circle cx="490.1" cy="790.5" r="4.05" fill="url(#gr)"/>
<circle cx="498.7" cy="786.1" r="4.05" fill="url(#gr)"/>
<circle cx="507.3" cy="782.4" r="4.05" fill="url(#gr)"/>
<circle cx="515.9" cy="780.5" r="4.05" fill="url(#gr)"/>
<circle cx="524.7" cy="778.7" r="4.05" fill="url(#gr)"/>
<circle cx="533.1" cy="777.0" r="4.05" fill="url(#gr)"/>
<circle cx="541.7" cy="775.4" r="4.05" fill="url(#gr)"/>
<circle cx="550.2" cy="773.8" r="4.05" fill="url(#gr)"/>
<circle cx="558.8" cy="772.2" r="4.05" fill="url(#gr)"/>
<circle cx="567.4" cy="770.3" r="4.05" fill="url(#gr)"/>
<circle cx="576.0" cy="768.2" r="4.05" fill="url(#gr)"/>
<circle cx="584.6" cy="765.9" r="4.05" fill="url(#gr)"/>
<circle cx="593.2" cy="763.0" r="4.05" fill="url(#gr)"/>
<circle cx="601.8" cy="759.8" r="4.05" fill="url(#gr)"/>
<circle cx="610.4" cy="756.3" r="4.05" fill="url(#gr)"/>
<circle cx="619.0" cy="752.4" r="4.05" fill="url(#gr)"/>
<rect x="105.00" y="665.70" width="514.10" height="510.60" fill="none" stroke="#000" stroke-width="4.2"/>
<line x1="105.00" y1="1176.30" x2="105.00" y2="1182.70" stroke="#000" stroke-width="3.6" />
<line x1="190.68" y1="1176.30" x2="190.68" y2="1182.70" stroke="#000" stroke-width="3.6" />
<line x1="276.36" y1="1176.30" x2="276.36" y2="1182.70" stroke="#000" stroke-width="3.6" />
<line x1="362.04" y1="1176.30" x2="362.04" y2="1182.70" stroke="#000" stroke-width="3.6" />
<line x1="447.72" y1="1176.30" x2="447.72" y2="1182.70" stroke="#000" stroke-width="3.6" />
<line x1="533.40" y1="1176.30" x2="533.40" y2="1182.70" stroke="#000" stroke-width="3.6" />
<line x1="619.08" y1="1176.30" x2="619.08" y2="1182.70" stroke="#000" stroke-width="3.6" />
<line x1="147.84" y1="1176.30" x2="147.84" y2="1179.80" stroke="#000" stroke-width="3.0" />
<line x1="233.52" y1="1176.30" x2="233.52" y2="1179.80" stroke="#000" stroke-width="3.0" />
<line x1="319.20" y1="1176.30" x2="319.20" y2="1179.80" stroke="#000" stroke-width="3.0" />
<line x1="404.88" y1="1176.30" x2="404.88" y2="1179.80" stroke="#000" stroke-width="3.0" />
<line x1="490.56" y1="1176.30" x2="490.56" y2="1179.80" stroke="#000" stroke-width="3.0" />
<line x1="576.24" y1="1176.30" x2="576.24" y2="1179.80" stroke="#000" stroke-width="3.0" />
<line x1="105.00" y1="665.70" x2="98.70" y2="665.70" stroke="#000" stroke-width="3.6" />
<line x1="105.00" y1="718.84" x2="98.70" y2="718.84" stroke="#000" stroke-width="3.6" />
<line x1="105.00" y1="771.97" x2="98.70" y2="771.97" stroke="#000" stroke-width="3.6" />
<line x1="105.00" y1="825.11" x2="98.70" y2="825.11" stroke="#000" stroke-width="3.6" />
<line x1="105.00" y1="878.24" x2="98.70" y2="878.24" stroke="#000" stroke-width="3.6" />
<line x1="105.00" y1="931.38" x2="98.70" y2="931.38" stroke="#000" stroke-width="3.6" />
<line x1="105.00" y1="984.51" x2="98.70" y2="984.51" stroke="#000" stroke-width="3.6" />
<line x1="105.00" y1="1037.64" x2="98.70" y2="1037.64" stroke="#000" stroke-width="3.6" />
<line x1="105.00" y1="1090.78" x2="98.70" y2="1090.78" stroke="#000" stroke-width="3.6" />
<line x1="105.00" y1="1143.91" x2="98.70" y2="1143.91" stroke="#000" stroke-width="3.6" />
<line x1="105.00" y1="692.27" x2="101.20" y2="692.27" stroke="#000" stroke-width="2.6" />
<line x1="105.00" y1="745.40" x2="101.20" y2="745.40" stroke="#000" stroke-width="2.6" />
<line x1="105.00" y1="798.54" x2="101.20" y2="798.54" stroke="#000" stroke-width="2.6" />
<line x1="105.00" y1="851.67" x2="101.20" y2="851.67" stroke="#000" stroke-width="2.6" />
<line x1="105.00" y1="904.81" x2="101.20" y2="904.81" stroke="#000" stroke-width="2.6" />
<line x1="105.00" y1="957.94" x2="101.20" y2="957.94" stroke="#000" stroke-width="2.6" />
<line x1="105.00" y1="1011.08" x2="101.20" y2="1011.08" stroke="#000" stroke-width="2.6" />
<line x1="105.00" y1="1064.21" x2="101.20" y2="1064.21" stroke="#000" stroke-width="2.6" />
<line x1="105.00" y1="1117.35" x2="101.20" y2="1117.35" stroke="#000" stroke-width="2.6" />
<line x1="105.00" y1="1170.48" x2="101.20" y2="1170.48" stroke="#000" stroke-width="2.6" />
<text x="51.55" y="673.90" font-size="28" letter-spacing="-1.377" fill="#000" font-family='"Liberation Sans",Arial,sans-serif' font-weight="bold" font-style="normal">-3.0</text>
<text x="51.20" y="727.04" font-size="28" letter-spacing="-1.377" fill="#000" font-family='"Liberation Sans",Arial,sans-serif' font-weight="bold" font-style="normal">-3.5</text>
<text x="51.55" y="780.17" font-size="28" letter-spacing="-1.377" fill="#000" font-family='"Liberation Sans",Arial,sans-serif' font-weight="bold" font-style="normal">-4.0</text>
<text x="51.20" y="833.31" font-size="28" letter-spacing="-1.377" fill="#000" font-family='"Liberation Sans",Arial,sans-serif' font-weight="bold" font-style="normal">-4.5</text>
<text x="51.55" y="886.44" font-size="28" letter-spacing="-1.377" fill="#000" font-family='"Liberation Sans",Arial,sans-serif' font-weight="bold" font-style="normal">-5.0</text>
<text x="51.20" y="939.58" font-size="28" letter-spacing="-1.377" fill="#000" font-family='"Liberation Sans",Arial,sans-serif' font-weight="bold" font-style="normal">-5.5</text>
<text x="51.55" y="992.71" font-size="28" letter-spacing="-1.377" fill="#000" font-family='"Liberation Sans",Arial,sans-serif' font-weight="bold" font-style="normal">-6.0</text>
<text x="51.20" y="1045.85" font-size="28" letter-spacing="-1.377" fill="#000" font-family='"Liberation Sans",Arial,sans-serif' font-weight="bold" font-style="normal">-6.5</text>
<text x="51.55" y="1098.98" font-size="28" letter-spacing="-1.377" fill="#000" font-family='"Liberation Sans",Arial,sans-serif' font-weight="bold" font-style="normal">-7.0</text>
<text x="51.20" y="1152.12" font-size="28" letter-spacing="-1.377" fill="#000" font-family='"Liberation Sans",Arial,sans-serif' font-weight="bold" font-style="normal">-7.5</text>
<text x="84.00" y="1206.90" font-size="28" letter-spacing="-1.323" fill="#000" font-family='"Liberation Sans",Arial,sans-serif' font-weight="bold" font-style="normal">-0.3</text>
<text x="169.75" y="1206.90" font-size="28" letter-spacing="-1.323" fill="#000" font-family='"Liberation Sans",Arial,sans-serif' font-weight="bold" font-style="normal">-0.2</text>
<text x="255.25" y="1206.90" font-size="28" letter-spacing="-1.323" fill="#000" font-family='"Liberation Sans",Arial,sans-serif' font-weight="bold" font-style="normal">-0.1</text>
<text x="344.50" y="1206.90" font-size="28" letter-spacing="-1.323" fill="#000" font-family='"Liberation Sans",Arial,sans-serif' font-weight="bold" font-style="normal">0.0</text>
<text x="430.01" y="1206.90" font-size="28" letter-spacing="-1.323" fill="#000" font-family='"Liberation Sans",Arial,sans-serif' font-weight="bold" font-style="normal">0.1</text>
<text x="515.86" y="1206.90" font-size="28" letter-spacing="-1.323" fill="#000" font-family='"Liberation Sans",Arial,sans-serif' font-weight="bold" font-style="normal">0.2</text>
<text x="601.47" y="1206.90" font-size="28" letter-spacing="-1.323" fill="#000" font-family='"Liberation Sans",Arial,sans-serif' font-weight="bold" font-style="normal">0.3</text>
<text x="241.76" y="1246.40" font-size="33.5" letter-spacing="-1.693" fill="#000" font-family='"Liberation Sans",Arial,sans-serif' font-weight="bold" font-style="normal" >Overpotential (V)</text>
<text transform="translate(41.10,1028.60) rotate(-90)" x="-2.15" y="0" font-size="33" letter-spacing="-1.224" fill="#000" font-family='"Liberation Sans",Arial,sans-serif' font-weight="bold" font-style="normal">Log (current/A)</text>
<text x="-0.56" y="675.60" font-size="44" letter-spacing="0.000" fill="#000" font-family='"Liberation Sans",Arial,sans-serif' font-weight="bold" font-style="normal" >d</text>
<text x="243.14" y="720.00" font-size="29" letter-spacing="-0.539" fill="#C00000" font-family='"Liberation Sans",Arial,sans-serif' font-weight="bold" font-style="normal" >CCPP</text>
<text fill="#C00000" font-family='"Liberation Sans",Arial,sans-serif' font-weight="bold" font-style="normal"><tspan x="168.39" y="756.80" font-size="30.5" letter-spacing="-1.553">1.418×10</tspan><tspan x="285.15" y="741.00" font-size="20" letter-spacing="-0.450">-2 </tspan><tspan x="307.92" y="756.80" font-size="30.5" letter-spacing="-0.896">mA cm</tspan><tspan x="403.05" y="741.00" font-size="20" letter-spacing="-2.050">-2</tspan></text>
<text x="414.79" y="1032.50" font-size="31" letter-spacing="-1.460" fill="#000" font-family='"Liberation Sans",Arial,sans-serif' font-weight="bold" font-style="normal" >pristine K</text>
<text fill="#000" font-family='"Liberation Sans",Arial,sans-serif' font-weight="bold" font-style="normal"><tspan x="363.89" y="1069.60" font-size="30.5" letter-spacing="-1.553">1.476×10</tspan><tspan x="480.65" y="1053.80" font-size="20" letter-spacing="-1.350">-3 </tspan><tspan x="503.42" y="1069.60" font-size="30.5" letter-spacing="-1.271">mA cm</tspan><tspan x="596.95" y="1053.80" font-size="20" letter-spacing="-1.150">-2</tspan></text>
</g>
<g id="panel-e">
<path d="M787.7,1096.1L813.3,1095.8L838.9,1096.9L864.5,1095.1L890.1,1095.8L915.7,973.3L941.3,972.6L966.9,973.3L992.5,974.0L1018.1,974.4L1043.8,973.7L1069.4,973.3L1095.0,972.6L1120.6,973.3L1146.2,974.0L1171.8,972.6L1197.4,973.7L1223.0,974.4L1248.6,974.0L1274.2,973.7L1299.8,974.0" fill="none" stroke="#000" stroke-width="5.2" stroke-linejoin="miter"/>
<path d="M787.7,1096.9L813.3,1095.8L838.9,1095.4L864.5,1096.1L890.1,1096.1L915.7,973.7L941.3,973.7L966.9,974.0L992.5,974.4L1018.1,975.1L1043.8,974.4L1069.4,975.1L1095.0,974.0L1120.6,974.4L1146.2,974.0L1171.8,974.8L1197.4,974.4L1223.0,975.1L1248.6,974.8L1274.2,974.4L1299.8,974.8" fill="none" stroke="#008000" stroke-width="5.2" stroke-linejoin="miter"/>
<path d="M787.7,1083.8L813.3,1091.0L838.9,1088.5L864.5,1113.6L890.1,1096.1L915.7,769.2L941.3,773.9L966.9,773.9L992.5,773.9L1018.1,773.9L1043.8,775.0L1069.4,775.0L1095.0,775.0L1120.6,775.0L1146.2,775.0L1171.8,775.0L1197.4,775.0L1223.0,775.0L1248.6,775.0L1274.2,775.0L1299.8,775.0" fill="none" stroke="#CC0000" stroke-width="5.2" stroke-linejoin="miter"/>
<line x1="890.22" y1="666.40" x2="890.22" y2="1177.50" stroke="#222" stroke-width="1.6" stroke-dasharray="8.1 6.3" stroke-dashoffset="5.8"/>
<line x1="798.70" y1="716.10" x2="880.30" y2="716.10" stroke="#000" stroke-width="1.6" />
<path d="M790.7,716.1l12,-3.6v7.2z" fill="#000"/>
<path d="M888.3,716.1l-12,-3.6v7.2z" fill="#000"/>
<line x1="899.80" y1="716.10" x2="1289.60" y2="716.10" stroke="#000" stroke-width="1.6" />
<path d="M891.8,716.1l12,-3.6v7.2z" fill="#000"/>
<path d="M1297.6,716.1l-12,-3.6v7.2z" fill="#000"/>
<text x="821.20" y="698.70" font-size="20" letter-spacing="-0.575" fill="#000" font-family='"Liberation Sans",Arial,sans-serif' font-weight="bold" font-style="normal" >OCV</text>
<text x="1071.90" y="698.70" font-size="20" letter-spacing="-0.267" fill="#000" font-family='"Liberation Sans",Arial,sans-serif' font-weight="bold" font-style="normal" >5 mA</text>
<rect x="787.70" y="666.40" width="512.10" height="511.10" fill="none" stroke="#000" stroke-width="3"/>
<line x1="787.70" y1="1177.50" x2="787.70" y2="1185.80" stroke="#000" stroke-width="2.8" />
<line x1="890.12" y1="1177.50" x2="890.12" y2="1185.80" stroke="#000" stroke-width="2.8" />
<line x1="992.54" y1="1177.50" x2="992.54" y2="1185.80" stroke="#000" stroke-width="2.8" />
<line x1="1094.96" y1="1177.50" x2="1094.96" y2="1185.80" stroke="#000" stroke-width="2.8" />
<line x1="1197.38" y1="1177.50" x2="1197.38" y2="1185.80" stroke="#000" stroke-width="2.8" />
<line x1="1299.80" y1="1177.50" x2="1299.80" y2="1185.80" stroke="#000" stroke-width="2.8" />
<line x1="838.91" y1="1177.50" x2="838.91" y2="1181.60" stroke="#000" stroke-width="2.4" />
<line x1="941.33" y1="1177.50" x2="941.33" y2="1181.60" stroke="#000" stroke-width="2.4" />
<line x1="1043.75" y1="1177.50" x2="1043.75" y2="1181.60" stroke="#000" stroke-width="2.4" />
<line x1="1146.17" y1="1177.50" x2="1146.17" y2="1181.60" stroke="#000" stroke-width="2.4" />
<line x1="1248.59" y1="1177.50" x2="1248.59" y2="1181.60" stroke="#000" stroke-width="2.4" />
<line x1="787.70" y1="1176.70" x2="779.20" y2="1176.70" stroke="#000" stroke-width="2.8" />
<line x1="787.70" y1="1103.80" x2="779.20" y2="1103.80" stroke="#000" stroke-width="2.8" />
<line x1="787.70" y1="1030.90" x2="779.20" y2="1030.90" stroke="#000" stroke-width="2.8" />
<line x1="787.70" y1="958.00" x2="779.20" y2="958.00" stroke="#000" stroke-width="2.8" />
<line x1="787.70" y1="885.10" x2="779.20" y2="885.10" stroke="#000" stroke-width="2.8" />
<line x1="787.70" y1="812.20" x2="779.20" y2="812.20" stroke="#000" stroke-width="2.8" />
<line x1="787.70" y1="739.30" x2="779.20" y2="739.30" stroke="#000" stroke-width="2.8" />
<line x1="787.70" y1="666.40" x2="779.20" y2="666.40" stroke="#000" stroke-width="2.8" />
<line x1="787.70" y1="1140.25" x2="783.20" y2="1140.25" stroke="#000" stroke-width="2.4" />
<line x1="787.70" y1="1067.35" x2="783.20" y2="1067.35" stroke="#000" stroke-width="2.4" />
<line x1="787.70" y1="994.45" x2="783.20" y2="994.45" stroke="#000" stroke-width="2.4" />
<line x1="787.70" y1="921.55" x2="783.20" y2="921.55" stroke="#000" stroke-width="2.4" />
<line x1="787.70" y1="848.65" x2="783.20" y2="848.65" stroke="#000" stroke-width="2.4" />
<line x1="787.70" y1="775.75" x2="783.20" y2="775.75" stroke="#000" stroke-width="2.4" />
<line x1="787.70" y1="702.85" x2="783.20" y2="702.85" stroke="#000" stroke-width="2.4" />
<text x="720.00" y="1184.70" font-size="23.3" letter-spacing="0.176" fill="#000" font-family='"Liberation Sans",Arial,sans-serif' font-weight="bold" font-style="normal">-0.02</text>
<text x="727.93" y="1111.80" font-size="23.3" letter-spacing="0.176" fill="#000" font-family='"Liberation Sans",Arial,sans-serif' font-weight="bold" font-style="normal">0.00</text>
<text x="727.93" y="1038.90" font-size="23.3" letter-spacing="0.176" fill="#000" font-family='"Liberation Sans",Arial,sans-serif' font-weight="bold" font-style="normal">0.02</text>
<text x="727.11" y="966.00" font-size="23.3" letter-spacing="0.176" fill="#000" font-family='"Liberation Sans",Arial,sans-serif' font-weight="bold" font-style="normal">0.04</text>
<text x="727.81" y="893.10" font-size="23.3" letter-spacing="0.176" fill="#000" font-family='"Liberation Sans",Arial,sans-serif' font-weight="bold" font-style="normal">0.06</text>
<text x="727.69" y="820.20" font-size="23.3" letter-spacing="0.176" fill="#000" font-family='"Liberation Sans",Arial,sans-serif' font-weight="bold" font-style="normal">0.08</text>
<text x="727.93" y="747.30" font-size="23.3" letter-spacing="0.176" fill="#000" font-family='"Liberation Sans",Arial,sans-serif' font-weight="bold" font-style="normal">0.10</text>
<text x="727.93" y="674.40" font-size="23.3" letter-spacing="0.176" fill="#000" font-family='"Liberation Sans",Arial,sans-serif' font-weight="bold" font-style="normal">0.12</text>
<text x="781.53" y="1209.30" font-size="23.3" letter-spacing="0.239" fill="#000" font-family='"Liberation Sans",Arial,sans-serif' font-weight="bold" font-style="normal">0</text>
<text x="877.43" y="1209.30" font-size="23.3" letter-spacing="0.239" fill="#000" font-family='"Liberation Sans",Arial,sans-serif' font-weight="bold" font-style="normal">20</text>
<text x="980.05" y="1209.30" font-size="23.3" letter-spacing="0.239" fill="#000" font-family='"Liberation Sans",Arial,sans-serif' font-weight="bold" font-style="normal">40</text>
<text x="1082.24" y="1209.30" font-size="23.3" letter-spacing="0.239" fill="#000" font-family='"Liberation Sans",Arial,sans-serif' font-weight="bold" font-style="normal">60</text>
<text x="1184.72" y="1209.30" font-size="23.3" letter-spacing="0.239" fill="#000" font-family='"Liberation Sans",Arial,sans-serif' font-weight="bold" font-style="normal">80</text>
<text x="1280.14" y="1209.30" font-size="23.3" letter-spacing="0.239" fill="#000" font-family='"Liberation Sans",Arial,sans-serif' font-weight="bold" font-style="normal">100</text>
<text x="989.61" y="1242.10" font-size="29" letter-spacing="-0.052" fill="#000" font-family='"Liberation Sans",Arial,sans-serif' font-weight="bold" font-style="normal" >Time (s)</text>
<text transform="translate(711.10,989.90) rotate(-90)" x="-0.15" y="0" font-size="29.5" letter-spacing="-0.060" fill="#000" font-family='"Liberation Sans",Arial,sans-serif' font-weight="bold" font-style="normal">Voltage (V)</text>
<text x="687.35" y="676.00" font-size="44" letter-spacing="0.000" fill="#000" font-family='"Liberation Sans",Arial,sans-serif' font-weight="bold" font-style="normal" >e</text>
<line x1="1012.50" y1="1030.80" x2="1065.20" y2="1030.80" stroke="#000" stroke-width="5.8" />
<text x="1070.98" y="1038.00" font-size="22.5" letter-spacing="0.636" fill="#000" font-family='"Liberation Sans",Arial,sans-serif' font-weight="bold" font-style="normal" >SS|SS</text>
<line x1="1012.50" y1="1060.45" x2="1065.20" y2="1060.45" stroke="#008000" stroke-width="5.8" />
<text x="1070.98" y="1067.80" font-size="22.5" letter-spacing="0.458" fill="#000" font-family='"Liberation Sans",Arial,sans-serif' font-weight="bold" font-style="normal" >SS|pristine K|SS</text>
<line x1="1012.50" y1="1090.10" x2="1065.20" y2="1090.10" stroke="#CC0000" stroke-width="5.8" />
<text x="1070.98" y="1097.60" font-size="22.5" letter-spacing="0.533" fill="#000" font-family='"Liberation Sans",Arial,sans-serif' font-weight="bold" font-style="normal" >SS|CCPP|SS</text>
</g>
<g id="panel-f">
<line x1="1505.30" y1="796.90" x2="1942.60" y2="1120.00" stroke="#000" stroke-width="5.0" stroke-linecap="butt"/>
<line x1="1504.10" y1="693.70" x2="1942.80" y2="954.00" stroke="#CC0000" stroke-width="5.0" />
<circle cx="1505.3" cy="791.7" r="6.6" fill="url(#gk)"/>
<circle cx="1603.9" cy="873.1" r="6.6" fill="url(#gk)"/>
<circle cx="1708.9" cy="947.0" r="6.6" fill="url(#gk)"/>
<circle cx="1821.7" cy="1030.5" r="6.6" fill="url(#gk)"/>
<circle cx="1942.6" cy="1119.6" r="6.6" fill="url(#gk)"/>
<circle cx="1505.2" cy="700.7" r="6.6" fill="url(#gr)"/>
<circle cx="1603.8" cy="745.1" r="6.6" fill="url(#gr)"/>
<circle cx="1709.1" cy="809.2" r="6.6" fill="url(#gr)"/>
<circle cx="1821.8" cy="878.5" r="6.6" fill="url(#gr)"/>
<circle cx="1942.7" cy="955.4" r="6.6" fill="url(#gr)"/>
<rect x="1465.30" y="666.30" width="514.50" height="509.70" fill="none" stroke="#000" stroke-width="4.2"/>
<line x1="1511.60" y1="1176.00" x2="1511.60" y2="1181.60" stroke="#000" stroke-width="3.6" />
<line x1="1605.24" y1="1176.00" x2="1605.24" y2="1181.60" stroke="#000" stroke-width="3.6" />
<line x1="1698.88" y1="1176.00" x2="1698.88" y2="1181.60" stroke="#000" stroke-width="3.6" />
<line x1="1792.52" y1="1176.00" x2="1792.52" y2="1181.60" stroke="#000" stroke-width="3.6" />
<line x1="1886.16" y1="1176.00" x2="1886.16" y2="1181.60" stroke="#000" stroke-width="3.6" />
<line x1="1979.80" y1="1176.00" x2="1979.80" y2="1181.60" stroke="#000" stroke-width="3.6" />
<line x1="1464.78" y1="1176.00" x2="1464.78" y2="1179.40" stroke="#000" stroke-width="3.0" />
<line x1="1558.42" y1="1176.00" x2="1558.42" y2="1179.40" stroke="#000" stroke-width="3.0" />
<line x1="1652.06" y1="1176.00" x2="1652.06" y2="1179.40" stroke="#000" stroke-width="3.0" />
<line x1="1745.70" y1="1176.00" x2="1745.70" y2="1179.40" stroke="#000" stroke-width="3.0" />
<line x1="1839.34" y1="1176.00" x2="1839.34" y2="1179.40" stroke="#000" stroke-width="3.0" />
<line x1="1932.98" y1="1176.00" x2="1932.98" y2="1179.40" stroke="#000" stroke-width="3.0" />
<line x1="1465.30" y1="1176.00" x2="1458.50" y2="1176.00" stroke="#000" stroke-width="3.6" />
<line x1="1465.30" y1="1091.05" x2="1458.50" y2="1091.05" stroke="#000" stroke-width="3.6" />
<line x1="1465.30" y1="1006.10" x2="1458.50" y2="1006.10" stroke="#000" stroke-width="3.6" />
<line x1="1465.30" y1="921.15" x2="1458.50" y2="921.15" stroke="#000" stroke-width="3.6" />
<line x1="1465.30" y1="836.20" x2="1458.50" y2="836.20" stroke="#000" stroke-width="3.6" />
<line x1="1465.30" y1="751.25" x2="1458.50" y2="751.25" stroke="#000" stroke-width="3.6" />
<line x1="1465.30" y1="666.30" x2="1458.50" y2="666.30" stroke="#000" stroke-width="3.6" />
<line x1="1465.30" y1="708.77" x2="1461.40" y2="708.77" stroke="#000" stroke-width="2.6" />
<line x1="1465.30" y1="793.72" x2="1461.40" y2="793.72" stroke="#000" stroke-width="2.6" />
<line x1="1465.30" y1="878.67" x2="1461.40" y2="878.67" stroke="#000" stroke-width="2.6" />
<line x1="1465.30" y1="963.62" x2="1461.40" y2="963.62" stroke="#000" stroke-width="2.6" />
<line x1="1465.30" y1="1048.58" x2="1461.40" y2="1048.58" stroke="#000" stroke-width="2.6" />
<line x1="1465.30" y1="1133.53" x2="1461.40" y2="1133.53" stroke="#000" stroke-width="2.6" />
<text x="1418.25" y="1184.00" font-size="28" letter-spacing="-1.180" fill="#000" font-family='"Liberation Sans",Arial,sans-serif' font-weight="bold" font-style="normal">-12</text>
<text x="1415.74" y="1099.05" font-size="28" letter-spacing="-1.180" fill="#000" font-family='"Liberation Sans",Arial,sans-serif' font-weight="bold" font-style="normal">-11</text>
<text x="1418.25" y="1014.10" font-size="28" letter-spacing="-1.180" fill="#000" font-family='"Liberation Sans",Arial,sans-serif' font-weight="bold" font-style="normal">-10</text>
<text x="1432.61" y="929.15" font-size="28" letter-spacing="-1.180" fill="#000" font-family='"Liberation Sans",Arial,sans-serif' font-weight="bold" font-style="normal">-9</text>
<text x="1432.40" y="844.20" font-size="28" letter-spacing="-1.180" fill="#000" font-family='"Liberation Sans",Arial,sans-serif' font-weight="bold" font-style="normal">-8</text>
<text x="1432.82" y="759.25" font-size="28" letter-spacing="-1.180" fill="#000" font-family='"Liberation Sans",Arial,sans-serif' font-weight="bold" font-style="normal">-7</text>
<text x="1432.54" y="674.30" font-size="28" letter-spacing="-1.180" fill="#000" font-family='"Liberation Sans",Arial,sans-serif' font-weight="bold" font-style="normal">-6</text>
<text x="1494.97" y="1206.20" font-size="28" letter-spacing="-1.420" fill="#000" font-family='"Liberation Sans",Arial,sans-serif' font-weight="bold" font-style="normal">3.2</text>
<text x="1588.54" y="1206.20" font-size="28" letter-spacing="-1.420" fill="#000" font-family='"Liberation Sans",Arial,sans-serif' font-weight="bold" font-style="normal">3.3</text>
<text x="1681.76" y="1206.20" font-size="28" letter-spacing="-1.420" fill="#000" font-family='"Liberation Sans",Arial,sans-serif' font-weight="bold" font-style="normal">3.4</text>
<text x="1775.71" y="1206.20" font-size="28" letter-spacing="-1.420" fill="#000" font-family='"Liberation Sans",Arial,sans-serif' font-weight="bold" font-style="normal">3.5</text>
<text x="1869.46" y="1206.20" font-size="28" letter-spacing="-1.420" fill="#000" font-family='"Liberation Sans",Arial,sans-serif' font-weight="bold" font-style="normal">3.6</text>
<text x="1963.24" y="1206.20" font-size="28" letter-spacing="-1.420" fill="#000" font-family='"Liberation Sans",Arial,sans-serif' font-weight="bold" font-style="normal">3.7</text>
<text transform="translate(1405.6,988.7) rotate(-90)" fill="#000" font-family='"Liberation Sans",Arial,sans-serif' font-weight="bold" font-style="normal"><tspan x="-1.40" y="0.00" font-size="34" letter-spacing="-1.752">ln(R</tspan><tspan x="57.34" y="-11.90" font-size="23" letter-spacing="-3.975">-1</tspan><tspan x="75.95" y="0.00" font-size="34" letter-spacing="-1.105">/Ω</tspan><tspan x="110.54" y="-11.90" font-size="23" letter-spacing="-4.575">-1</tspan><tspan x="128.80" y="0.00" font-size="34" letter-spacing="0.000">)</tspan></text>
<text fill="#000" font-family='"Liberation Sans",Arial,sans-serif' font-weight="bold" font-style="normal"><tspan x="1642.16" y="1246.30" font-size="32.7" letter-spacing="-1.518">1000/T (K</tspan><tspan x="1775.16" y="1235.30" font-size="22.5" letter-spacing="-3.162">-1</tspan><tspan x="1793.00" y="1246.30" font-size="32.7" letter-spacing="0.000">)</tspan></text>
<text x="1395.34" y="675.60" font-size="44" letter-spacing="0.000" fill="#000" font-family='"Liberation Sans",Arial,sans-serif' font-weight="bold" font-style="normal" >f</text>
<text fill="#C00000" font-family='"Liberation Sans",Arial,sans-serif' font-weight="bold" font-style="normal"><tspan x="1686.62" y="757.00" font-size="33.5" letter-spacing="0.000">E</tspan><tspan x="1705.89" y="766.30" font-size="22" letter-spacing="0.000">a</tspan><tspan x="1717.06" y="757.00" font-size="33.5" letter-spacing="0.000">= </tspan><tspan x="1743.59" y="757.00" font-size="33.5" letter-spacing="-2.086">53.94 </tspan><tspan x="1826.12" y="757.00" font-size="33.5" letter-spacing="-2.841">KJ </tspan><tspan x="1872.72" y="757.00" font-size="33.5" letter-spacing="-2.562">mol</tspan><tspan x="1925.84" y="743.20" font-size="23" letter-spacing="-4.375">-1</tspan></text>
<text fill="#000" font-family='"Liberation Sans",Arial,sans-serif' font-weight="bold" font-style="normal"><tspan x="1488.42" y="1011.60" font-size="33.5" letter-spacing="0.000">E</tspan><tspan x="1507.69" y="1020.90" font-size="22" letter-spacing="0.000">a</tspan><tspan x="1518.86" y="1011.60" font-size="33.5" letter-spacing="0.000">= </tspan><tspan x="1545.23" y="1011.60" font-size="33.5" letter-spacing="-1.835">68.08 </tspan><tspan x="1627.92" y="1011.60" font-size="33.5" letter-spacing="-2.841">KJ </tspan><tspan x="1674.52" y="1011.60" font-size="33.5" letter-spacing="-2.562">mol</tspan><tspan x="1727.64" y="997.80" font-size="23" letter-spacing="-4.375">-1</tspan></text>
<circle cx="1647.2" cy="1104.8" r="6.6" fill="url(#gk)"/>
<circle cx="1647.2" cy="1133.1" r="6.6" fill="url(#gr)"/>
<text x="1665.14" y="1108.80" font-size="24" letter-spacing="-0.707" fill="#000" font-family='"Liberation Sans",Arial,sans-serif' font-weight="bold" font-style="normal" >pristine K</text>
<text x="1665.32" y="1137.30" font-size="24.5" letter-spacing="-1.711" fill="#000" font-family='"Liberation Sans",Arial,sans-serif' font-weight="bold" font-style="normal" >CCPP</text>
</g>
</svg></body></html>
